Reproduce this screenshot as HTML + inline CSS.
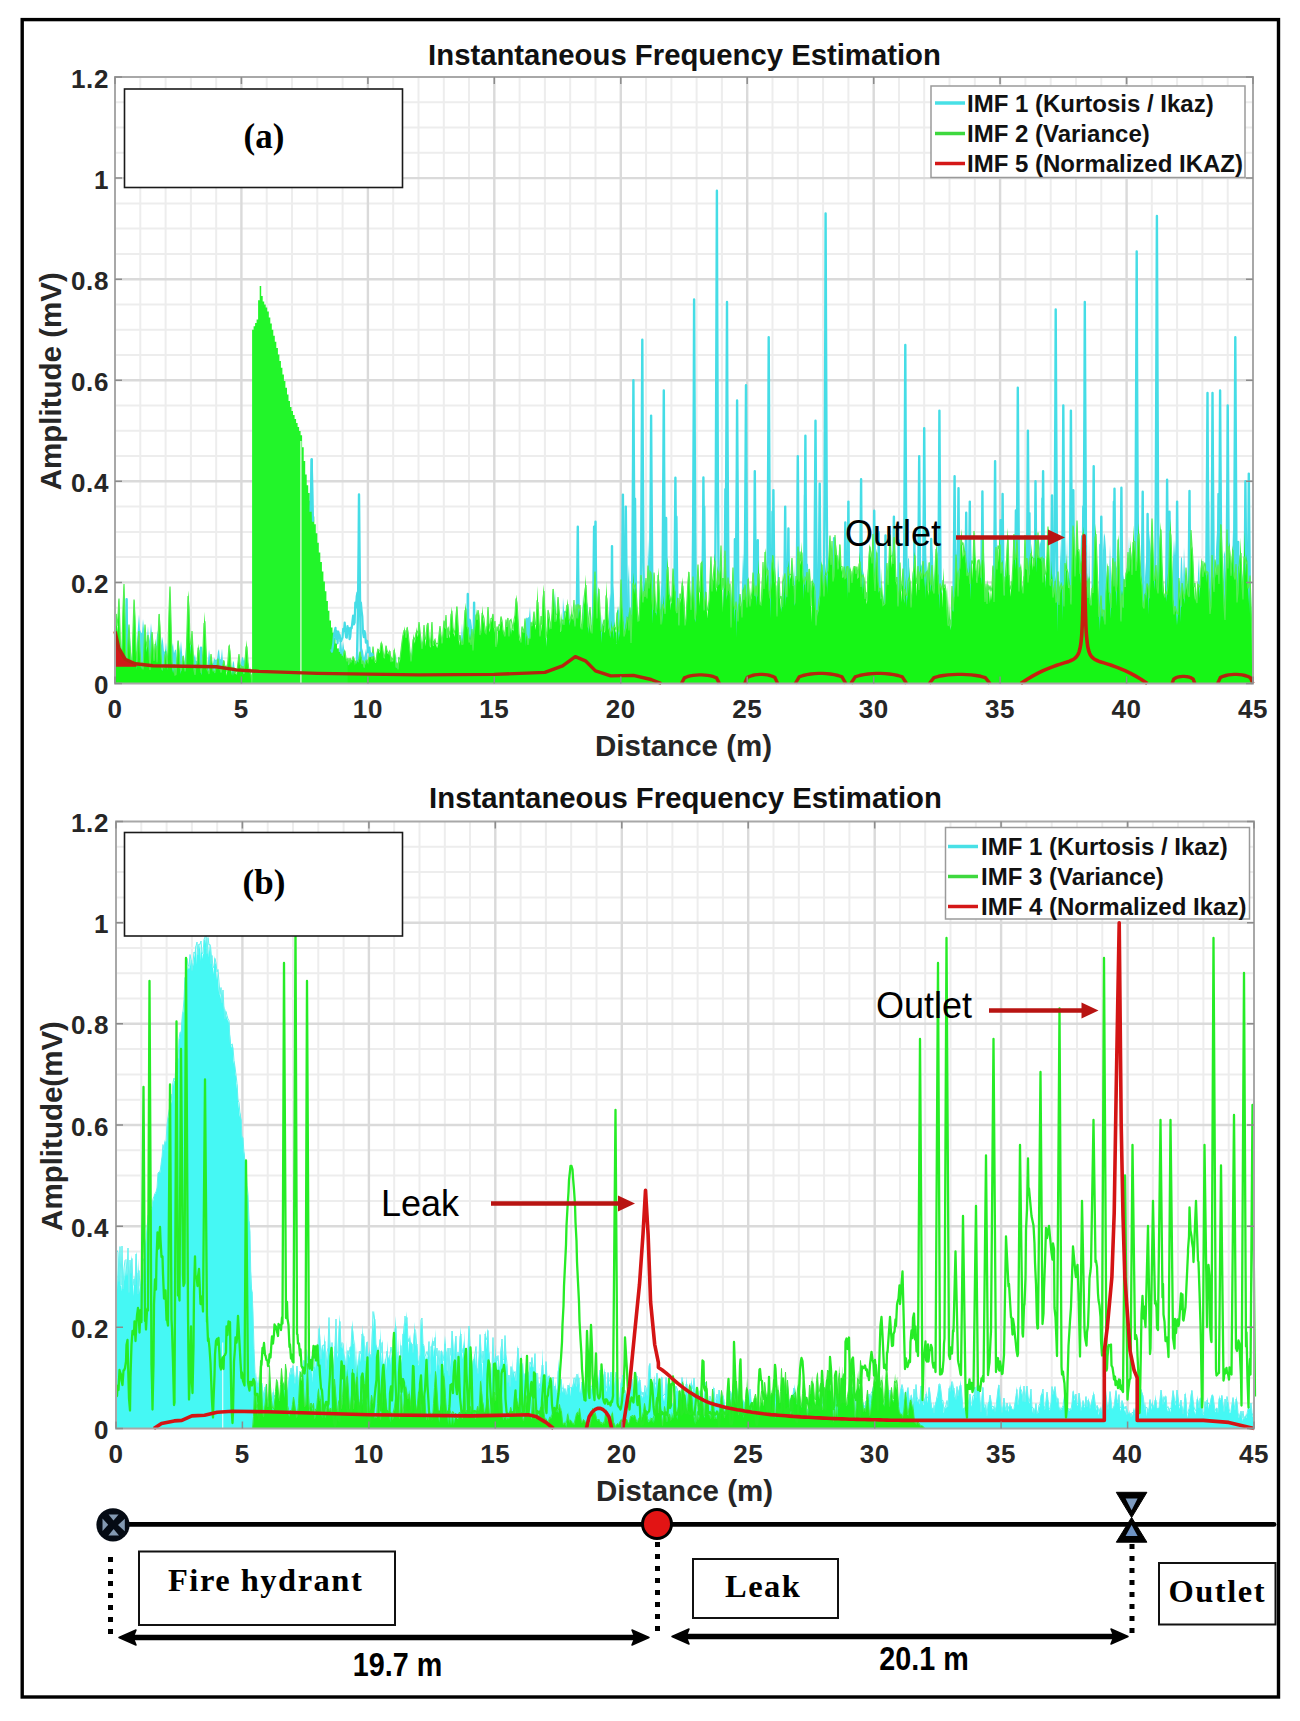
<!DOCTYPE html>
<html><head><meta charset="utf-8"><style>
html,body{margin:0;padding:0;background:#fff;}
svg{display:block}
text{font-family:"Liberation Sans", sans-serif;}
.tk{font-weight:bold;font-size:26px;letter-spacing:0.6px;fill:#262626}
.ttl{font-weight:bold;font-size:29.3px;fill:#111}
.xl{font-weight:bold;font-size:29.5px;fill:#262626}
.lg{font-weight:bold;font-size:24px;fill:#111}
.ann{font-size:36px;fill:#000}
.pl{font-family:"Liberation Serif", serif;font-weight:bold;font-size:35px;fill:#000}
.sr{font-family:"Liberation Serif", serif;font-weight:bold;font-size:32.5px;letter-spacing:1.5px;fill:#000}
.dm{font-weight:bold;font-size:33px;fill:#000}
</style></head>
<body><svg width="1300" height="1721" viewBox="0 0 1300 1721">
<rect width="1300" height="1721" fill="#fff"/>
<path d="M140.3 77.0V683.5M165.6 77.0V683.5M190.9 77.0V683.5M216.2 77.0V683.5M266.7 77.0V683.5M292.0 77.0V683.5M317.3 77.0V683.5M342.6 77.0V683.5M393.2 77.0V683.5M418.5 77.0V683.5M443.8 77.0V683.5M469.0 77.0V683.5M519.6 77.0V683.5M544.9 77.0V683.5M570.2 77.0V683.5M595.5 77.0V683.5M646.1 77.0V683.5M671.4 77.0V683.5M696.6 77.0V683.5M721.9 77.0V683.5M772.5 77.0V683.5M797.8 77.0V683.5M823.1 77.0V683.5M848.4 77.0V683.5M899.0 77.0V683.5M924.2 77.0V683.5M949.5 77.0V683.5M974.8 77.0V683.5M1025.4 77.0V683.5M1050.7 77.0V683.5M1076.0 77.0V683.5M1101.3 77.0V683.5M1151.8 77.0V683.5M1177.1 77.0V683.5M1202.4 77.0V683.5M1227.7 77.0V683.5M115.0 658.2H1253.0M115.0 633.0H1253.0M115.0 607.7H1253.0M115.0 557.1H1253.0M115.0 531.9H1253.0M115.0 506.6H1253.0M115.0 456.1H1253.0M115.0 430.8H1253.0M115.0 405.5H1253.0M115.0 355.0H1253.0M115.0 329.7H1253.0M115.0 304.4H1253.0M115.0 253.9H1253.0M115.0 228.6H1253.0M115.0 203.4H1253.0M115.0 152.8H1253.0M115.0 127.5H1253.0M115.0 102.3H1253.0" stroke="#ededed" stroke-width="2" fill="none"/>
<path d="M241.4 77.0V683.5M367.9 77.0V683.5M494.3 77.0V683.5M620.8 77.0V683.5M747.2 77.0V683.5M873.7 77.0V683.5M1000.1 77.0V683.5M1126.6 77.0V683.5M115.0 582.4H1253.0M115.0 481.3H1253.0M115.0 380.2H1253.0M115.0 279.2H1253.0M115.0 178.1H1253.0" stroke="#dadada" stroke-width="2.4" fill="none"/>
<polygon points="115.0,683.5 115.0,647.3 116.0,638.2 117.0,648.1 118.0,653.3 119.0,666.7 120.0,667.7 121.0,654.3 122.0,637.9 123.0,621.7 124.0,631.4 125.0,651.3 126.0,665.2 127.0,658.0 128.0,646.1 129.0,632.2 130.0,637.5 131.0,651.7 132.0,663.7 133.0,645.3 134.0,619.4 135.0,631.4 136.0,655.9 137.0,641.0 138.0,626.2 139.0,614.2 140.0,629.4 141.0,632.4 142.0,633.1 143.0,618.9 144.0,628.9 145.0,643.3 146.0,653.2 147.0,638.2 148.0,625.9 149.0,641.3 150.0,636.2 151.0,623.0 152.0,634.7 153.0,648.4 154.0,661.8 155.0,660.1 156.0,647.3 157.0,634.6 158.0,630.3 159.0,643.4 160.0,655.4 161.0,645.5 162.0,636.5 163.0,641.2 164.0,651.6 165.0,651.6 166.0,642.5 167.0,654.6 168.0,666.2 169.0,669.3 170.0,666.7 171.0,656.7 172.0,646.9 173.0,643.1 174.0,653.2 175.0,650.0 176.0,649.6 177.0,666.8 178.0,672.4 179.0,663.9 180.0,652.3 181.0,640.9 182.0,652.4 183.0,664.1 184.0,669.4 185.0,658.2 186.0,647.2 187.0,636.4 188.0,644.0 189.0,655.2 190.0,647.4 191.0,637.6 192.0,655.1 193.0,664.6 194.0,657.6 195.0,653.9 196.0,661.3 197.0,660.8 198.0,664.9 199.0,659.2 200.0,647.0 201.0,652.4 202.0,655.5 203.0,654.0 204.0,655.5 205.0,659.8 206.0,662.6 207.0,672.0 208.0,660.5 209.0,649.3 210.0,657.2 211.0,668.7 212.0,664.2 213.0,663.6 214.0,658.0 215.0,659.6 216.0,660.0 217.0,659.0 218.0,651.6 219.0,649.0 220.0,659.5 221.0,658.7 222.0,648.3 223.0,662.5 224.0,675.9 225.0,675.9 226.0,676.0 227.0,676.0 228.0,676.1 229.0,672.9 230.0,672.3 231.0,676.1 232.0,669.5 233.0,660.7 234.0,662.8 235.0,672.4 236.0,676.5 237.0,676.6 238.0,676.7 239.0,674.3 240.0,668.4 241.0,662.5 242.0,656.7 243.0,657.7 244.0,661.1 245.0,657.4 246.0,666.7 247.0,666.4 248.0,662.6 249.0,668.0 250.0,669.2 251.0,671.2 252.0,683.5 253.0,683.5 254.0,683.5 255.0,683.5 256.0,683.5 257.0,683.5 258.0,683.5 259.0,683.5 260.0,683.5 261.0,683.5 262.0,683.5 263.0,683.5 264.0,683.5 265.0,683.5 266.0,683.5 267.0,683.5 268.0,683.5 269.0,683.5 270.0,683.5 271.0,683.5 272.0,683.5 273.0,683.5 274.0,683.5 275.0,683.5 276.0,683.5 277.0,683.5 278.0,683.5 279.0,683.5 280.0,683.5 281.0,683.5 282.0,683.5 283.0,683.5 284.0,683.5 285.0,683.5 286.0,683.5 287.0,683.5 288.0,683.5 289.0,683.5 290.0,683.5 291.0,683.5 292.0,683.5 293.0,683.5 294.0,683.5 295.0,683.5 296.0,683.5 297.0,683.5 298.0,683.5 299.0,683.5 300.0,683.5 301.0,683.5 302.0,683.5 303.0,683.5 304.0,683.5 305.0,683.5 306.0,683.5 307.0,683.5 308.0,683.5 309.0,683.5 310.0,683.5 311.0,683.5 312.0,683.5 313.0,683.5 314.0,683.5 315.0,683.5 316.0,683.5 317.0,683.5 318.0,663.3 319.0,669.8 320.0,665.7 321.0,659.3 322.0,661.4 323.0,669.9 324.0,670.9 325.0,677.1 326.0,677.4 327.0,673.6 328.0,666.1 329.0,669.3 330.0,660.2 331.0,666.3 332.0,675.7 333.0,673.4 334.0,668.5 335.0,666.5 336.0,670.7 337.0,673.1 338.0,666.6 339.0,652.2 340.0,637.4 341.0,638.3 342.0,650.1 343.0,641.6 344.0,647.7 345.0,662.3 346.0,670.7 347.0,668.8 348.0,659.3 349.0,665.9 350.0,659.6 351.0,659.7 352.0,666.0 353.0,672.0 354.0,672.2 355.0,672.5 356.0,671.7 357.0,664.8 358.0,658.1 359.0,651.8 360.0,654.9 361.0,657.1 362.0,648.1 363.0,651.2 364.0,657.7 365.0,653.9 366.0,648.6 367.0,653.6 368.0,667.9 369.0,672.1 370.0,670.0 371.0,667.4 372.0,663.3 373.0,666.6 374.0,670.8 375.0,668.1 376.0,664.4 377.0,668.8 378.0,673.2 379.0,672.4 380.0,668.8 381.0,671.7 382.0,669.7 383.0,671.4 384.0,675.4 385.0,675.4 386.0,675.4 387.0,671.3 388.0,657.6 389.0,658.3 390.0,671.9 391.0,671.3 392.0,672.6 393.0,663.5 394.0,653.6 395.0,657.8 396.0,654.3 397.0,666.3 398.0,675.1 399.0,675.1 400.0,675.0 401.0,670.5 402.0,659.3 403.0,663.6 404.0,666.8 405.0,672.3 406.0,664.9 407.0,655.9 408.0,670.8 409.0,671.5 410.0,669.7 411.0,658.4 412.0,647.2 413.0,653.2 414.0,659.0 415.0,666.2 416.0,650.0 417.0,640.0 418.0,657.0 419.0,672.9 420.0,653.7 421.0,635.6 422.0,648.7 423.0,639.3 424.0,645.5 425.0,654.6 426.0,660.8 427.0,663.9 428.0,653.9 429.0,661.0 430.0,668.8 431.0,660.2 432.0,651.4 433.0,654.6 434.0,663.1 435.0,671.7 436.0,670.6 437.0,660.9 438.0,651.2 439.0,658.8 440.0,658.2 441.0,655.7 442.0,663.7 443.0,654.3 444.0,658.0 445.0,662.6 446.0,641.8 447.0,648.6 448.0,638.7 449.0,645.2 450.0,654.3 451.0,663.3 452.0,656.0 453.0,648.8 454.0,655.5 455.0,662.5 456.0,669.6 457.0,670.3 458.0,670.1 459.0,669.9 460.0,656.6 461.0,640.1 462.0,623.3 463.0,639.0 464.0,643.1 465.0,655.9 466.0,667.5 467.0,651.8 468.0,633.8 469.0,618.8 470.0,618.5 471.0,620.1 472.0,627.3 473.0,640.3 474.0,641.1 475.0,652.6 476.0,648.4 477.0,632.2 478.0,616.2 479.0,623.4 480.0,639.8 481.0,628.8 482.0,639.4 483.0,627.7 484.0,644.2 485.0,646.2 486.0,654.9 487.0,669.8 488.0,669.9 489.0,669.9 490.0,652.4 491.0,630.4 492.0,655.2 493.0,665.2 494.0,670.3 495.0,661.1 496.0,651.7 497.0,642.1 498.0,650.9 499.0,651.5 500.0,641.7 501.0,627.0 502.0,638.4 503.0,652.6 504.0,652.5 505.0,659.0 506.0,655.7 507.0,649.9 508.0,656.7 509.0,642.8 510.0,632.3 511.0,627.5 512.0,652.4 513.0,644.3 514.0,624.6 515.0,627.0 516.0,625.5 517.0,638.1 518.0,648.8 519.0,650.6 520.0,641.1 521.0,648.1 522.0,652.7 523.0,639.5 524.0,624.4 525.0,623.8 526.0,617.3 527.0,618.6 528.0,617.5 529.0,616.9 530.0,606.8 531.0,623.4 532.0,640.2 533.0,657.3 534.0,658.2 535.0,648.3 536.0,638.3 537.0,642.3 538.0,641.2 539.0,653.2 540.0,644.5 541.0,654.4 542.0,637.5 543.0,659.2 544.0,653.4 545.0,616.8 546.0,622.6 547.0,659.0 548.0,653.5 549.0,634.6 550.0,628.3 551.0,637.4 552.0,618.7 553.0,616.0 554.0,604.5 555.0,590.3 556.0,612.6 557.0,633.1 558.0,625.9 559.0,640.2 560.0,661.3 561.0,659.3 562.0,637.4 563.0,597.4 564.0,610.4 565.0,611.2 566.0,627.2 567.0,626.0 568.0,606.4 569.0,606.9 570.0,623.2 571.0,639.8 572.0,652.9 573.0,632.3 574.0,618.8 575.0,628.2 576.0,618.7 577.0,606.6 578.0,627.6 579.0,648.8 580.0,660.7 581.0,651.8 582.0,623.1 583.0,594.2 584.0,616.5 585.0,629.8 586.0,628.2 587.0,602.0 588.0,606.6 589.0,632.6 590.0,634.0 591.0,635.2 592.0,612.4 593.0,584.5 594.0,581.6 595.0,609.2 596.0,636.9 597.0,659.7 598.0,659.6 599.0,659.5 600.0,654.6 601.0,628.0 602.0,613.9 603.0,638.8 604.0,636.3 605.0,652.6 606.0,659.1 607.0,654.1 608.0,633.9 609.0,613.5 610.0,593.1 611.0,600.2 612.0,619.6 613.0,584.8 614.0,595.2 615.0,629.8 616.0,657.6 617.0,609.8 618.0,611.1 619.0,605.7 620.0,631.4 621.0,657.3 622.0,658.2 623.0,652.5 624.0,635.5 625.0,615.8 626.0,619.5 627.0,610.6 628.0,580.7 629.0,564.1 630.0,611.1 631.0,609.0 632.0,594.2 633.0,618.4 634.0,642.7 635.0,657.4 636.0,643.8 637.0,629.0 638.0,618.8 639.0,633.4 640.0,647.7 641.0,622.0 642.0,596.3 643.0,582.1 644.0,569.8 645.0,588.4 646.0,606.6 647.0,608.8 648.0,539.0 649.0,562.4 650.0,631.2 651.0,651.7 652.0,641.8 653.0,625.2 654.0,606.0 655.0,599.2 656.0,609.8 657.0,601.1 658.0,593.8 659.0,623.2 660.0,617.3 661.0,581.8 662.0,590.7 663.0,591.2 664.0,566.5 665.0,572.8 666.0,602.4 667.0,630.2 668.0,611.3 669.0,581.4 670.0,595.6 671.0,622.2 672.0,638.3 673.0,654.6 674.0,643.9 675.0,610.9 676.0,577.9 677.0,599.7 678.0,632.6 679.0,626.4 680.0,625.8 681.0,605.2 682.0,591.1 683.0,604.7 684.0,611.7 685.0,631.5 686.0,636.5 687.0,624.4 688.0,583.9 689.0,581.7 690.0,622.1 691.0,621.8 692.0,599.0 693.0,582.7 694.0,605.4 695.0,628.2 696.0,622.5 697.0,591.1 698.0,583.2 699.0,605.6 700.0,641.9 701.0,620.4 702.0,586.9 703.0,553.4 704.0,575.4 705.0,590.9 706.0,580.5 707.0,614.3 708.0,644.6 709.0,654.7 710.0,638.2 711.0,611.1 712.0,589.6 713.0,581.3 714.0,605.6 715.0,628.7 716.0,605.9 717.0,608.4 718.0,616.6 719.0,602.8 720.0,624.0 721.0,645.3 722.0,654.5 723.0,645.6 724.0,608.8 725.0,604.5 726.0,641.3 727.0,654.5 728.0,654.4 729.0,651.4 730.0,630.9 731.0,601.5 732.0,584.7 733.0,616.3 734.0,632.2 735.0,611.7 736.0,590.4 737.0,587.1 738.0,608.3 739.0,629.5 740.0,631.2 741.0,614.9 742.0,584.2 743.0,553.5 744.0,570.6 745.0,577.0 746.0,585.7 747.0,602.9 748.0,616.8 749.0,642.2 750.0,654.1 751.0,640.6 752.0,618.7 753.0,621.9 754.0,597.2 755.0,587.0 756.0,617.3 757.0,558.2 758.0,588.6 759.0,606.5 760.0,603.4 761.0,642.2 762.0,653.5 763.0,653.6 764.0,653.5 765.0,653.5 766.0,653.4 767.0,648.8 768.0,616.1 769.0,583.3 770.0,547.5 771.0,561.1 772.0,593.7 773.0,582.4 774.0,577.7 775.0,603.8 776.0,629.9 777.0,594.2 778.0,555.9 779.0,574.9 780.0,613.1 781.0,610.5 782.0,590.6 783.0,622.3 784.0,645.5 785.0,620.6 786.0,652.6 787.0,652.6 788.0,605.2 789.0,546.8 790.0,586.1 791.0,622.9 792.0,607.2 793.0,589.6 794.0,563.1 795.0,585.3 796.0,611.6 797.0,601.3 798.0,625.6 799.0,649.9 800.0,629.6 801.0,597.1 802.0,585.0 803.0,615.1 804.0,639.5 805.0,601.4 806.0,563.9 807.0,563.2 808.0,564.4 809.0,590.2 810.0,619.0 811.0,629.3 812.0,640.6 813.0,619.3 814.0,598.0 815.0,591.7 816.0,613.0 817.0,629.3 818.0,569.9 819.0,599.1 820.0,593.9 821.0,562.5 822.0,574.0 823.0,605.5 824.0,570.9 825.0,603.7 826.0,584.7 827.0,573.4 828.0,568.6 829.0,557.1 830.0,586.3 831.0,615.4 832.0,641.7 833.0,652.1 834.0,652.6 835.0,634.6 836.0,596.4 837.0,558.1 838.0,554.4 839.0,592.7 840.0,595.5 841.0,591.8 842.0,618.7 843.0,590.5 844.0,582.3 845.0,611.8 846.0,640.5 847.0,606.9 848.0,601.7 849.0,614.5 850.0,591.6 851.0,599.7 852.0,622.7 853.0,619.8 854.0,614.6 855.0,636.8 856.0,652.9 857.0,653.0 858.0,653.0 859.0,653.0 860.0,653.0 861.0,636.2 862.0,603.6 863.0,571.0 864.0,575.0 865.0,607.6 866.0,606.9 867.0,625.9 868.0,618.2 869.0,581.3 870.0,589.3 871.0,618.8 872.0,616.5 873.0,640.9 874.0,653.2 875.0,653.2 876.0,653.1 877.0,645.7 878.0,609.0 879.0,572.2 880.0,565.3 881.0,589.5 882.0,616.2 883.0,591.5 884.0,611.8 885.0,636.4 886.0,631.7 887.0,602.3 888.0,571.9 889.0,559.2 890.0,589.5 891.0,619.9 892.0,626.9 893.0,597.6 894.0,568.2 895.0,586.7 896.0,616.0 897.0,636.2 898.0,622.6 899.0,621.6 900.0,624.4 901.0,644.5 902.0,627.9 903.0,581.9 904.0,598.2 905.0,618.8 906.0,623.9 907.0,592.3 908.0,558.6 909.0,558.2 910.0,591.8 911.0,625.5 912.0,652.7 913.0,652.7 914.0,652.6 915.0,652.6 916.0,652.6 917.0,652.6 918.0,649.2 919.0,613.6 920.0,578.7 921.0,564.0 922.0,566.4 923.0,600.3 924.0,623.1 925.0,637.1 926.0,574.6 927.0,553.7 928.0,618.1 929.0,637.9 930.0,626.6 931.0,605.0 932.0,544.7 933.0,557.1 934.0,589.3 935.0,589.6 936.0,602.2 937.0,571.4 938.0,581.2 939.0,548.8 940.0,556.7 941.0,590.8 942.0,624.8 943.0,633.7 944.0,610.7 945.0,599.1 946.0,622.1 947.0,645.1 948.0,652.2 949.0,652.2 950.0,638.0 951.0,615.0 952.0,592.0 953.0,589.8 954.0,612.7 955.0,594.2 956.0,559.2 957.0,548.8 958.0,561.9 959.0,541.7 960.0,586.5 961.0,631.4 962.0,628.6 963.0,605.1 964.0,611.3 965.0,580.0 966.0,583.7 967.0,540.1 968.0,581.6 969.0,575.4 970.0,538.9 971.0,549.1 972.0,585.5 973.0,621.9 974.0,621.9 975.0,650.9 976.0,651.1 977.0,625.4 978.0,620.8 979.0,597.8 980.0,574.8 981.0,581.0 982.0,570.8 983.0,576.1 984.0,574.8 985.0,608.1 986.0,641.5 987.0,650.7 988.0,650.6 989.0,617.3 990.0,604.0 991.0,641.4 992.0,650.5 993.0,649.5 994.0,619.9 995.0,590.2 996.0,560.4 997.0,540.8 998.0,570.4 999.0,600.0 1000.0,629.8 1001.0,650.1 1002.0,650.1 1003.0,643.6 1004.0,626.0 1005.0,608.4 1006.0,617.4 1007.0,625.1 1008.0,627.3 1009.0,616.4 1010.0,630.8 1011.0,647.5 1012.0,643.4 1013.0,642.4 1014.0,650.0 1015.0,648.3 1016.0,634.4 1017.0,630.0 1018.0,643.9 1019.0,608.7 1020.0,615.3 1021.0,649.9 1022.0,648.2 1023.0,645.5 1024.0,649.2 1025.0,621.1 1026.0,583.0 1027.0,544.9 1028.0,564.2 1029.0,540.5 1030.0,592.8 1031.0,558.8 1032.0,595.4 1033.0,572.1 1034.0,542.4 1035.0,572.7 1036.0,585.1 1037.0,620.8 1038.0,607.3 1039.0,548.7 1040.0,540.8 1041.0,544.1 1042.0,596.8 1043.0,630.0 1044.0,618.2 1045.0,568.7 1046.0,598.2 1047.0,574.4 1048.0,562.8 1049.0,566.3 1050.0,600.0 1051.0,627.8 1052.0,649.5 1053.0,643.4 1054.0,649.4 1055.0,649.4 1056.0,649.4 1057.0,649.4 1058.0,642.7 1059.0,603.0 1060.0,563.2 1061.0,539.9 1062.0,570.9 1063.0,559.1 1064.0,507.4 1065.0,537.6 1066.0,583.5 1067.0,536.7 1068.0,586.6 1069.0,636.5 1070.0,649.2 1071.0,649.2 1072.0,601.3 1073.0,552.3 1074.0,566.5 1075.0,615.5 1076.0,649.1 1077.0,649.2 1078.0,628.3 1079.0,597.3 1080.0,566.4 1081.0,535.5 1082.0,535.3 1083.0,576.2 1084.0,617.1 1085.0,644.2 1086.0,649.3 1087.0,649.4 1088.0,615.7 1089.0,540.0 1090.0,586.6 1091.0,649.4 1092.0,649.5 1093.0,649.5 1094.0,649.5 1095.0,649.5 1096.0,649.5 1097.0,649.6 1098.0,641.0 1099.0,626.2 1100.0,619.1 1101.0,634.0 1102.0,599.8 1103.0,551.1 1104.0,532.8 1105.0,536.3 1106.0,550.0 1107.0,590.6 1108.0,610.2 1109.0,577.1 1110.0,544.2 1111.0,573.7 1112.0,606.7 1113.0,572.2 1114.0,531.3 1115.0,541.9 1116.0,565.3 1117.0,568.6 1118.0,596.9 1119.0,606.9 1120.0,580.0 1121.0,562.5 1122.0,533.2 1123.0,579.7 1124.0,574.4 1125.0,611.3 1126.0,648.1 1127.0,645.4 1128.0,571.9 1129.0,535.2 1130.0,575.7 1131.0,550.4 1132.0,580.4 1133.0,610.5 1134.0,640.6 1135.0,630.5 1136.0,583.3 1137.0,536.1 1138.0,549.9 1139.0,576.5 1140.0,611.8 1141.0,644.5 1142.0,649.8 1143.0,619.0 1144.0,604.8 1145.0,577.4 1146.0,561.8 1147.0,589.1 1148.0,578.9 1149.0,531.3 1150.0,541.9 1151.0,555.5 1152.0,557.7 1153.0,600.9 1154.0,602.2 1155.0,601.0 1156.0,574.9 1157.0,570.4 1158.0,596.4 1159.0,575.0 1160.0,554.9 1161.0,529.8 1162.0,565.2 1163.0,600.7 1164.0,633.7 1165.0,645.5 1166.0,618.7 1167.0,591.9 1168.0,565.0 1169.0,587.8 1170.0,614.6 1171.0,637.5 1172.0,598.4 1173.0,559.2 1174.0,539.0 1175.0,556.1 1176.0,540.7 1177.0,529.2 1178.0,570.1 1179.0,611.0 1180.0,588.8 1181.0,556.4 1182.0,558.6 1183.0,585.8 1184.0,547.0 1185.0,574.4 1186.0,575.9 1187.0,603.0 1188.0,636.0 1189.0,600.2 1190.0,559.3 1191.0,573.5 1192.0,614.4 1193.0,641.1 1194.0,649.1 1195.0,649.1 1196.0,624.4 1197.0,610.1 1198.0,573.6 1199.0,556.6 1200.0,593.1 1201.0,629.6 1202.0,649.1 1203.0,630.1 1204.0,607.2 1205.0,584.4 1206.0,602.0 1207.0,614.7 1208.0,589.3 1209.0,563.8 1210.0,578.6 1211.0,604.0 1212.0,629.5 1213.0,649.1 1214.0,641.0 1215.0,605.0 1216.0,549.8 1217.0,531.8 1218.0,551.1 1219.0,587.4 1220.0,554.3 1221.0,535.7 1222.0,578.3 1223.0,593.7 1224.0,550.8 1225.0,554.4 1226.0,597.3 1227.0,570.8 1228.0,541.1 1229.0,560.6 1230.0,590.3 1231.0,600.3 1232.0,565.0 1233.0,529.6 1234.0,554.7 1235.0,548.4 1236.0,536.6 1237.0,571.3 1238.0,606.0 1239.0,640.7 1240.0,649.1 1241.0,623.8 1242.0,582.8 1243.0,570.0 1244.0,594.1 1245.0,634.6 1246.0,629.5 1247.0,610.5 1248.0,605.1 1249.0,624.1 1250.0,643.0 1251.0,651.6 1252.0,624.3 1253.0,611.2 1253.0,683.5" fill="#4ee0e8"/>
<path d="M574.2 683.5 L575.7 669.0 L576.7 621.5 L577.4 564.4 L577.8 526.8 L578.1 564.4 L578.8 621.5 L579.9 669.0 L581.3 683.5M591.9 683.5 L593.4 668.6 L594.4 619.5 L595.1 560.5 L595.5 521.8 L595.8 560.5 L596.6 619.5 L597.6 668.6 L599.0 683.5M629.9 683.5 L631.3 655.5 L632.4 563.5 L633.1 452.9 L633.4 380.2 L633.8 452.9 L634.5 563.5 L635.5 655.5 L637.0 683.5M638.7 683.5 L640.1 651.8 L641.2 547.5 L641.9 422.2 L642.3 339.8 L642.6 422.2 L643.3 547.5 L644.4 651.8 L645.8 683.5M647.6 683.5 L649.0 658.8 L650.1 577.5 L650.8 479.8 L651.1 415.6 L651.5 479.8 L652.2 577.5 L653.2 658.8 L654.7 683.5M660.2 683.5 L661.6 656.4 L662.7 567.5 L663.4 460.6 L663.8 390.4 L664.1 460.6 L664.8 567.5 L665.9 656.4 L667.3 683.5M690.6 683.5 L692.0 648.0 L693.1 531.5 L693.8 391.4 L694.1 299.4 L694.5 391.4 L695.2 531.5 L696.2 648.0 L697.7 683.5M700.7 683.5 L702.1 667.2 L703.2 613.5 L703.9 549.0 L704.2 506.6 L704.6 549.0 L705.3 613.5 L706.4 667.2 L707.8 683.5M713.3 683.5 L714.8 638.0 L715.8 488.6 L716.5 308.8 L716.9 190.7 L717.2 308.8 L717.9 488.6 L719.0 638.0 L720.4 683.5M723.5 683.5 L724.9 648.3 L725.9 532.5 L726.6 393.3 L727.0 301.9 L727.3 393.3 L728.1 532.5 L729.1 648.3 L730.5 683.5M733.6 683.5 L735.0 657.4 L736.0 571.5 L736.8 468.3 L737.1 400.5 L737.5 468.3 L738.2 571.5 L739.2 657.4 L740.6 683.5M742.4 683.5 L743.8 656.0 L744.9 565.5 L745.6 456.8 L746.0 385.3 L746.3 456.8 L747.0 565.5 L748.1 656.0 L749.5 683.5M751.3 683.5 L752.7 663.9 L753.7 599.5 L754.5 522.1 L754.8 471.2 L755.2 522.1 L755.9 599.5 L756.9 663.9 L758.3 683.5M765.2 683.5 L766.6 651.5 L767.7 546.5 L768.4 420.2 L768.7 337.3 L769.1 420.2 L769.8 546.5 L770.8 651.5 L772.3 683.5M794.3 683.5 L795.7 662.5 L796.7 593.5 L797.4 510.6 L797.8 456.1 L798.2 510.6 L798.9 593.5 L799.9 662.5 L801.3 683.5M801.8 683.5 L803.3 660.6 L804.3 585.5 L805.0 495.2 L805.4 435.8 L805.7 495.2 L806.4 585.5 L807.5 660.6 L808.9 683.5M812.0 683.5 L813.4 659.2 L814.4 579.5 L815.1 483.7 L815.5 420.7 L815.9 483.7 L816.6 579.5 L817.6 659.2 L819.0 683.5M822.1 683.5 L823.5 640.1 L824.6 497.6 L825.3 326.1 L825.6 213.5 L826.0 326.1 L826.7 497.6 L827.7 640.1 L829.2 683.5M901.7 683.5 L903.2 652.2 L904.2 549.5 L904.9 426.0 L905.3 344.9 L905.6 426.0 L906.3 549.5 L907.4 652.2 L908.8 683.5M915.6 683.5 L917.1 662.5 L918.1 593.5 L918.8 510.6 L919.2 456.1 L919.5 510.6 L920.2 593.5 L921.3 662.5 L922.7 683.5M920.7 683.5 L922.1 659.9 L923.2 582.5 L923.9 489.4 L924.2 428.3 L924.6 489.4 L925.3 582.5 L926.4 659.9 L927.8 683.5M935.9 683.5 L937.3 658.3 L938.4 575.5 L939.1 476.0 L939.4 410.6 L939.8 476.0 L940.5 575.5 L941.5 658.3 L943.0 683.5M951.1 683.5 L952.5 664.4 L953.5 601.5 L954.2 525.9 L954.6 476.3 L954.9 525.9 L955.7 601.5 L956.7 664.4 L958.1 683.5M991.5 683.5 L992.9 663.0 L994.0 595.5 L994.7 514.4 L995.1 461.1 L995.4 514.4 L996.1 595.5 L997.2 663.0 L998.6 683.5M999.1 683.5 L1000.5 666.0 L1001.6 608.5 L1002.3 539.4 L1002.6 494.0 L1003.0 539.4 L1003.7 608.5 L1004.8 666.0 L1006.2 683.5M1014.3 683.5 L1015.7 656.2 L1016.8 566.5 L1017.5 458.7 L1017.8 387.8 L1018.2 458.7 L1018.9 566.5 L1019.9 656.2 L1021.4 683.5M1024.4 683.5 L1025.8 660.2 L1026.9 583.5 L1027.6 491.3 L1027.9 430.8 L1028.3 491.3 L1029.0 583.5 L1030.1 660.2 L1031.5 683.5M1039.6 683.5 L1041.0 663.9 L1042.0 599.5 L1042.7 522.1 L1043.1 471.2 L1043.5 522.1 L1044.2 599.5 L1045.2 663.9 L1046.6 683.5M1052.2 683.5 L1053.6 649.0 L1054.7 535.5 L1055.4 399.1 L1055.7 309.5 L1056.1 399.1 L1056.8 535.5 L1057.9 649.0 L1059.3 683.5M1059.8 683.5 L1061.2 657.8 L1062.3 573.5 L1063.0 472.1 L1063.3 405.5 L1063.7 472.1 L1064.4 573.5 L1065.5 657.8 L1066.9 683.5M1067.4 683.5 L1068.8 658.3 L1069.9 575.5 L1070.6 476.0 L1070.9 410.6 L1071.3 476.0 L1072.0 575.5 L1073.0 658.3 L1074.5 683.5M1081.3 683.5 L1082.7 648.3 L1083.8 532.5 L1084.5 393.3 L1084.8 301.9 L1085.2 393.3 L1085.9 532.5 L1087.0 648.3 L1088.4 683.5M1090.1 683.5 L1091.6 663.4 L1092.6 597.5 L1093.3 518.2 L1093.7 466.2 L1094.0 518.2 L1094.7 597.5 L1095.8 663.4 L1097.2 683.5M1133.1 683.5 L1134.5 643.6 L1135.6 512.5 L1136.3 354.9 L1136.7 251.4 L1137.0 354.9 L1137.7 512.5 L1138.8 643.6 L1140.2 683.5M1153.4 683.5 L1154.8 640.3 L1155.8 498.6 L1156.5 328.0 L1156.9 216.0 L1157.3 328.0 L1158.0 498.6 L1159.0 640.3 L1160.4 683.5M1203.9 683.5 L1205.4 656.7 L1206.4 568.5 L1207.1 462.5 L1207.5 392.9 L1207.8 462.5 L1208.5 568.5 L1209.6 656.7 L1211.0 683.5M1209.0 683.5 L1210.4 656.7 L1211.5 568.5 L1212.2 462.5 L1212.5 392.9 L1212.9 462.5 L1213.6 568.5 L1214.7 656.7 L1216.1 683.5M1216.6 683.5 L1218.0 656.4 L1219.1 567.5 L1219.8 460.6 L1220.1 390.4 L1220.5 460.6 L1221.2 567.5 L1222.2 656.4 L1223.7 683.5M1224.2 683.5 L1225.6 657.8 L1226.6 573.5 L1227.4 472.1 L1227.7 405.5 L1228.1 472.1 L1228.8 573.5 L1229.8 657.8 L1231.3 683.5M1231.8 683.5 L1233.2 651.5 L1234.2 546.5 L1234.9 420.2 L1235.3 337.3 L1235.7 420.2 L1236.4 546.5 L1237.4 651.5 L1238.8 683.5M1241.9 683.5 L1243.3 664.8 L1244.4 603.5 L1245.1 529.8 L1245.4 481.3 L1245.8 529.8 L1246.5 603.5 L1247.5 664.8 L1249.0 683.5M355.5 683.5 L356.9 666.0 L358.0 608.7 L358.7 539.8 L359.0 494.5 L359.4 539.8 L360.1 608.7 L361.2 666.0 L362.6 683.5M465.8 683.5 L466.6 675.2 L467.2 648.1 L467.6 615.5 L467.8 594.0 L468.0 615.5 L468.4 648.1 L469.0 675.2 L469.8 683.5M472.1 683.5 L472.9 676.0 L473.5 651.5 L473.9 622.0 L474.1 602.6 L474.3 622.0 L474.7 651.5 L475.3 676.0 L476.1 683.5M124.6 683.5 L125.4 675.7 L126.0 650.1 L126.4 619.3 L126.6 599.1 L126.8 619.3 L127.2 650.1 L127.8 675.7 L128.7 683.5M199.0 683.5 L199.8 680.2 L200.4 669.3 L200.8 656.2 L201.0 647.6 L201.2 656.2 L201.6 669.3 L202.2 680.2 L203.0 683.5M308.2 683.5 L309.6 662.8 L310.7 594.7 L311.4 512.9 L311.7 459.1 L312.1 512.9 L312.8 594.7 L313.9 662.8 L315.3 683.5M857.5 683.5 L858.9 668.1 L860.0 617.5 L860.7 556.7 L861.0 516.7 L861.4 556.7 L862.1 617.5 L863.1 668.1 L864.6 683.5M876.7 683.5 L877.5 669.5 L878.1 623.5 L878.5 568.2 L878.7 531.9 L878.9 568.2 L879.3 623.5 L879.9 669.5 L880.7 683.5M966.2 683.5 L967.6 666.7 L968.7 611.5 L969.4 545.1 L969.8 501.6 L970.1 545.1 L970.8 611.5 L971.9 666.7 L973.3 683.5M1110.4 683.5 L1111.8 666.7 L1112.8 611.5 L1113.6 545.1 L1113.9 501.6 L1114.3 545.1 L1115.0 611.5 L1116.0 666.7 L1117.5 683.5M1173.6 683.5 L1175.0 666.7 L1176.1 611.5 L1176.8 545.1 L1177.1 501.6 L1177.5 545.1 L1178.2 611.5 L1179.3 666.7 L1180.7 683.5M781.6 683.5 L783.0 667.2 L784.1 613.5 L784.8 549.0 L785.2 506.6 L785.5 549.0 L786.2 613.5 L787.3 667.2 L788.7 683.5M844.8 683.5 L846.3 666.7 L847.3 611.5 L848.0 545.1 L848.4 501.6 L848.7 545.1 L849.4 611.5 L850.5 666.7 L851.9 683.5M978.9 683.5 L980.3 665.8 L981.3 607.5 L982.1 537.5 L982.4 491.4 L982.8 537.5 L983.5 607.5 L984.5 665.8 L985.9 683.5M1032.0 683.5 L1033.4 664.8 L1034.5 603.5 L1035.2 529.8 L1035.5 481.3 L1035.9 529.8 L1036.6 603.5 L1037.6 664.8 L1039.1 683.5M622.3 683.5 L623.7 667.2 L624.8 613.5 L625.5 549.0 L625.8 506.6 L626.2 549.0 L626.9 613.5 L628.0 667.2 L629.4 683.5M672.9 683.5 L674.3 668.1 L675.4 617.5 L676.1 556.7 L676.4 516.7 L676.8 556.7 L677.5 617.5 L678.5 668.1 L680.0 683.5M769.0 683.5 L770.4 667.6 L771.4 615.5 L772.2 552.8 L772.5 511.7 L772.9 552.8 L773.6 615.5 L774.6 667.6 L776.1 683.5M890.4 683.5 L891.8 668.1 L892.8 617.5 L893.5 556.7 L893.9 516.7 L894.3 556.7 L895.0 617.5 L896.0 668.1 L897.4 683.5M1097.7 683.5 L1099.1 668.1 L1100.2 617.5 L1100.9 556.7 L1101.3 516.7 L1101.6 556.7 L1102.3 617.5 L1103.4 668.1 L1104.8 683.5M1166.0 683.5 L1167.4 667.6 L1168.5 615.5 L1169.2 552.8 L1169.5 511.7 L1169.9 552.8 L1170.6 615.5 L1171.7 667.6 L1173.1 683.5M590.5 683.5 L592.0 669.0 L593.0 621.4 L593.7 564.2 L594.1 526.6 L594.4 564.2 L595.1 621.4 L596.2 669.0 L597.6 683.5M609.9 683.5 L610.7 670.8 L611.4 629.2 L611.8 579.1 L612.0 546.1 L612.2 579.1 L612.6 629.2 L613.2 670.8 L614.0 683.5M619.3 683.5 L620.7 666.1 L621.8 608.8 L622.5 539.8 L622.9 494.6 L623.2 539.8 L623.9 608.8 L625.0 666.1 L626.4 683.5M631.5 683.5 L632.9 666.4 L634.0 610.4 L634.7 543.0 L635.0 498.8 L635.4 543.0 L636.1 610.4 L637.2 666.4 L638.6 683.5M647.9 683.5 L649.3 665.3 L650.4 605.4 L651.1 533.3 L651.5 486.0 L651.8 533.3 L652.5 605.4 L653.6 665.3 L655.0 683.5M662.6 683.5 L664.0 668.2 L665.0 618.0 L665.7 557.6 L666.1 518.0 L666.4 557.6 L667.2 618.0 L668.2 668.2 L669.6 683.5M671.9 683.5 L673.3 664.5 L674.3 602.1 L675.0 527.0 L675.4 477.7 L675.8 527.0 L676.5 602.1 L677.5 664.5 L678.9 683.5M691.8 683.5 L692.6 670.7 L693.2 628.8 L693.6 578.4 L693.8 545.2 L694.0 578.4 L694.4 628.8 L695.0 670.7 L695.8 683.5M699.9 683.5 L701.3 664.5 L702.3 602.0 L703.1 526.8 L703.4 477.4 L703.8 526.8 L704.5 602.0 L705.5 664.5 L706.9 683.5M721.9 683.5 L723.3 665.5 L724.3 606.6 L725.1 535.7 L725.4 489.1 L725.8 535.7 L726.5 606.6 L727.5 665.5 L728.9 683.5M732.9 683.5 L733.7 670.2 L734.3 626.4 L734.7 573.8 L734.9 539.3 L735.1 573.8 L735.5 626.4 L736.1 670.2 L736.9 683.5M742.0 683.5 L743.4 664.0 L744.4 599.9 L745.2 522.8 L745.5 472.2 L745.9 522.8 L746.6 599.9 L747.6 664.0 L749.0 683.5M755.7 683.5 L756.6 670.3 L757.2 626.8 L757.6 574.6 L757.8 540.2 L758.0 574.6 L758.4 626.8 L759.0 670.3 L759.8 683.5M769.9 683.5 L771.3 665.6 L772.4 607.0 L773.1 536.4 L773.4 490.1 L773.8 536.4 L774.5 607.0 L775.5 665.6 L777.0 683.5M784.8 683.5 L786.3 669.2 L787.3 622.2 L788.0 565.6 L788.4 528.5 L788.7 565.6 L789.4 622.2 L790.5 669.2 L791.9 683.5M801.3 683.5 L802.7 666.1 L803.8 608.8 L804.5 539.9 L804.9 494.7 L805.2 539.9 L805.9 608.8 L807.0 666.1 L808.4 683.5M816.1 683.5 L817.6 665.0 L818.6 604.4 L819.3 531.5 L819.7 483.6 L820.0 531.5 L820.7 604.4 L821.8 665.0 L823.2 683.5M832.1 683.5 L832.9 670.1 L833.5 626.0 L833.9 572.9 L834.1 538.1 L834.3 572.9 L834.7 626.0 L835.3 670.1 L836.1 683.5M841.7 683.5 L843.1 668.6 L844.2 619.8 L844.9 561.0 L845.3 522.4 L845.6 561.0 L846.3 619.8 L847.4 668.6 L848.8 683.5M857.5 683.5 L859.0 664.6 L860.0 602.7 L860.7 528.1 L861.1 479.2 L861.4 528.1 L862.1 602.7 L863.2 664.6 L864.6 683.5M870.7 683.5 L872.1 667.6 L873.1 615.2 L873.9 552.2 L874.2 510.8 L874.6 552.2 L875.3 615.2 L876.3 667.6 L877.7 683.5M883.5 683.5 L884.3 669.8 L884.9 624.9 L885.3 570.9 L885.5 535.4 L885.7 570.9 L886.1 624.9 L886.7 669.8 L887.5 683.5M896.6 683.5 L897.4 670.3 L898.0 626.9 L898.4 574.7 L898.6 540.5 L898.8 574.7 L899.2 626.9 L899.9 670.3 L900.7 683.5M912.4 683.5 L913.2 670.0 L913.8 625.8 L914.2 572.6 L914.4 537.7 L914.6 572.6 L915.0 625.8 L915.6 670.0 L916.4 683.5M929.2 683.5 L930.0 670.2 L930.6 626.3 L931.0 573.6 L931.2 539.0 L931.4 573.6 L931.8 626.3 L932.4 670.2 L933.2 683.5M936.0 683.5 L937.4 668.4 L938.5 618.8 L939.2 559.2 L939.5 520.0 L939.9 559.2 L940.6 618.8 L941.6 668.4 L943.1 683.5M955.0 683.5 L956.4 665.5 L957.4 606.2 L958.1 535.0 L958.5 488.2 L958.8 535.0 L959.6 606.2 L960.6 665.5 L962.0 683.5M962.6 683.5 L964.1 667.7 L965.1 615.9 L965.8 553.6 L966.2 512.7 L966.5 553.6 L967.2 615.9 L968.3 667.7 L969.7 683.5M979.7 683.5 L980.5 670.2 L981.1 626.6 L981.5 574.1 L981.7 539.6 L981.9 574.1 L982.3 626.6 L983.0 670.2 L983.8 683.5M997.0 683.5 L998.4 668.4 L999.5 618.9 L1000.2 559.4 L1000.6 520.3 L1000.9 559.4 L1001.6 618.9 L1002.7 668.4 L1004.1 683.5M1012.3 683.5 L1013.7 667.5 L1014.8 615.0 L1015.5 551.9 L1015.9 510.4 L1016.2 551.9 L1016.9 615.0 L1018.0 667.5 L1019.4 683.5M1025.8 683.5 L1027.2 667.8 L1028.3 616.1 L1029.0 553.9 L1029.4 513.1 L1029.7 553.9 L1030.4 616.1 L1031.5 667.8 L1032.9 683.5M1038.9 683.5 L1040.3 666.4 L1041.4 610.3 L1042.1 542.8 L1042.4 498.4 L1042.8 542.8 L1043.5 610.3 L1044.6 666.4 L1046.0 683.5M1048.5 683.5 L1049.9 666.1 L1050.9 609.1 L1051.6 540.5 L1052.0 495.4 L1052.3 540.5 L1053.1 609.1 L1054.1 666.1 L1055.5 683.5M1069.8 683.5 L1071.2 665.7 L1072.3 607.1 L1073.0 536.6 L1073.3 490.3 L1073.7 536.6 L1074.4 607.1 L1075.5 665.7 L1076.9 683.5M1079.8 683.5 L1081.2 667.1 L1082.3 613.4 L1083.0 548.8 L1083.3 506.4 L1083.7 548.8 L1084.4 613.4 L1085.4 667.1 L1086.9 683.5M1098.3 683.5 L1099.1 670.7 L1099.8 628.6 L1100.2 578.0 L1100.4 544.8 L1100.6 578.0 L1101.0 628.6 L1101.6 670.7 L1102.4 683.5M1111.0 683.5 L1112.4 665.5 L1113.5 606.4 L1114.2 535.4 L1114.5 488.7 L1114.9 535.4 L1115.6 606.4 L1116.7 665.5 L1118.1 683.5M1117.8 683.5 L1119.3 665.4 L1120.3 606.0 L1121.0 534.6 L1121.4 487.7 L1121.7 534.6 L1122.4 606.0 L1123.5 665.4 L1124.9 683.5M1139.1 683.5 L1140.6 665.8 L1141.6 607.6 L1142.3 537.7 L1142.7 491.7 L1143.0 537.7 L1143.8 607.6 L1144.8 665.8 L1146.2 683.5M1144.1 683.5 L1145.5 667.8 L1146.5 616.4 L1147.3 554.5 L1147.6 513.9 L1148.0 554.5 L1148.7 616.4 L1149.7 667.8 L1151.1 683.5M1163.6 683.5 L1165.0 664.7 L1166.1 602.9 L1166.8 528.6 L1167.1 479.8 L1167.5 528.6 L1168.2 602.9 L1169.3 664.7 L1170.7 683.5M1175.2 683.5 L1176.0 670.2 L1176.6 626.6 L1177.0 574.2 L1177.2 539.7 L1177.4 574.2 L1177.8 626.6 L1178.4 670.2 L1179.2 683.5M1185.9 683.5 L1187.3 665.7 L1188.4 607.3 L1189.1 537.1 L1189.5 490.9 L1189.8 537.1 L1190.5 607.3 L1191.6 665.7 L1193.0 683.5M1204.6 683.5 L1206.1 666.7 L1207.1 611.6 L1207.8 545.4 L1208.2 501.8 L1208.5 545.4 L1209.2 611.6 L1210.3 666.7 L1211.7 683.5M1214.9 683.5 L1216.4 666.0 L1217.4 608.5 L1218.1 539.4 L1218.5 494.0 L1218.8 539.4 L1219.5 608.5 L1220.6 666.0 L1222.0 683.5M1236.2 683.5 L1237.0 670.4 L1237.6 627.5 L1238.0 575.9 L1238.2 541.9 L1238.4 575.9 L1238.8 627.5 L1239.4 670.4 L1240.2 683.5M1245.3 683.5 L1246.7 664.1 L1247.8 600.5 L1248.5 523.9 L1248.8 473.6 L1249.2 523.9 L1249.9 600.5 L1250.9 664.1 L1252.4 683.5" fill="none" stroke="#45dde6" stroke-width="2.4" stroke-linejoin="round"/>
<polygon points="115.0,683.5 115.0,640.4 115.5,626.9 116.0,614.2 116.5,613.5 117.0,626.1 117.5,632.7 118.0,616.5 118.5,601.2 119.0,598.6 119.5,613.8 120.0,629.8 120.5,647.2 121.0,664.4 121.5,660.6 122.0,647.9 122.5,627.3 123.0,608.5 123.5,590.8 124.0,583.9 124.5,601.2 125.0,619.6 125.5,639.3 126.0,661.7 126.5,662.1 127.0,662.8 127.5,652.3 128.0,641.2 128.5,630.9 129.0,624.6 129.5,634.6 130.0,645.2 130.5,656.5 131.0,662.1 131.5,661.8 132.0,664.0 132.5,647.9 133.0,630.5 133.5,614.5 134.0,599.4 134.5,601.2 135.0,616.4 135.5,632.6 136.0,650.1 136.5,669.8 137.0,662.4 137.5,651.4 138.0,641.4 138.5,631.9 139.0,631.1 139.5,640.5 140.0,650.5 140.5,661.4 141.0,665.7 141.5,669.3 142.0,663.7 142.5,663.5 143.0,669.3 143.5,656.6 144.0,645.2 144.5,634.7 145.0,624.7 145.5,630.9 146.0,641.2 146.5,652.2 147.0,647.7 147.5,639.1 148.0,635.0 148.5,643.3 149.0,652.2 149.5,661.7 150.0,670.1 150.5,661.0 151.0,650.6 151.5,641.1 152.0,632.0 152.5,634.7 153.0,643.9 153.5,653.7 154.0,661.0 154.5,652.7 155.0,644.9 155.5,638.6 156.0,646.0 156.5,653.9 157.0,662.3 157.5,654.7 158.0,640.1 158.5,626.7 159.0,614.0 159.5,613.7 160.0,626.4 160.5,639.8 161.0,654.4 161.5,667.0 162.0,670.1 162.5,671.0 163.0,666.3 163.5,667.0 164.0,667.6 164.5,661.0 165.0,654.8 165.5,649.0 166.0,653.0 166.5,659.0 167.0,665.5 167.5,670.5 168.0,650.2 168.5,630.2 169.0,612.0 169.5,594.8 170.0,586.4 170.5,603.1 171.0,620.8 171.5,639.8 172.0,661.3 172.5,672.4 173.0,668.9 173.5,673.7 174.0,663.9 174.5,665.3 175.0,675.0 175.5,664.3 176.0,674.7 176.5,665.2 177.0,656.3 177.5,648.1 178.0,640.3 178.5,641.2 179.0,649.0 179.5,657.3 180.0,666.3 180.5,674.0 181.0,670.9 181.5,670.2 182.0,666.4 182.5,661.0 183.0,655.9 183.5,655.3 184.0,660.4 184.5,664.0 185.0,671.6 185.5,670.2 186.0,664.4 186.5,649.6 187.0,630.4 187.5,612.8 188.0,596.2 188.5,590.6 189.0,606.8 189.5,624.0 190.0,642.6 190.5,654.7 191.0,644.9 191.5,635.6 192.0,631.1 192.5,640.1 193.0,649.6 193.5,659.9 194.0,670.2 194.5,668.1 195.0,675.2 195.5,669.0 196.0,665.0 196.5,668.2 197.0,663.4 197.5,656.0 198.0,649.0 198.5,643.7 199.0,650.3 199.5,657.3 200.0,664.8 200.5,665.2 201.0,673.0 201.5,675.3 202.0,668.0 202.5,664.3 203.0,649.4 203.5,636.1 204.0,623.6 204.5,611.8 205.0,622.5 205.5,634.9 206.0,648.1 206.5,662.8 207.0,669.3 207.5,666.3 208.0,670.9 208.5,671.4 209.0,674.0 209.5,670.1 210.0,664.4 210.5,659.1 211.0,654.1 211.5,657.1 212.0,662.3 212.5,667.8 213.0,670.9 213.5,670.8 214.0,671.2 214.5,673.6 215.0,672.1 215.5,667.3 216.0,667.5 216.5,665.8 217.0,665.7 217.5,661.3 218.0,658.3 218.5,662.6 219.0,667.1 219.5,666.8 220.0,668.7 220.5,671.4 221.0,672.5 221.5,671.0 222.0,668.5 222.5,667.5 223.0,664.4 223.5,660.2 224.0,660.3 224.5,664.6 225.0,669.1 225.5,666.4 226.0,666.5 226.5,675.7 227.0,672.2 227.5,668.3 228.0,660.0 228.5,652.4 229.0,645.3 229.5,643.7 230.0,650.8 230.5,658.2 231.0,666.3 231.5,675.3 232.0,669.0 232.5,675.9 233.0,667.5 233.5,675.7 234.0,668.1 234.5,667.9 235.0,673.7 235.5,673.9 236.0,670.7 236.5,675.6 237.0,671.6 237.5,668.0 238.0,662.4 238.5,657.3 239.0,654.0 239.5,659.0 240.0,664.3 240.5,669.9 241.0,665.8 241.5,665.7 242.0,671.0 242.5,666.7 243.0,666.2 243.5,674.2 244.0,674.0 244.5,667.6 245.0,662.7 245.5,654.6 246.0,647.2 246.5,640.1 247.0,647.1 247.5,654.6 248.0,662.6 248.5,669.7 249.0,671.7 249.5,671.4 250.0,672.6 250.5,666.8 251.0,674.6 251.5,675.0 252.0,683.5 252.5,683.5 253.0,683.5 253.5,683.5 254.0,683.5 254.5,683.5 255.0,683.5 255.5,683.5 256.0,683.5 256.5,683.5 257.0,683.5 257.5,683.5 258.0,683.5 258.5,683.5 259.0,683.5 259.5,683.5 260.0,683.5 260.5,683.5 261.0,683.5 261.5,683.5 262.0,683.5 262.5,683.5 263.0,683.5 263.5,683.5 264.0,683.5 264.5,683.5 265.0,683.5 265.5,683.5 266.0,683.5 266.5,683.5 267.0,683.5 267.5,683.5 268.0,683.5 268.5,683.5 269.0,683.5 269.5,683.5 270.0,683.5 270.5,683.5 271.0,683.5 271.5,683.5 272.0,683.5 272.5,683.5 273.0,683.5 273.5,683.5 274.0,683.5 274.5,683.5 275.0,683.5 275.5,683.5 276.0,683.5 276.5,683.5 277.0,683.5 277.5,683.5 278.0,683.5 278.5,683.5 279.0,683.5 279.5,683.5 280.0,683.5 280.5,683.5 281.0,683.5 281.5,683.5 282.0,683.5 282.5,683.5 283.0,683.5 283.5,683.5 284.0,683.5 284.5,683.5 285.0,683.5 285.5,683.5 286.0,683.5 286.5,683.5 287.0,683.5 287.5,683.5 288.0,683.5 288.5,683.5 289.0,683.5 289.5,683.5 290.0,683.5 290.5,683.5 291.0,683.5 291.5,683.5 292.0,683.5 292.5,683.5 293.0,683.5 293.5,683.5 294.0,683.5 294.5,683.5 295.0,683.5 295.5,683.5 296.0,683.5 296.5,683.5 297.0,683.5 297.5,683.5 298.0,683.5 298.5,683.5 299.0,683.5 299.5,683.5 300.0,683.5 300.5,683.5 301.0,683.5 301.5,683.5 302.0,683.5 302.5,683.5 303.0,683.5 303.5,683.5 304.0,683.5 304.5,683.5 305.0,683.5 305.5,683.5 306.0,683.5 306.5,683.5 307.0,683.5 307.5,683.5 308.0,683.5 308.5,683.5 309.0,683.5 309.5,683.5 310.0,683.5 310.5,683.5 311.0,683.5 311.5,683.5 312.0,683.5 312.5,683.5 313.0,683.5 313.5,683.5 314.0,683.5 314.5,683.5 315.0,683.5 315.5,683.5 316.0,683.5 316.5,683.5 317.0,683.5 317.5,683.5 318.0,683.5 318.5,683.5 319.0,683.5 319.5,683.5 320.0,683.5 320.5,683.5 321.0,683.5 321.5,683.5 322.0,683.5 322.5,683.5 323.0,683.5 323.5,683.5 324.0,683.5 324.5,683.5 325.0,683.5 325.5,683.5 326.0,683.5 326.5,683.5 327.0,683.5 327.5,683.5 328.0,683.5 328.5,683.5 329.0,683.5 329.5,683.5 330.0,683.5 330.5,683.5 331.0,683.5 331.5,683.5 332.0,683.5 332.5,683.3 333.0,678.5 333.5,673.6 334.0,666.9 334.5,659.1 335.0,650.1 335.5,648.5 336.0,651.6 336.5,654.6 337.0,657.2 337.5,653.1 338.0,647.9 338.5,655.0 339.0,662.0 339.5,661.3 340.0,663.2 340.5,658.0 341.0,663.1 341.5,666.4 342.0,664.9 342.5,661.4 343.0,658.4 343.5,655.1 344.0,652.0 344.5,648.8 345.0,651.6 345.5,655.1 346.0,658.6 346.5,661.3 347.0,661.5 347.5,661.1 348.0,658.0 348.5,665.5 349.0,664.4 349.5,660.0 350.0,658.1 350.5,661.8 351.0,661.8 351.5,659.6 352.0,660.2 352.5,660.1 353.0,657.1 353.5,656.0 354.0,658.6 354.5,661.0 355.0,663.5 355.5,661.8 356.0,660.9 356.5,664.3 357.0,661.1 357.5,661.8 358.0,660.8 358.5,662.9 359.0,659.1 359.5,655.3 360.0,651.4 360.5,653.6 361.0,657.3 361.5,656.6 362.0,663.9 362.5,664.2 363.0,660.3 363.5,664.2 364.0,667.4 364.5,667.8 365.0,662.9 365.5,664.8 366.0,660.3 366.5,661.6 367.0,660.1 367.5,662.6 368.0,662.7 368.5,659.9 369.0,657.2 369.5,654.4 370.0,651.5 370.5,652.2 371.0,654.6 371.5,657.0 372.0,659.4 372.5,653.8 373.0,646.7 373.5,650.4 374.0,657.1 374.5,659.9 375.0,661.6 375.5,663.3 376.0,661.4 376.5,657.2 377.0,653.0 377.5,648.8 378.0,649.3 378.5,648.7 379.0,650.9 379.5,653.6 380.0,651.1 380.5,647.2 381.0,643.3 381.5,640.6 382.0,644.0 382.5,647.4 383.0,650.9 383.5,654.4 384.0,658.0 384.5,658.4 385.0,654.2 385.5,650.0 386.0,645.7 386.5,646.5 387.0,650.3 387.5,654.2 388.0,652.2 388.5,653.1 389.0,654.2 389.5,649.2 390.0,651.2 390.5,657.8 391.0,662.1 391.5,655.4 392.0,658.3 392.5,661.9 393.0,659.8 393.5,654.5 394.0,650.1 394.5,647.3 395.0,653.9 395.5,660.5 396.0,667.3 396.5,668.5 397.0,662.3 397.5,664.6 398.0,669.5 398.5,656.6 399.0,657.8 399.5,662.9 400.0,659.0 400.5,654.1 401.0,650.5 401.5,646.2 402.0,641.9 402.5,637.5 403.0,635.0 403.5,635.2 404.0,630.5 404.5,626.2 405.0,630.5 405.5,634.9 406.0,638.1 406.5,632.8 407.0,627.5 407.5,626.6 408.0,631.5 408.5,636.5 409.0,641.5 409.5,646.6 410.0,651.7 410.5,653.6 411.0,661.5 411.5,658.5 412.0,652.4 412.5,646.1 413.0,639.9 413.5,633.5 414.0,637.9 414.5,643.8 415.0,639.8 415.5,639.3 416.0,633.2 416.5,627.0 417.0,631.6 417.5,637.5 418.0,633.5 418.5,627.6 419.0,621.8 419.5,625.4 420.0,631.0 420.5,636.6 421.0,641.1 421.5,645.5 422.0,648.9 422.5,641.2 423.0,641.8 423.5,633.5 424.0,625.2 424.5,630.5 425.0,638.6 425.5,646.3 426.0,639.6 426.5,632.6 427.0,625.7 427.5,624.6 428.0,622.8 428.5,627.9 429.0,636.7 429.5,641.3 430.0,646.4 430.5,647.7 431.0,636.9 431.5,624.4 432.0,622.1 432.5,634.8 433.0,645.5 433.5,646.2 434.0,641.6 434.5,640.1 435.0,639.4 435.5,644.2 436.0,644.2 436.5,647.8 437.0,643.6 437.5,648.6 438.0,644.0 438.5,638.6 439.0,634.7 439.5,629.9 440.0,626.0 440.5,630.4 441.0,634.8 441.5,639.2 442.0,643.7 442.5,639.4 443.0,633.3 443.5,627.0 444.0,620.7 444.5,622.1 445.0,627.9 445.5,628.9 446.0,614.9 446.5,625.8 447.0,638.2 447.5,637.7 448.0,627.4 448.5,625.8 449.0,635.7 449.5,638.6 450.0,630.6 450.5,622.6 451.0,614.5 451.5,606.4 452.0,612.3 452.5,620.0 453.0,627.6 453.5,634.2 454.0,633.3 454.5,637.1 455.0,630.2 455.5,624.7 456.0,615.6 456.5,606.4 457.0,606.7 457.5,615.4 458.0,624.1 458.5,633.0 459.0,641.1 459.5,645.8 460.0,634.9 460.5,637.6 461.0,640.8 461.5,644.3 462.0,644.4 462.5,638.0 463.0,643.8 463.5,635.9 464.0,627.5 464.5,619.1 465.0,610.7 465.5,602.4 466.0,609.6 466.5,618.1 467.0,626.5 467.5,629.4 468.0,628.0 468.5,626.9 469.0,642.3 469.5,633.3 470.0,639.7 470.5,633.1 471.0,644.9 471.5,634.8 472.0,629.2 472.5,635.2 473.0,650.6 473.5,627.1 474.0,634.4 474.5,632.6 475.0,626.6 475.5,620.5 476.0,614.5 476.5,608.5 477.0,620.2 477.5,618.2 478.0,610.1 478.5,611.7 479.0,615.5 479.5,627.3 480.0,634.9 480.5,631.4 481.0,632.1 481.5,623.1 482.0,614.1 482.5,605.8 483.0,614.8 483.5,623.8 484.0,618.4 484.5,628.9 485.0,631.8 485.5,625.0 486.0,633.7 486.5,626.2 487.0,626.2 487.5,614.3 488.0,606.8 488.5,613.8 489.0,623.2 489.5,632.6 490.0,629.5 490.5,624.1 491.0,618.7 491.5,622.5 492.0,618.6 492.5,615.2 493.0,614.0 493.5,617.5 494.0,628.2 494.5,632.8 495.0,621.0 495.5,642.9 496.0,646.9 496.5,630.1 497.0,626.6 497.5,645.5 498.0,631.0 498.5,627.4 499.0,625.2 499.5,631.6 500.0,625.4 500.5,619.2 501.0,616.3 501.5,622.3 502.0,620.6 502.5,629.1 503.0,630.3 503.5,631.4 504.0,634.1 504.5,629.3 505.0,636.4 505.5,631.1 506.0,619.6 506.5,627.0 507.0,627.0 507.5,617.5 508.0,618.2 508.5,627.1 509.0,636.7 509.5,620.6 510.0,620.5 510.5,634.6 511.0,619.5 511.5,634.7 512.0,623.4 512.5,630.2 513.0,629.7 513.5,631.6 514.0,619.9 514.5,623.2 515.0,615.0 515.5,606.9 516.0,598.7 516.5,594.5 517.0,602.4 517.5,610.3 518.0,618.3 518.5,626.3 519.0,634.3 519.5,641.2 520.0,639.0 520.5,639.1 521.0,642.3 521.5,629.6 522.0,626.6 522.5,633.0 523.0,629.7 523.5,628.7 524.0,633.1 524.5,627.6 525.0,618.6 525.5,646.6 526.0,634.0 526.5,635.6 527.0,636.7 527.5,640.5 528.0,645.2 528.5,639.1 529.0,638.3 529.5,637.8 530.0,638.6 530.5,636.7 531.0,622.2 531.5,624.9 532.0,625.8 532.5,624.1 533.0,621.6 533.5,615.1 534.0,611.6 534.5,617.8 535.0,624.0 535.5,630.1 536.0,624.7 536.5,616.2 537.0,601.3 537.5,585.7 538.0,602.4 538.5,612.5 539.0,620.8 539.5,629.1 540.0,636.6 540.5,632.4 541.0,616.1 541.5,631.8 542.0,625.0 542.5,611.6 543.0,598.0 543.5,584.4 544.0,591.0 544.5,604.2 545.0,617.4 545.5,605.3 546.0,637.8 546.5,647.0 547.0,631.8 547.5,625.5 548.0,609.8 548.5,619.6 549.0,613.9 549.5,630.5 550.0,623.0 550.5,620.2 551.0,629.1 551.5,619.4 552.0,613.5 552.5,601.3 553.0,589.0 553.5,588.8 554.0,600.7 554.5,612.6 555.0,622.0 555.5,599.5 556.0,614.3 556.5,622.3 557.0,613.9 557.5,605.5 558.0,597.2 558.5,600.6 559.0,608.8 559.5,617.0 560.0,619.7 560.5,632.0 561.0,631.2 561.5,611.7 562.0,620.2 562.5,625.3 563.0,620.1 563.5,620.5 564.0,625.2 564.5,620.0 565.0,612.3 565.5,618.7 566.0,611.7 566.5,605.1 567.0,605.4 567.5,598.4 568.0,605.0 568.5,611.9 569.0,618.8 569.5,625.7 570.0,621.2 570.5,617.2 571.0,616.0 571.5,604.3 572.0,618.3 572.5,619.4 573.0,613.6 573.5,621.5 574.0,599.8 574.5,622.2 575.0,626.7 575.5,620.9 576.0,604.6 576.5,615.4 577.0,618.5 577.5,610.4 578.0,604.2 578.5,620.0 579.0,608.3 579.5,613.0 580.0,605.0 580.5,629.6 581.0,624.0 581.5,625.0 582.0,629.3 582.5,618.2 583.0,611.0 583.5,624.9 584.0,600.1 584.5,604.3 585.0,589.5 585.5,574.6 586.0,585.0 586.5,595.6 587.0,606.1 587.5,616.7 588.0,627.3 588.5,633.7 589.0,615.5 589.5,628.9 590.0,606.9 590.5,633.6 591.0,625.6 591.5,625.3 592.0,633.3 592.5,627.8 593.0,616.2 593.5,604.6 594.0,593.0 594.5,581.4 595.0,571.6 595.5,583.3 596.0,595.0 596.5,606.7 597.0,618.3 597.5,608.2 598.0,597.6 598.5,586.9 599.0,588.8 599.5,600.0 600.0,610.8 600.5,621.5 601.0,630.3 601.5,642.9 602.0,631.7 602.5,624.1 603.0,624.5 603.5,626.3 604.0,619.5 604.5,633.2 605.0,630.9 605.5,613.1 606.0,595.3 606.5,581.2 607.0,599.2 607.5,607.6 608.0,617.3 608.5,629.7 609.0,628.2 609.5,627.3 610.0,634.2 610.5,638.5 611.0,631.4 611.5,620.3 612.0,627.3 612.5,630.3 613.0,630.7 613.5,639.6 614.0,626.7 614.5,621.2 615.0,627.3 615.5,633.2 616.0,629.9 616.5,644.0 617.0,612.5 617.5,606.1 618.0,626.0 618.5,641.3 619.0,632.4 619.5,637.5 620.0,619.1 620.5,599.3 621.0,579.3 621.5,590.8 622.0,607.5 622.5,612.9 623.0,620.7 623.5,622.2 624.0,636.5 624.5,628.2 625.0,632.8 625.5,622.7 626.0,627.3 626.5,629.2 627.0,617.5 627.5,616.8 628.0,619.1 628.5,611.3 629.0,630.4 629.5,618.8 630.0,607.4 630.5,626.2 631.0,642.8 631.5,615.3 632.0,614.3 632.5,598.7 633.0,582.9 633.5,572.2 634.0,587.6 634.5,594.2 635.0,585.0 635.5,581.3 636.0,590.1 636.5,598.9 637.0,605.4 637.5,616.7 638.0,621.1 638.5,614.3 639.0,620.3 639.5,609.5 640.0,598.1 640.5,586.7 641.0,575.2 641.5,579.2 642.0,590.3 642.5,601.5 643.0,602.5 643.5,594.1 644.0,591.1 644.5,581.3 645.0,597.2 645.5,583.5 646.0,578.1 646.5,591.5 647.0,598.5 647.5,578.6 648.0,565.6 648.5,577.2 649.0,588.5 649.5,577.5 650.0,571.7 650.5,585.1 651.0,572.9 651.5,575.8 652.0,599.8 652.5,623.8 653.0,610.0 653.5,591.4 654.0,572.6 654.5,576.1 655.0,594.7 655.5,613.3 656.0,612.4 656.5,616.0 657.0,607.7 657.5,591.3 658.0,574.9 658.5,567.3 659.0,583.5 659.5,599.8 660.0,609.5 660.5,608.3 661.0,624.4 661.5,598.6 662.0,612.9 662.5,624.0 663.0,603.9 663.5,595.0 664.0,608.9 664.5,610.3 665.0,614.2 665.5,611.6 666.0,598.0 666.5,584.3 667.0,570.6 667.5,556.9 668.0,566.8 668.5,580.4 669.0,594.0 669.5,601.1 670.0,596.8 670.5,610.5 671.0,602.3 671.5,603.8 672.0,595.9 672.5,582.2 673.0,568.5 673.5,571.0 674.0,584.5 674.5,587.2 675.0,591.8 675.5,591.0 676.0,610.6 676.5,613.3 677.0,613.1 677.5,597.4 678.0,598.0 678.5,624.2 679.0,625.5 679.5,608.6 680.0,593.6 680.5,602.9 681.0,599.0 681.5,594.0 682.0,584.3 682.5,577.1 683.0,586.7 683.5,596.3 684.0,606.0 684.5,596.1 685.0,625.3 685.5,620.0 686.0,619.4 686.5,608.3 687.0,600.3 687.5,590.7 688.0,581.1 688.5,571.5 689.0,571.8 689.5,581.3 690.0,590.8 690.5,600.3 691.0,609.9 691.5,605.3 692.0,594.5 692.5,583.7 693.0,576.7 693.5,587.4 694.0,598.2 694.5,608.9 695.0,619.7 695.5,622.5 696.0,613.1 696.5,599.2 697.0,585.3 697.5,571.4 698.0,564.4 698.5,578.3 699.0,592.1 699.5,605.9 700.0,591.7 700.5,572.9 701.0,563.4 701.5,562.7 702.0,561.9 702.5,569.9 703.0,587.0 703.5,604.1 704.0,610.4 704.5,609.4 705.0,600.2 705.5,590.9 706.0,592.2 706.5,601.3 707.0,610.5 707.5,618.5 708.0,609.2 708.5,604.9 709.0,601.0 709.5,596.9 710.0,579.4 710.5,561.9 711.0,556.7 711.5,574.1 712.0,591.6 712.5,579.5 713.0,579.4 713.5,581.3 714.0,567.4 714.5,553.4 715.0,560.6 715.5,574.4 716.0,588.2 716.5,591.9 717.0,586.2 717.5,565.8 718.0,570.5 718.5,585.8 719.0,584.4 719.5,574.7 720.0,571.9 720.5,568.0 721.0,545.7 721.5,567.9 722.0,590.1 722.5,612.4 723.0,578.0 723.5,607.5 724.0,588.6 724.5,569.6 725.0,550.6 725.5,562.2 726.0,581.1 726.5,600.1 727.0,595.6 727.5,586.4 728.0,577.3 728.5,581.7 729.0,590.8 729.5,595.0 730.0,583.4 730.5,605.9 731.0,627.3 731.5,617.6 732.0,598.6 732.5,579.5 733.0,567.4 733.5,586.4 734.0,605.5 734.5,622.1 735.0,609.5 735.5,610.1 736.0,601.7 736.5,637.8 737.0,610.9 737.5,616.2 738.0,621.4 738.5,604.5 739.0,604.2 739.5,601.3 740.0,593.8 740.5,606.6 741.0,605.6 741.5,601.2 742.0,617.3 742.5,598.8 743.0,589.5 743.5,586.3 744.0,600.1 744.5,594.4 745.0,584.6 745.5,587.6 746.0,597.4 746.5,597.9 747.0,607.7 747.5,590.5 748.0,578.8 748.5,577.1 749.0,597.3 749.5,581.8 750.0,606.5 750.5,587.0 751.0,599.2 751.5,598.2 752.0,591.4 752.5,582.9 753.0,572.7 753.5,576.1 754.0,586.2 754.5,596.3 755.0,595.3 755.5,597.6 756.0,585.7 756.5,606.3 757.0,596.5 757.5,588.7 758.0,573.8 758.5,559.3 759.0,574.1 759.5,589.0 760.0,603.8 760.5,601.7 761.0,605.0 761.5,575.7 762.0,597.0 762.5,579.5 763.0,562.0 763.5,572.4 764.0,588.9 764.5,570.4 765.0,551.9 765.5,547.9 766.0,566.4 766.5,584.9 767.0,575.5 767.5,566.7 768.0,569.9 768.5,581.7 769.0,591.7 769.5,590.3 770.0,598.4 770.5,618.5 771.0,582.2 771.5,589.2 772.0,563.4 772.5,554.7 773.0,555.4 773.5,572.1 774.0,568.0 774.5,582.4 775.0,581.6 775.5,566.7 776.0,586.6 776.5,606.6 777.0,616.3 777.5,605.0 778.0,583.2 778.5,582.5 779.0,576.8 779.5,590.0 780.0,598.3 780.5,609.5 781.0,595.8 781.5,612.5 782.0,606.8 782.5,573.6 783.0,582.1 783.5,608.7 784.0,577.9 784.5,593.3 785.0,573.5 785.5,606.3 786.0,593.8 786.5,597.9 787.0,595.6 787.5,581.2 788.0,566.8 788.5,560.5 789.0,574.8 789.5,589.1 790.0,574.5 790.5,579.3 791.0,575.1 791.5,561.3 792.0,558.0 792.5,571.7 793.0,585.4 793.5,571.7 794.0,585.3 794.5,606.1 795.0,603.7 795.5,583.2 796.0,576.0 796.5,581.0 797.0,579.6 797.5,572.3 798.0,546.7 798.5,556.0 799.0,581.5 799.5,572.5 800.0,551.6 800.5,565.1 801.0,561.4 801.5,541.8 802.0,552.4 802.5,571.9 803.0,578.2 803.5,599.5 804.0,584.3 804.5,584.7 805.0,577.5 805.5,592.6 806.0,579.5 806.5,578.1 807.0,572.1 807.5,589.1 808.0,592.3 808.5,578.9 809.0,569.1 809.5,568.6 810.0,585.4 810.5,568.9 811.0,605.9 811.5,622.3 812.0,582.0 812.5,578.5 813.0,583.1 813.5,586.7 814.0,584.4 814.5,608.8 815.0,591.5 815.5,618.7 816.0,625.5 816.5,609.4 817.0,611.1 817.5,616.1 818.0,611.5 818.5,610.9 819.0,599.9 819.5,607.2 820.0,595.7 820.5,584.2 821.0,572.7 821.5,561.1 822.0,564.3 822.5,575.7 823.0,582.3 823.5,590.8 824.0,596.6 824.5,587.9 825.0,575.7 825.5,563.6 826.0,575.7 826.5,587.8 827.0,572.9 827.5,594.2 828.0,571.0 828.5,566.7 829.0,556.3 829.5,541.4 830.0,535.3 830.5,550.2 831.0,565.0 831.5,558.1 832.0,540.8 832.5,564.2 833.0,581.5 833.5,566.7 834.0,575.9 834.5,560.0 835.0,535.2 835.5,552.1 836.0,554.7 836.5,544.2 837.0,555.3 837.5,566.4 838.0,569.4 838.5,566.7 839.0,557.8 839.5,544.8 840.0,544.3 840.5,556.0 841.0,566.7 841.5,571.7 842.0,566.7 842.5,577.3 843.0,577.7 843.5,576.3 844.0,566.7 844.5,566.7 845.0,578.4 845.5,566.7 846.0,577.7 846.5,566.7 847.0,566.7 847.5,598.8 848.0,566.7 848.5,575.1 849.0,592.6 849.5,566.7 850.0,570.2 850.5,566.7 851.0,571.5 851.5,575.5 852.0,582.9 852.5,566.7 853.0,573.4 853.5,568.1 854.0,566.7 854.5,566.7 855.0,566.7 855.5,566.7 856.0,574.2 856.5,566.7 857.0,566.7 857.5,578.9 858.0,577.8 858.5,577.2 859.0,564.4 859.5,551.7 860.0,561.5 860.5,566.7 861.0,587.0 861.5,566.7 862.0,577.1 862.5,594.7 863.0,575.2 863.5,589.7 864.0,578.1 864.5,581.9 865.0,598.8 865.5,573.3 866.0,592.2 866.5,604.2 867.0,601.6 867.5,568.1 868.0,578.6 868.5,567.1 869.0,555.6 869.5,544.1 870.0,546.3 870.5,557.8 871.0,554.9 871.5,550.3 872.0,563.6 872.5,545.3 873.0,534.1 873.5,554.9 874.0,575.6 874.5,566.7 875.0,591.2 875.5,576.9 876.0,562.7 876.5,548.4 877.0,552.3 877.5,566.5 878.0,580.7 878.5,593.0 879.0,591.0 879.5,588.0 880.0,588.1 880.5,599.8 881.0,597.8 881.5,567.8 882.0,597.6 882.5,583.5 883.0,605.6 883.5,593.8 884.0,604.4 884.5,604.9 885.0,603.3 885.5,586.8 886.0,580.5 886.5,569.0 887.0,563.2 887.5,574.6 888.0,584.9 888.5,572.4 889.0,559.8 889.5,547.3 890.0,534.7 890.5,543.2 891.0,555.6 891.5,568.1 892.0,556.3 892.5,550.4 893.0,564.1 893.5,554.8 894.0,537.2 894.5,539.6 895.0,557.1 895.5,574.6 896.0,581.8 896.5,585.1 897.0,577.1 897.5,602.0 898.0,606.6 898.5,598.3 899.0,590.0 899.5,578.9 900.0,562.4 900.5,575.1 901.0,591.6 901.5,602.3 902.0,583.9 902.5,586.4 903.0,568.3 903.5,586.7 904.0,599.7 904.5,603.8 905.0,589.2 905.5,574.0 906.0,595.2 906.5,607.6 907.0,595.4 907.5,600.6 908.0,581.2 908.5,594.0 909.0,577.8 909.5,566.4 910.0,582.5 910.5,577.6 911.0,607.3 911.5,598.7 912.0,590.1 912.5,581.5 913.0,573.5 913.5,582.0 914.0,568.7 914.5,551.2 915.0,555.7 915.5,573.1 916.0,577.6 916.5,596.6 917.0,583.9 917.5,576.3 918.0,566.1 918.5,578.8 919.0,589.9 919.5,574.0 920.0,571.4 920.5,562.8 921.0,574.5 921.5,572.9 922.0,579.0 922.5,571.0 923.0,561.0 923.5,569.4 924.0,573.8 924.5,587.2 925.0,576.9 925.5,599.4 926.0,572.3 926.5,586.6 927.0,571.7 927.5,565.0 928.0,590.8 928.5,595.7 929.0,562.3 929.5,562.3 930.0,580.4 930.5,592.3 931.0,585.6 931.5,570.0 932.0,565.2 932.5,589.6 933.0,590.7 933.5,573.5 934.0,593.6 934.5,582.4 935.0,571.2 935.5,560.0 936.0,548.8 936.5,542.2 937.0,553.4 937.5,564.6 938.0,575.8 938.5,573.5 939.0,594.3 939.5,609.3 940.0,583.6 940.5,585.3 941.0,586.7 941.5,594.1 942.0,590.6 942.5,608.0 943.0,579.8 943.5,567.5 944.0,586.4 944.5,588.4 945.0,585.0 945.5,590.0 946.0,591.1 946.5,601.9 947.0,610.8 947.5,584.4 948.0,625.0 948.5,596.2 949.0,625.7 949.5,602.8 950.0,619.5 950.5,630.3 951.0,626.5 951.5,621.0 952.0,586.0 952.5,611.4 953.0,610.0 953.5,612.5 954.0,597.6 954.5,595.7 955.0,586.5 955.5,573.2 956.0,554.7 956.5,560.1 957.0,573.9 957.5,570.7 958.0,596.6 958.5,587.0 959.0,571.2 959.5,581.1 960.0,568.0 960.5,551.7 961.0,535.3 961.5,528.8 962.0,545.1 962.5,559.4 963.0,542.3 963.5,557.0 964.0,554.3 964.5,543.0 965.0,552.4 965.5,563.7 966.0,560.8 966.5,571.2 967.0,576.0 967.5,567.3 968.0,572.8 968.5,575.9 969.0,573.7 969.5,560.6 970.0,584.2 970.5,599.8 971.0,569.6 971.5,560.5 972.0,560.5 972.5,579.9 973.0,563.6 973.5,547.3 974.0,531.0 974.5,538.7 975.0,555.0 975.5,571.3 976.0,566.5 976.5,580.8 977.0,583.2 977.5,561.2 978.0,560.6 978.5,578.1 979.0,560.2 979.5,560.2 980.0,568.5 980.5,561.0 981.0,577.8 981.5,584.7 982.0,560.1 982.5,560.1 983.0,535.6 983.5,550.5 984.0,574.9 984.5,560.7 985.0,601.8 985.5,589.2 986.0,583.7 986.5,587.4 987.0,604.2 987.5,579.5 988.0,584.6 988.5,593.1 989.0,590.3 989.5,603.4 990.0,585.7 990.5,601.1 991.0,591.6 991.5,600.2 992.0,586.5 992.5,568.3 993.0,565.7 993.5,570.5 994.0,602.0 994.5,592.7 995.0,573.7 995.5,554.7 996.0,546.8 996.5,565.8 997.0,569.7 997.5,552.2 998.0,545.6 998.5,562.5 999.0,548.1 999.5,533.7 1000.0,544.6 1000.5,559.0 1001.0,573.4 1001.5,562.4 1002.0,562.5 1002.5,559.6 1003.0,571.5 1003.5,583.4 1004.0,595.4 1004.5,595.2 1005.0,577.1 1005.5,558.9 1006.0,575.5 1006.5,570.2 1007.0,549.0 1007.5,527.7 1008.0,535.5 1008.5,556.8 1009.0,575.0 1009.5,575.0 1010.0,585.9 1010.5,596.8 1011.0,589.7 1011.5,581.1 1012.0,581.6 1012.5,574.0 1013.0,562.8 1013.5,538.1 1014.0,533.9 1014.5,544.9 1015.0,560.1 1015.5,569.8 1016.0,557.0 1016.5,544.1 1017.0,540.2 1017.5,553.0 1018.0,565.8 1018.5,577.5 1019.0,591.4 1019.5,568.5 1020.0,567.0 1020.5,563.1 1021.0,572.6 1021.5,563.6 1022.0,588.0 1022.5,585.4 1023.0,593.5 1023.5,575.6 1024.0,577.0 1024.5,555.6 1025.0,534.9 1025.5,556.3 1026.0,569.1 1026.5,570.2 1027.0,558.2 1027.5,562.7 1028.0,582.5 1028.5,558.1 1029.0,573.7 1029.5,575.5 1030.0,558.1 1030.5,566.6 1031.0,553.0 1031.5,543.5 1032.0,557.0 1032.5,570.6 1033.0,557.9 1033.5,557.9 1034.0,566.3 1034.5,557.9 1035.0,557.9 1035.5,527.2 1036.0,540.5 1036.5,572.7 1037.0,557.8 1037.5,546.3 1038.0,532.7 1038.5,554.8 1039.0,557.7 1039.5,557.7 1040.0,557.9 1040.5,557.6 1041.0,558.7 1041.5,561.9 1042.0,557.6 1042.5,575.9 1043.0,582.6 1043.5,557.5 1044.0,558.5 1044.5,571.4 1045.0,574.5 1045.5,588.2 1046.0,572.5 1046.5,570.4 1047.0,555.6 1047.5,540.8 1048.0,526.6 1048.5,541.4 1049.0,556.2 1049.5,570.9 1050.0,585.7 1050.5,586.6 1051.0,579.5 1051.5,560.6 1052.0,579.5 1052.5,573.7 1053.0,597.7 1053.5,584.2 1054.0,593.0 1054.5,589.9 1055.0,580.9 1055.5,575.0 1056.0,601.9 1056.5,583.4 1057.0,601.4 1057.5,632.3 1058.0,571.3 1058.5,600.9 1059.0,605.1 1059.5,581.1 1060.0,588.0 1060.5,593.3 1061.0,584.6 1061.5,581.6 1062.0,588.5 1062.5,620.3 1063.0,586.4 1063.5,600.6 1064.0,606.7 1064.5,589.1 1065.0,563.1 1065.5,587.1 1066.0,570.2 1066.5,553.3 1067.0,569.5 1067.5,586.4 1068.0,573.1 1068.5,587.8 1069.0,588.2 1069.5,577.2 1070.0,585.2 1070.5,601.6 1071.0,604.5 1071.5,585.6 1072.0,565.7 1072.5,545.7 1073.0,525.7 1073.5,528.5 1074.0,537.5 1074.5,557.1 1075.0,576.7 1075.5,557.1 1076.0,555.2 1076.5,537.8 1077.0,520.4 1077.5,532.3 1078.0,549.7 1078.5,552.1 1079.0,550.2 1079.5,562.1 1080.0,573.9 1080.5,583.5 1081.0,561.5 1081.5,560.6 1082.0,549.2 1082.5,551.9 1083.0,532.4 1083.5,526.6 1084.0,546.1 1084.5,555.8 1085.0,583.5 1085.5,564.8 1086.0,587.0 1086.5,580.0 1087.0,581.3 1087.5,572.8 1088.0,598.0 1088.5,575.9 1089.0,579.1 1089.5,575.8 1090.0,603.1 1090.5,594.5 1091.0,605.6 1091.5,604.2 1092.0,588.2 1092.5,583.6 1093.0,593.0 1093.5,579.1 1094.0,565.2 1094.5,551.3 1095.0,537.4 1095.5,523.4 1096.0,533.9 1096.5,547.8 1097.0,561.7 1097.5,575.5 1098.0,589.4 1098.5,603.3 1099.0,617.2 1099.5,631.1 1100.0,606.0 1100.5,624.2 1101.0,595.7 1101.5,612.7 1102.0,616.7 1102.5,615.8 1103.0,610.0 1103.5,622.0 1104.0,611.1 1104.5,609.2 1105.0,624.5 1105.5,601.6 1106.0,591.0 1106.5,588.9 1107.0,575.8 1107.5,562.8 1108.0,565.8 1108.5,578.9 1109.0,591.9 1109.5,604.9 1110.0,593.8 1110.5,618.8 1111.0,608.1 1111.5,592.1 1112.0,576.1 1112.5,560.1 1113.0,557.8 1113.5,573.8 1114.0,586.4 1114.5,571.4 1115.0,561.4 1115.5,576.4 1116.0,591.5 1116.5,606.5 1117.0,584.5 1117.5,562.0 1118.0,539.4 1118.5,534.4 1119.0,556.9 1119.5,579.5 1120.0,592.0 1120.5,617.9 1121.0,621.5 1121.5,589.8 1122.0,594.6 1122.5,590.4 1123.0,607.3 1123.5,608.0 1124.0,579.1 1124.5,580.2 1125.0,587.0 1125.5,586.9 1126.0,573.2 1126.5,567.4 1127.0,572.8 1127.5,562.4 1128.0,551.9 1128.5,560.9 1129.0,571.4 1129.5,562.8 1130.0,548.2 1130.5,540.1 1131.0,554.8 1131.5,565.4 1132.0,575.2 1132.5,560.3 1133.0,542.7 1133.5,525.0 1134.0,541.3 1134.5,552.3 1135.0,542.2 1135.5,556.5 1136.0,570.9 1136.5,565.2 1137.0,561.5 1137.5,548.7 1138.0,535.9 1138.5,523.1 1139.0,533.4 1139.5,546.3 1140.0,559.2 1140.5,572.0 1141.0,579.6 1141.5,575.5 1142.0,585.6 1142.5,595.8 1143.0,606.0 1143.5,599.7 1144.0,608.6 1144.5,593.2 1145.0,594.8 1145.5,595.0 1146.0,592.9 1146.5,599.9 1147.0,583.4 1147.5,586.8 1148.0,585.9 1148.5,614.8 1149.0,598.0 1149.5,598.7 1150.0,582.6 1150.5,566.5 1151.0,550.5 1151.5,534.4 1152.0,518.4 1152.5,532.9 1153.0,549.0 1153.5,565.1 1154.0,581.1 1154.5,590.0 1155.0,578.3 1155.5,566.7 1156.0,564.9 1156.5,576.0 1157.0,587.9 1157.5,555.3 1158.0,593.7 1158.5,587.7 1159.0,571.3 1159.5,554.9 1160.0,538.4 1160.5,522.0 1161.0,529.7 1161.5,546.2 1162.0,562.6 1162.5,578.3 1163.0,590.8 1163.5,580.0 1164.0,594.5 1164.5,593.2 1165.0,597.4 1165.5,577.8 1166.0,591.9 1166.5,602.0 1167.0,593.7 1167.5,573.8 1168.0,585.9 1168.5,579.9 1169.0,563.4 1169.5,547.0 1170.0,530.5 1170.5,519.0 1171.0,535.5 1171.5,552.0 1172.0,568.5 1172.5,583.6 1173.0,601.5 1173.5,599.4 1174.0,614.5 1174.5,608.0 1175.0,605.9 1175.5,612.4 1176.0,609.3 1176.5,625.5 1177.0,613.3 1177.5,625.0 1178.0,613.9 1178.5,602.9 1179.0,578.0 1179.5,600.8 1180.0,594.3 1180.5,622.4 1181.0,606.2 1181.5,607.3 1182.0,583.0 1182.5,584.2 1183.0,590.1 1183.5,592.9 1184.0,599.0 1184.5,604.0 1185.0,592.8 1185.5,589.0 1186.0,567.7 1186.5,590.0 1187.0,583.9 1187.5,583.3 1188.0,594.4 1188.5,568.4 1189.0,596.9 1189.5,596.2 1190.0,574.1 1190.5,552.0 1191.0,529.9 1191.5,549.5 1192.0,546.3 1192.5,548.6 1193.0,561.5 1193.5,574.3 1194.0,587.2 1194.5,600.0 1195.0,583.0 1195.5,598.3 1196.0,600.0 1196.5,586.6 1197.0,603.1 1197.5,580.4 1198.0,584.0 1198.5,587.5 1199.0,586.7 1199.5,598.4 1200.0,586.8 1200.5,580.3 1201.0,569.0 1201.5,557.8 1202.0,561.0 1202.5,572.3 1203.0,577.0 1203.5,566.9 1204.0,563.2 1204.5,573.3 1205.0,565.2 1205.5,561.5 1206.0,573.3 1206.5,582.7 1207.0,571.3 1207.5,575.5 1208.0,572.3 1208.5,579.6 1209.0,592.9 1209.5,587.2 1210.0,613.9 1210.5,592.9 1211.0,606.2 1211.5,580.5 1212.0,554.8 1212.5,557.4 1213.0,583.1 1213.5,576.3 1214.0,591.8 1214.5,585.2 1215.0,559.6 1215.5,578.1 1216.0,566.6 1216.5,572.8 1217.0,575.0 1217.5,570.3 1218.0,564.7 1218.5,573.2 1219.0,583.8 1219.5,563.9 1220.0,544.1 1220.5,524.3 1221.0,524.5 1221.5,536.5 1222.0,551.5 1222.5,566.5 1223.0,578.6 1223.5,591.7 1224.0,605.5 1224.5,593.6 1225.0,619.9 1225.5,570.6 1226.0,583.4 1226.5,556.5 1227.0,529.6 1227.5,556.3 1228.0,568.5 1228.5,557.2 1229.0,546.0 1229.5,542.0 1230.0,553.2 1230.5,564.5 1231.0,575.8 1231.5,571.2 1232.0,558.2 1232.5,545.2 1233.0,549.8 1233.5,562.9 1234.0,575.9 1234.5,571.6 1235.0,579.6 1235.5,571.4 1236.0,564.1 1236.5,577.4 1237.0,602.7 1237.5,572.4 1238.0,592.4 1238.5,565.5 1239.0,567.3 1239.5,574.7 1240.0,556.1 1240.5,537.6 1241.0,553.0 1241.5,571.6 1242.0,584.4 1242.5,573.2 1243.0,599.5 1243.5,583.8 1244.0,557.1 1244.5,530.5 1245.0,556.9 1245.5,576.2 1246.0,563.7 1246.5,553.9 1247.0,562.1 1247.5,572.6 1248.0,588.5 1248.5,603.9 1249.0,586.0 1249.5,613.7 1250.0,575.6 1250.5,597.2 1251.0,604.8 1251.5,620.7 1252.0,640.2 1252.5,661.1 1253.0,683.5 1253.0,683.5" fill="#16f616"/>
<path d="M115 640.5l1 -26.5 1 12 1 -9.5 1 -18 1 31.5 1 34.5 1 -16.5 1 -39.5 1 -24.5 1 35.5 1 42 1 1.5 1 -22 1 -16.5 1 20.5 1 17 1 2 1 -33.5 1 -31 1 17 1 33.5 1 12.5 1 -21 1 -10.5 1 19.5 1 15 1 -2 1 6 1 -24.5 1 -20.5 1 16.5 1 6.5 1 -12.5 1 17 1 18 1 -19.5 1 -18.5 1 12 1 17 1 -16 1 1 1 16.5 1 -22.5 1 -26 1 12.5 1 28 1 15.5 1 -3.5 1 1 1 -12.5 1 -2 1 12.5 1 -15.5 1 -38 1 -25.5 1 34.5 1 40.5 1 7.5 1 -5 1 11 1 -0.5 1 -18 1 -16 1 8.5 1 17.5 1 4.5 1 -4.5 1 -10.5 1 4.5 1 11 1 -7 1 -34 1 -34.5 1 11 1 35.5 1 2.5 1 -14 1 18.5 1 20.5 1 5 1 -10 1 -1.5 1 -14.5 1 1.5 1 14.5 1 8 1 -5 1 -18.5 1 -26 1 -1 1 25.5 1 21.5 1 1.5 1 3 1 -9.5 1 -10.5 1 8.5 1 8.5 1 0 1 1 1 -4.5 1 -2 1 -7 1 8.5 1 1.5 1 4 1 -4 1 -4 1 -4 1 8.5 1 -2.5 1 5.5 1 -12 1 -14.5 1 5.5 1 15.5 1 2.5 1 -1.5 1 0.5 1 5.5 1 -3 1 1 1 -9 1 -8.5 1 10.5 1 1.5 1 5 1 -5 1 8 1 -11.5 1 -15.5 1 0 1 15.5 1 9 1 1 1 2 1 9 1 0 1 0 1 0 1 0 1 0 1 0 1 0 1 0 1 0 1 0 1 0 1 0 1 0 1 0 1 0 1 0 1 0 1 0 1 0 1 0 1 0 1 0 1 0 1 0 1 0 1 0 1 0 1 0 1 0 1 0 1 0 1 0 1 0 1 0 1 0 1 0 1 0 1 0 1 0 1 0 1 0 1 0 1 0 1 0 1 0 1 0 1 0 1 0 1 0 1 0 1 0 1 0 1 0 1 0 1 0 1 0 1 0 1 0 1 0 1 0 1 0 1 0 1 0 1 0 1 0 1 0 1 0 1 0 1 0 1 0 1 0 1 0 1 0 1 0 1 0 1 0 1 0 1 0 1 0 1 0 1 -5 1 -11.5 1 -17 1 1.5 1 5.5 1 -9 1 14 1 1 1 0 1 2 1 -6.5 1 -6.5 1 -0.5 1 7 1 3 1 -3.5 1 6.5 1 -6.5 1 4 1 -2 1 -3 1 1.5 1 5 1 -2.5 1 0 1 0 1 -2 1 -7.5 1 6 1 6.5 1 -3.5 1 7 1 -4.5 1 -2.5 1 -0.5 1 2.5 1 -5.5 1 -5.5 1 3 1 5 1 -13 1 10.5 1 4.5 1 0 1 -8.5 1 -3.5 1 1.5 1 0 1 -7.5 1 0.5 1 7 1 7 1 -4 1 -8.5 1 5 1 1.5 1 2 1 -3 1 11 1 -3.5 1 1.5 1 -10 1 4 1 13.5 1 -5 1 7 1 -11.5 1 1 1 -8.5 1 -8.5 1 -7 1 -4.5 1 0 1 7.5 1 -10.5 1 4 1 10 1 10 1 10 1 -9 1 -12.5 1 -2 1 2 1 -7 1 -1.5 1 2 1 -11.5 1 9 1 10 1 8 1 -7 1 -17 1 13.5 1 1 1 -14 1 -2.5 1 13.5 1 10 1 -9.5 1 -15 1 23.5 1 -4 1 -2 1 4.5 1 -0.5 1 0.5 1 -9.5 1 -8.5 1 9 1 8.5 1 -10 1 -13 1 7.5 1 -13 1 23 1 -10.5 1 8 1 -5 1 -16 1 -2 1 15 1 6 1 -3.5 1 -14.5 1 -9 1 17.5 1 17 1 -6 1 6 1 3.5 1 -0.5 1 -16.5 1 -17 1 -1 1 17 1 1.5 1 14.5 1 -3 1 5.5 1 -16 1 21.5 1 -16 1 -8 1 -12 1 5.5 1 -10 1 5.5 1 19.5 1 -3 1 -18 1 1 1 3.5 1 13.5 1 1.5 1 -7.5 1 -19 1 16 1 6.5 1 -11 1 0 1 -4.5 1 14 1 -7 1 26 1 -20.5 1 4.5 1 -6 1 0.5 1 -9 1 4 1 10 1 3.5 1 2.5 1 -17 1 7.5 1 -9 1 18.5 1 -16 1 -1 1 4 1 6 1 -9.5 1 -5 1 -16.5 1 4 1 16 1 16 1 4.5 1 3.5 1 -16 1 3 1 3.5 1 -14.5 1 15.5 1 2.5 1 8.5 1 -6.5 1 0 1 -16.5 1 4 1 -4.5 1 -10 1 12.5 1 0.5 1 -23 1 1 1 18.5 1 15.5 1 -20.5 1 9 1 -27 1 -7 1 26.5 1 20.5 1 -6 1 -22 1 4 1 9 1 6 1 -15.5 1 -24.5 1 11.5 1 21.5 1 -7.5 1 -0.5 1 -17 1 12 1 10.5 1 11.5 1 -11 1 0 1 5 1 -12.5 1 -1 1 -6 1 -0.5 1 14 1 2 1 -5 1 2.5 1 -5 1 -13.5 1 26.5 1 -22 1 14 1 -14.5 1 4.5 1 -3.5 1 19 1 5.5 1 -18.5 1 -11 1 -10.5 1 -4.5 1 21 1 21.5 1 -12 1 -8.5 1 18.5 1 8 1 -17.5 1 -23 1 -21.5 1 23.5 1 23.5 1 -21 1 -8.5 1 22 1 19.5 1 1 1 -7 1 -5 1 11.5 1 -35.5 1 3.5 1 18.5 1 10.5 1 6 1 -2.5 1 -4 1 3 1 -4 1 1 1 2.5 1 -17.5 1 13.5 1 6.5 1 -13.5 1 -39.5 1 28 1 13 1 16 1 -3.5 1 -5.5 1 -10 1 1.5 1 11.5 1 -23 1 35.5 1 -28.5 1 -31.5 1 4.5 1 -2.5 1 5 1 15.5 1 15.5 1 -0.5 1 -22.5 1 -23 1 15.5 1 12 1 -11.5 1 6 1 -19 1 20.5 1 -33 1 23 1 -17 1 1.5 1 27 1 10 1 -37.5 1 22 1 18 1 -5 1 -32.5 1 8.5 1 26 1 15 1 -11.5 1 -9 1 5 1 5 1 -16 1 -27.5 1 -3.5 1 27 1 3 1 5.5 1 -6.5 1 -27.5 1 16 1 7.5 1 18.5 1 2.5 1 -15 1 27.5 1 -32 1 5.5 1 -14.5 1 2 1 19.5 1 19.5 1 -6 1 -19 1 -19.5 1 -9 1 19 1 19 1 -15.5 1 -18 1 21.5 1 21.5 1 -6.5 1 -27.5 1 -21 1 27.5 1 -0.5 1 -28 1 -1.5 1 25 1 23.5 1 -10.5 1 -8 1 18.5 1 -1.5 1 -8 1 -21.5 1 -23 1 35 1 -12 1 -12 1 -7 1 27.5 1 -2 1 -15.5 1 14 1 -12.5 1 -26.5 1 44.5 1 -12 1 10.5 1 -38 1 30.5 1 14.5 1 -18 1 13.5 1 -7.5 1 44 1 -29 1 -31 1 38 1 4 1 -8 1 9.5 1 10.5 1 -17.5 1 -10 1 11.5 1 12 1 -28 1 10.5 1 -15.5 1 13 1 10 1 -28.5 1 18.5 1 9 1 -7.5 1 -7.5 1 -19 1 13.5 1 9.5 1 -10 1 11 1 -22.5 1 0 1 30 1 1 1 -8 1 -35 1 27 1 -37 1 14.5 1 9 1 -5.5 1 21.5 1 7 1 -16.5 1 -18.5 1 -8 1 12.5 1 13.5 1 5 1 30 1 -33.5 1 -6 1 21.5 1 -2.5 1 11 1 -25 1 -4 1 -4.5 1 20.5 1 1.5 1 -28.5 1 8 1 -0.5 1 0.5 1 -17 1 27.5 1 0 1 18 1 -27.5 1 3.5 1 -33 1 35 1 -30 1 10 1 -9 1 25.5 1 6.5 1 -7 1 2 1 -7.5 1 20.5 1 -23.5 1 16.5 1 20.5 1 -24 1 1 1 1.5 1 7 1 34 1 -14.5 1 0.5 1 -11.5 1 -4.5 1 -23 1 -8 1 18 1 14 1 -21 1 0 1 -2.5 1 -2 1 -14.5 1 -21 1 29.5 1 -24 1 40.5 1 -5.5 1 -41 1 19.5 1 1 1 14 1 -11.5 1 -13.5 1 22 1 0 1 11 1 -11 1 12 1 -1 1 -11 1 0 1 26 1 -22.5 1 1.5 1 11.5 1 -9.5 1 -7 1 0 1 7.5 1 -7.5 1 11.5 1 -13.5 1 -3 1 25.5 1 -10 1 -2 1 3 1 21 1 -7 1 9.5 1 -23 1 -23 1 -9 1 8.5 1 8.5 1 -29.5 1 41.5 1 15.5 1 -28.5 1 -10 1 28 1 10.5 1 -3 1 10 1 -0.5 1 8 1 -1 1 -1 1 -23 1 -17.5 1 22 1 -25 1 -25.5 1 21 1 1 1 7.5 1 -27 1 20 1 25 1 -5 1 29.5 1 -16.5 1 -27.5 1 29 1 -7.5 1 -15.5 1 31 1 -10.5 1 6 1 0.5 1 -14.5 1 -3 1 4.5 1 25 1 -17.5 1 -16.5 1 -5 1 -13 1 22 1 6.5 1 -18 1 24 1 -18.5 1 3 1 4.5 1 -18 1 13 1 3 1 -4.5 1 -1 1 19.5 1 -28.5 1 18 1 5 1 -20.5 1 25.5 1 3 1 -22.5 1 -22 1 4.5 1 22.5 1 18.5 1 -11 1 3 1 4 1 -10.5 1 6.5 1 -1.5 1 6 1 20 1 14 1 0.5 1 -6 1 7 1 -40.5 1 24 1 -12.5 1 -11 1 -32 1 19.5 1 22.5 1 -25.5 1 -3 1 -32.5 1 9.5 1 -2.5 1 12 1 -2 1 8.5 1 15 1 -3 1 0.5 1 10.5 1 -14.5 1 -9 1 3 1 -32.5 1 24 1 11.5 1 16.5 1 -22.5 1 -0.5 1 8.5 1 9.5 1 -18 1 -24.5 1 39.5 1 27 1 -18.5 1 20.5 1 -19.5 1 6 1 -5 1 6 1 -5 1 -21 1 36.5 1 -28.5 1 -26.5 1 22.5 1 -24 1 2.5 1 -3.5 1 29 1 -11 1 9 1 24 1 -18.5 1 -1.5 1 -26.5 1 -13.5 1 39.5 1 11 1 3.5 1 -8 1 -18.5 1 -29 1 26 1 -3 1 -17 1 26 1 25.5 1 -24.5 1 5.5 1 15.5 1 5.5 1 -16.5 1 -42 1 34 1 -11 1 24.5 1 -9 1 -15.5 1 -5 1 4 1 1 1 8.5 1 -8.5 1 -17.5 1 17.5 1 -25.5 1 25 1 0.5 1 0.5 1 -1 1 25 1 -24 1 16 1 -2 1 -17 1 -29 1 29.5 1 29.5 1 -6 1 0 1 18 1 -4.5 1 -12 1 21 1 -0.5 1 -30 1 33.5 1 -17 1 -3.5 1 4 1 -2 1 20 1 -43.5 1 7 1 -0.5 1 3.5 1 15 1 -3 1 19.5 1 -39 1 -40 1 12 1 39 1 -21.5 1 -34.5 1 29 1 0.5 1 24 1 -12.5 1 -12.5 1 -16.5 1 13.5 1 37.5 1 3.5 1 -5.5 1 16.5 1 -19 1 24 1 2.5 1 -17.5 1 5 1 -28 1 -27.5 1 -3.5 1 27.5 1 28 1 27.5 1 -11 1 -10.5 1 21 1 -6.5 1 1 1 13.5 1 -33.5 1 -15 1 -10 1 26 1 2 1 14 1 -32 1 -18 1 28.5 1 -25 1 30 1 -7 1 -45 1 17.5 1 35 1 29.5 1 -27 1 13 1 -28.5 1 8 1 -14 1 0 1 -21 1 19.5 1 -23.5 1 7 1 20 1 -32.5 1 -1 1 0.5 1 29 1 -9.5 1 -25.5 1 -2.5 1 25.5 1 20.5 1 6 1 20.5 1 2.5 1 -13.5 1 -2 1 -9.5 1 2.5 1 12 1 -15.5 1 -32 1 -32 1 30.5 1 32 1 -2.5 1 -13.5 1 23 1 5.5 1 -22 1 -33 1 -9 1 33 1 28.5 1 3.5 1 3 1 -5.5 1 1.5 1 -7.5 1 -22.5 1 -33 1 5 1 33 1 33 1 13 1 -8.5 1 3.5 1 4 1 0.5 1 -36 1 16.5 1 11.5 1 -23 1 7 1 9 1 -6 1 -25.5 1 16.5 1 10.5 1 2.5 1 -23 1 -44 1 16.5 1 15 1 25.5 1 -4 1 17 1 3 1 -19 1 2.5 1 0.5 1 -18 1 -8 1 16 1 -14 1 2 1 8.5 1 -2 1 1 1 20.5 1 21 1 -8 1 -51 1 28 1 9 1 -32.5 1 7 1 8.5 1 -10.5 1 19.5 1 -40 1 -19.5 1 27 1 27 1 27 1 14.5 1 -36.5 1 -54 1 39 1 -22.5 1 7 1 23 1 -18 1 -8 1 26 1 3.5 1 -15.5 1 38.5 1 -10 1 -25 1 -11.5 1 -3 1 31.5 1 15 1 -42.5 1 0 1 6.5 1 -1.5 1 26.5 1 -2.5 1 -10.5 1 29.5 1 35 1 43.5" fill="none" stroke="#50f050" stroke-width="1.2"/>
<polygon points="252.1,683.5 252.1,329.7 253.6,329.7 253.6,326.3 255.1,326.3 255.1,323.0 256.6,323.0 256.6,319.6 258.1,319.6 258.1,300.3 259.7,300.3 259.7,285.9 261.2,285.9 261.2,296.0 262.7,296.0 262.7,301.4 264.2,301.4 264.2,304.4 265.7,304.4 265.7,307.5 267.2,307.5 267.2,311.5 268.8,311.5 268.8,317.6 270.3,317.6 270.3,323.6 271.8,323.6 271.8,329.7 273.3,329.7 273.3,335.8 274.8,335.8 274.8,341.8 276.3,341.8 276.3,347.9 277.9,347.9 277.9,354.4 279.4,354.4 279.4,361.0 280.9,361.0 280.9,367.7 282.4,367.7 282.4,374.4 283.9,374.4 283.9,381.1 285.4,381.1 285.4,387.7 287.0,387.7 287.0,394.4 288.5,394.4 288.5,401.1 290.0,401.1 290.0,406.9 291.5,406.9 291.5,410.9 293.0,410.9 293.0,415.0 294.6,415.0 294.6,419.0 296.1,419.0 296.1,423.0 297.6,423.0 297.6,427.1 299.1,427.1 299.1,431.1 300.6,431.1 300.6,435.2 302.1,435.2 302.1,447.2 303.7,447.2 303.7,460.9 305.2,460.9 305.2,474.5 306.7,474.5 306.7,485.2 308.2,485.2 308.2,493.0 309.7,493.0 309.7,500.8 311.2,500.8 311.2,508.6 312.8,508.6 312.8,516.4 314.3,516.4 314.3,524.2 315.8,524.2 315.8,533.2 317.3,533.2 317.3,542.8 318.8,542.8 318.8,552.4 320.3,552.4 320.3,562.0 321.9,562.0 321.9,571.6 323.4,571.6 323.4,581.4 324.9,581.4 324.9,591.2 326.4,591.2 326.4,601.0 327.9,601.0 327.9,610.8 329.4,610.8 329.4,620.6 331.0,620.6 331.0,627.4 332.5,627.4 332.5,632.8 334.0,632.8 334.0,638.1 335.5,638.1 335.5,643.5 337.0,643.5 337.0,648.9 338.6,648.9 338.6,651.9 340.1,651.9 340.1,653.8 341.6,653.8 341.6,655.7 343.1,655.7 343.1,657.6 344.6,657.6 344.6,659.5 346.1,659.5 346.1,661.4 347.7,661.4 347.7,683.5" fill="#22f52a"/>
<line x1="300.9" y1="440.9" x2="300.9" y2="683.5" stroke="#dff9df" stroke-width="1.3"/>
<path d="M310.5 511.7L311.7 459.1L313.0 521.8" fill="none" stroke="#45dde6" stroke-width="2.2"/>
<polyline points="331.2,649.1 331.9,651.7 332.6,647.7 333.3,643.3 334.0,634.9 334.8,630.8 335.5,627.8 336.2,639.0 336.9,631.3 337.6,643.3 338.3,631.7 339.0,634.8 339.7,635.0 340.4,641.3 341.1,641.2 341.8,639.2 342.5,637.5 343.2,628.8 344.0,631.2 344.7,622.7 345.4,631.3 346.1,637.3 346.8,637.7 347.5,626.2 348.2,631.3 348.9,628.0 349.6,639.1 350.3,636.9 351.0,627.7 351.7,628.1 352.4,621.7 353.1,615.5 353.9,624.3 354.6,622.6 355.3,602.5 356.0,607.4 356.7,596.5 357.4,592.7 358.1,614.7 358.8,612.5 359.5,597.6 360.2,613.2 360.9,602.7 361.6,610.8 362.3,616.5 363.0,632.4 363.8,637.1 364.5,631.1 365.2,633.9 365.9,642.7 366.6,640.5 367.3,641.3 368.0,652.4 368.7,650.2 369.4,647.5 370.1,656.2 370.8,655.6 371.5,653.5 372.2,653.7 372.9,656.1" fill="none" stroke="#45dde6" stroke-width="2.2" stroke-linejoin="round"/>
<polygon points="115.0,631.4 117.0,640.5 120.1,650.6 125.1,658.2 130.2,661.8 136.5,664.3 136.5,666.8 115.0,666.8" fill="#d01818"/>
<path d="M115.0 631.4 L118.8 648.1 L125.1 659.2 L135.2 663.8 L152.9 665.8 L216.2 666.8 L236.4 669.9 L259.1 671.4 L317.3 673.4 L418.5 674.9 L494.3 674.4 L544.9 672.4 L562.6 665.8 L575.3 656.7 L585.4 660.8 L595.5 670.9 L610.7 675.9 L633.4 675.4 L651.1 679.5 L661.2 683.5M681.5 683.5 L684.4 677.9 L687.3 676.7 L690.2 675.9 L693.1 675.4 L696.1 675.1 L699.0 674.9 L701.9 674.9 L704.8 675.1 L707.7 675.4 L710.7 675.9 L713.6 676.7 L716.5 677.9 L719.4 683.5M744.7 683.5 L747.2 677.6 L749.8 676.3 L752.3 675.5 L754.8 674.9 L757.3 674.6 L759.9 674.4 L762.4 674.4 L764.9 674.6 L767.5 674.9 L770.0 675.5 L772.5 676.3 L775.0 677.6 L777.6 683.5M795.3 683.5 L799.2 676.9 L803.1 675.5 L806.9 674.6 L810.8 674.0 L814.7 673.6 L818.6 673.4 L822.5 673.4 L826.4 673.6 L830.3 674.0 L834.2 674.6 L838.1 675.5 L842.0 676.9 L845.8 683.5M850.9 683.5 L855.2 676.9 L859.5 675.5 L863.7 674.6 L868.0 674.0 L872.3 673.6 L876.6 673.4 L880.9 673.4 L885.1 673.6 L889.4 674.0 L893.7 674.6 L898.0 675.5 L902.3 676.9 L906.5 683.5M929.3 683.5 L934.0 677.6 L938.6 676.3 L943.3 675.5 L948.0 674.9 L952.6 674.6 L957.3 674.4 L962.0 674.4 L966.7 674.6 L971.3 674.9 L976.0 675.5 L980.7 676.3 L985.3 677.6 L990.0 683.5M1172.1 683.5 L1173.8 678.9 L1175.6 677.9 L1177.3 677.2 L1179.1 676.8 L1180.8 676.6 L1182.6 676.4 L1184.3 676.4 L1186.1 676.6 L1187.8 676.8 L1189.6 677.2 L1191.3 677.9 L1193.1 678.9 L1194.8 683.5M1217.6 683.5 L1220.3 677.6 L1223.0 676.3 L1225.8 675.5 L1228.5 674.9 L1231.2 674.6 L1233.9 674.4 L1236.7 674.4 L1239.4 674.6 L1242.1 674.9 L1244.8 675.5 L1247.6 676.3 L1250.3 677.6 L1253.0 683.5" fill="none" stroke="#b4260f" stroke-width="3.4" stroke-linejoin="round"/>
<path d="M1020.8 683.5 L1027.2 679.2 L1032.9 675.9 L1038.0 673.1 L1042.6 670.9 L1046.7 669.1 L1050.5 667.6 L1053.8 666.4 L1056.8 665.3 L1059.6 664.4 L1062.0 663.6 L1064.2 662.9 L1066.2 662.3 L1068.0 661.7 L1069.6 661.1 L1071.0 660.5 L1072.3 659.9 L1073.5 659.2 L1074.6 658.5 L1075.5 657.7 L1076.4 656.8 L1077.1 655.8 L1077.8 654.7 L1078.5 653.4 L1079.0 652.0 L1079.5 650.4 L1080.0 648.5 L1080.4 646.4 L1080.8 644.1 L1081.1 641.5 L1081.4 638.6 L1081.7 635.3 L1081.9 631.8 L1082.1 628.0 L1082.3 623.9 L1082.5 619.6 L1082.6 615.0 L1082.8 610.3 L1082.9 605.4 L1083.0 600.4 L1083.1 595.4 L1083.2 590.5 L1083.3 585.6 L1083.4 580.9 L1083.5 576.5 L1083.5 572.3 L1083.6 568.3 L1083.6 564.6 L1083.7 561.3 L1083.7 558.2 L1083.7 555.5 L1083.8 553.0 L1083.8 550.8 L1083.8 548.9 L1083.9 547.1 L1083.9 545.6 L1083.9 544.3 L1083.9 543.1 L1083.9 542.1 L1083.9 541.3 L1084.1 535.9 L1084.2 541.3 L1084.2 542.1 L1084.2 543.1 L1084.2 544.3 L1084.3 545.6 L1084.3 547.1 L1084.3 548.9 L1084.3 550.8 L1084.4 553.0 L1084.4 555.5 L1084.4 558.2 L1084.5 561.3 L1084.5 564.6 L1084.6 568.3 L1084.6 572.3 L1084.7 576.5 L1084.8 580.9 L1084.8 585.6 L1084.9 590.5 L1085.0 595.4 L1085.1 600.4 L1085.2 605.4 L1085.4 610.3 L1085.5 615.0 L1085.7 619.6 L1085.8 623.9 L1086.0 628.0 L1086.2 631.8 L1086.5 635.3 L1086.8 638.6 L1087.1 641.5 L1087.4 644.1 L1087.7 646.4 L1088.2 648.5 L1088.6 650.4 L1089.1 652.0 L1089.7 653.4 L1090.3 654.7 L1091.0 655.8 L1091.8 656.8 L1092.6 657.7 L1093.6 658.5 L1094.6 659.2 L1095.8 659.9 L1097.1 660.5 L1098.5 661.1 L1100.1 661.7 L1101.9 662.3 L1103.9 662.9 L1106.1 663.6 L1108.6 664.4 L1111.3 665.3 L1114.3 666.4 L1117.7 667.6 L1121.4 669.1 L1125.6 670.9 L1130.2 673.1 L1135.3 675.9 L1141.0 679.2 L1147.3 683.5" fill="none" stroke="#c8200f" stroke-width="3.6" stroke-linejoin="round"/>
<rect x="115.0" y="77.0" width="1138.0" height="606.5" fill="none" stroke="#a8a8a8" stroke-width="2"/>
<path d="M115.0 683.5v-7M115.0 77.0v7M241.4 683.5v-7M241.4 77.0v7M367.9 683.5v-7M367.9 77.0v7M494.3 683.5v-7M494.3 77.0v7M620.8 683.5v-7M620.8 77.0v7M747.2 683.5v-7M747.2 77.0v7M873.7 683.5v-7M873.7 77.0v7M1000.1 683.5v-7M1000.1 77.0v7M1126.6 683.5v-7M1126.6 77.0v7M1253.0 683.5v-7M1253.0 77.0v7M115.0 683.5h7M1253.0 683.5h-7M115.0 582.4h7M1253.0 582.4h-7M115.0 481.3h7M1253.0 481.3h-7M115.0 380.2h7M1253.0 380.2h-7M115.0 279.2h7M1253.0 279.2h-7M115.0 178.1h7M1253.0 178.1h-7M115.0 77.0h7M1253.0 77.0h-7" stroke="#8c8c8c" stroke-width="1.5" fill="none"/>
<text x="115.0" y="718" text-anchor="middle" class="tk">0</text>
<text x="241.4" y="718" text-anchor="middle" class="tk">5</text>
<text x="367.9" y="718" text-anchor="middle" class="tk">10</text>
<text x="494.3" y="718" text-anchor="middle" class="tk">15</text>
<text x="620.8" y="718" text-anchor="middle" class="tk">20</text>
<text x="747.2" y="718" text-anchor="middle" class="tk">25</text>
<text x="873.7" y="718" text-anchor="middle" class="tk">30</text>
<text x="1000.1" y="718" text-anchor="middle" class="tk">35</text>
<text x="1126.6" y="718" text-anchor="middle" class="tk">40</text>
<text x="1253.0" y="718" text-anchor="middle" class="tk">45</text>
<text x="109" y="694.1" text-anchor="end" class="tk">0</text>
<text x="109" y="593.0" text-anchor="end" class="tk">0.2</text>
<text x="109" y="491.9" text-anchor="end" class="tk">0.4</text>
<text x="109" y="390.8" text-anchor="end" class="tk">0.6</text>
<text x="109" y="289.8" text-anchor="end" class="tk">0.8</text>
<text x="109" y="188.7" text-anchor="end" class="tk">1</text>
<text x="109" y="87.6" text-anchor="end" class="tk">1.2</text>
<text x="684.5" y="64.7" text-anchor="middle" class="ttl">Instantaneous Frequency Estimation</text>
<text x="683.5" y="755.5" text-anchor="middle" class="xl">Distance (m)</text>
<text transform="translate(61,381.25) rotate(-90)" text-anchor="middle" class="xl">Amplitude (mV)</text>
<rect x="931" y="86" width="314" height="91.5" fill="#fff" stroke="#9a9a9a" stroke-width="1.5"/>
<line x1="935" y1="103" x2="965" y2="103" stroke="#48e0e6" stroke-width="3.5"/>
<text x="967" y="111.5" class="lg">IMF 1 (Kurtosis / Ikaz)</text>
<line x1="935" y1="133.5" x2="965" y2="133.5" stroke="#3ed83e" stroke-width="3.5"/>
<text x="967" y="142.0" class="lg">IMF 2 (Variance)</text>
<line x1="935" y1="163.5" x2="965" y2="163.5" stroke="#d41818" stroke-width="3.5"/>
<text x="967" y="172.0" class="lg">IMF 5 (Normalized IKAZ)</text>
<rect x="124.5" y="89" width="278" height="98.5" fill="#fff" stroke="#1a1a1a" stroke-width="1.6"/>
<text x="264" y="148.25" text-anchor="middle" class="pl">(a)</text>
<text x="845" y="545.5" class="ann">Outlet</text>
<line x1="956" y1="537.5" x2="1051" y2="537.5" stroke="#b81412" stroke-width="4.5"/><polygon points="1048,529.5 1065,537.5 1048,545.5" fill="#b81412"/>
<path d="M141.3 821.5V1428.5M166.6 821.5V1428.5M191.9 821.5V1428.5M217.2 821.5V1428.5M267.7 821.5V1428.5M293.0 821.5V1428.5M318.3 821.5V1428.5M343.6 821.5V1428.5M394.2 821.5V1428.5M419.5 821.5V1428.5M444.8 821.5V1428.5M470.0 821.5V1428.5M520.6 821.5V1428.5M545.9 821.5V1428.5M571.2 821.5V1428.5M596.5 821.5V1428.5M647.1 821.5V1428.5M672.4 821.5V1428.5M697.6 821.5V1428.5M722.9 821.5V1428.5M773.5 821.5V1428.5M798.8 821.5V1428.5M824.1 821.5V1428.5M849.4 821.5V1428.5M900.0 821.5V1428.5M925.2 821.5V1428.5M950.5 821.5V1428.5M975.8 821.5V1428.5M1026.4 821.5V1428.5M1051.7 821.5V1428.5M1077.0 821.5V1428.5M1102.3 821.5V1428.5M1152.8 821.5V1428.5M1178.1 821.5V1428.5M1203.4 821.5V1428.5M1228.7 821.5V1428.5M116.0 1403.2H1254.0M116.0 1377.9H1254.0M116.0 1352.6H1254.0M116.0 1302.0H1254.0M116.0 1276.8H1254.0M116.0 1251.5H1254.0M116.0 1200.9H1254.0M116.0 1175.6H1254.0M116.0 1150.3H1254.0M116.0 1099.7H1254.0M116.0 1074.4H1254.0M116.0 1049.1H1254.0M116.0 998.5H1254.0M116.0 973.2H1254.0M116.0 948.0H1254.0M116.0 897.4H1254.0M116.0 872.1H1254.0M116.0 846.8H1254.0" stroke="#ededed" stroke-width="2" fill="none"/>
<path d="M242.4 821.5V1428.5M368.9 821.5V1428.5M495.3 821.5V1428.5M621.8 821.5V1428.5M748.2 821.5V1428.5M874.7 821.5V1428.5M1001.1 821.5V1428.5M1127.6 821.5V1428.5M116.0 1327.3H1254.0M116.0 1226.2H1254.0M116.0 1125.0H1254.0M116.0 1023.8H1254.0M116.0 922.7H1254.0" stroke="#dadada" stroke-width="2.4" fill="none"/>
<polygon points="116.0,1428.5 116.0,1248.5 116.5,1259.1 117.0,1250.3 117.5,1289.7 118.0,1252.3 118.5,1259.6 119.0,1281.4 119.5,1266.6 120.0,1246.6 120.5,1286.0 121.0,1285.1 121.5,1291.7 122.0,1246.1 122.5,1262.1 123.0,1289.2 123.5,1279.7 124.0,1267.8 124.5,1281.7 125.0,1260.7 125.5,1277.2 126.0,1259.6 126.5,1273.3 127.0,1275.3 127.5,1271.9 128.0,1248.1 128.5,1266.8 129.0,1292.7 129.5,1270.8 130.0,1260.2 130.5,1265.7 131.0,1273.5 131.5,1255.1 132.0,1258.7 132.5,1277.6 133.0,1285.5 133.5,1296.0 134.0,1278.9 134.5,1275.7 135.0,1285.2 135.5,1262.7 136.0,1253.8 136.5,1251.7 137.0,1272.6 137.5,1273.1 138.0,1293.8 138.5,1258.2 139.0,1270.7 139.5,1293.1 140.0,1286.7 140.5,1277.7 141.0,1286.6 141.5,1293.3 142.0,1312.4 142.5,1275.2 143.0,1261.4 143.5,1275.7 144.0,1258.6 144.5,1272.2 145.0,1271.6 145.5,1237.7 146.0,1243.9 146.5,1222.1 147.0,1233.2 147.5,1218.9 148.0,1215.3 148.5,1219.7 149.0,1213.3 149.5,1206.6 150.0,1210.3 150.5,1210.5 151.0,1206.9 151.5,1210.4 152.0,1207.7 152.5,1201.9 153.0,1199.2 153.5,1201.4 154.0,1196.3 154.5,1194.2 155.0,1193.7 155.5,1193.9 156.0,1192.0 156.5,1190.3 157.0,1187.8 157.5,1183.6 158.0,1172.9 158.5,1173.6 159.0,1171.9 159.5,1170.0 160.0,1173.1 160.5,1171.3 161.0,1164.4 161.5,1159.6 162.0,1157.1 162.5,1149.8 163.0,1144.5 163.5,1149.7 164.0,1149.4 164.5,1139.4 165.0,1142.0 165.5,1142.4 166.0,1141.8 166.5,1139.4 167.0,1125.2 167.5,1121.5 168.0,1117.1 168.5,1118.5 169.0,1110.9 169.5,1113.9 170.0,1105.8 170.5,1107.0 171.0,1094.1 171.5,1104.0 172.0,1100.7 172.5,1084.8 173.0,1082.5 173.5,1086.0 174.0,1078.2 174.5,1081.6 175.0,1080.2 175.5,1071.6 176.0,1062.5 176.5,1057.0 177.0,1065.8 177.5,1046.7 178.0,1059.0 178.5,1057.8 179.0,1038.8 179.5,1039.3 180.0,1032.6 180.5,1031.0 181.0,1033.5 181.5,1013.0 182.0,1025.2 182.5,1012.1 183.0,1011.3 183.5,1012.9 184.0,999.6 184.5,984.2 185.0,977.4 185.5,972.9 186.0,982.8 186.5,968.0 187.0,958.6 187.5,970.4 188.0,964.9 188.5,969.4 189.0,966.4 189.5,969.3 190.0,954.4 190.5,966.4 191.0,959.4 191.5,960.3 192.0,970.5 192.5,966.0 193.0,962.6 193.5,966.2 194.0,952.2 194.5,958.2 195.0,953.3 195.5,946.2 196.0,946.2 196.5,964.7 197.0,941.9 197.5,954.2 198.0,954.9 198.5,944.3 199.0,943.9 199.5,949.1 200.0,944.6 200.5,960.9 201.0,941.0 201.5,951.8 202.0,953.0 202.5,959.0 203.0,953.4 203.5,954.5 204.0,939.3 204.5,940.6 205.0,936.8 205.5,943.9 206.0,934.3 206.5,938.9 207.0,954.0 207.5,952.3 208.0,937.5 208.5,957.8 209.0,945.0 209.5,952.1 210.0,944.5 210.5,945.2 211.0,964.0 211.5,945.8 212.0,955.7 212.5,967.6 213.0,968.1 213.5,974.2 214.0,965.8 214.5,955.9 215.0,958.4 215.5,964.3 216.0,963.0 216.5,979.9 217.0,972.2 217.5,979.8 218.0,969.7 218.5,992.6 219.0,982.1 219.5,994.4 220.0,994.4 220.5,999.2 221.0,987.6 221.5,999.0 222.0,1002.8 222.5,996.3 223.0,990.2 223.5,1003.4 224.0,1009.6 224.5,1006.0 225.0,1019.2 225.5,1008.6 226.0,1011.3 226.5,1017.9 227.0,1015.6 227.5,1020.7 228.0,1018.8 228.5,1023.2 229.0,1020.5 229.5,1024.9 230.0,1041.3 230.5,1034.3 231.0,1045.2 231.5,1048.0 232.0,1044.3 232.5,1043.1 233.0,1047.9 233.5,1064.0 234.0,1060.5 234.5,1063.6 235.0,1067.1 235.5,1075.9 236.0,1074.8 236.5,1089.0 237.0,1083.5 237.5,1085.9 238.0,1100.2 238.5,1109.1 239.0,1102.5 239.5,1116.9 240.0,1114.2 240.5,1112.2 241.0,1119.0 241.5,1119.8 242.0,1137.9 242.5,1135.7 243.0,1137.5 243.5,1150.8 244.0,1154.2 244.5,1150.9 245.0,1161.2 245.5,1167.9 246.0,1164.5 246.5,1178.1 247.0,1185.6 247.5,1195.9 248.0,1193.8 248.5,1210.1 249.0,1220.6 249.5,1222.5 250.0,1232.0 250.5,1258.7 251.0,1285.8 251.5,1271.1 252.0,1291.4 252.5,1292.0 253.0,1313.0 253.5,1337.3 254.0,1348.5 254.5,1361.5 255.0,1372.4 255.5,1392.3 256.0,1385.2 256.5,1371.4 257.0,1383.2 257.5,1378.1 258.0,1386.9 258.5,1373.9 259.0,1383.5 259.5,1390.4 260.0,1393.1 260.5,1384.2 261.0,1383.9 261.5,1394.5 262.0,1383.1 262.5,1388.5 263.0,1398.4 263.5,1389.5 264.0,1393.0 264.5,1392.0 265.0,1387.2 265.5,1383.3 266.0,1389.5 266.5,1391.1 267.0,1401.2 267.5,1404.8 268.0,1398.0 268.5,1404.1 269.0,1394.7 269.5,1403.4 270.0,1397.7 270.5,1404.0 271.0,1402.4 271.5,1400.3 272.0,1403.4 272.5,1398.7 273.0,1392.4 273.5,1387.5 274.0,1396.9 274.5,1402.8 275.0,1395.0 275.5,1390.5 276.0,1397.5 276.5,1401.3 277.0,1402.0 277.5,1399.9 278.0,1399.9 278.5,1398.9 279.0,1407.1 279.5,1402.3 280.0,1405.3 280.5,1407.9 281.0,1402.2 281.5,1398.3 282.0,1396.2 282.5,1390.0 283.0,1383.4 283.5,1382.5 284.0,1384.4 284.5,1389.1 285.0,1394.0 285.5,1395.7 286.0,1394.9 286.5,1395.8 287.0,1397.2 287.5,1390.4 288.0,1388.0 288.5,1381.4 289.0,1378.7 289.5,1371.4 290.0,1373.8 290.5,1374.8 291.0,1367.8 291.5,1367.4 292.0,1374.6 292.5,1371.6 293.0,1365.5 293.5,1371.9 294.0,1374.4 294.5,1382.5 295.0,1383.6 295.5,1377.2 296.0,1376.1 296.5,1367.9 297.0,1366.1 297.5,1373.4 298.0,1380.8 298.5,1374.5 299.0,1385.3 299.5,1376.1 300.0,1371.2 300.5,1381.8 301.0,1386.4 301.5,1382.9 302.0,1385.5 302.5,1377.5 303.0,1367.0 303.5,1359.8 304.0,1360.5 304.5,1369.4 305.0,1369.1 305.5,1359.5 306.0,1349.6 306.5,1354.6 307.0,1363.2 307.5,1364.8 308.0,1354.8 308.5,1342.0 309.0,1343.0 309.5,1354.3 310.0,1365.9 310.5,1363.4 311.0,1361.9 311.5,1374.8 312.0,1356.4 312.5,1382.6 313.0,1369.5 313.5,1370.7 314.0,1366.0 314.5,1367.4 315.0,1355.1 315.5,1370.4 316.0,1357.1 316.5,1351.0 317.0,1359.1 317.5,1347.3 318.0,1345.7 318.5,1344.5 319.0,1328.6 319.5,1324.0 320.0,1338.6 320.5,1353.4 321.0,1359.1 321.5,1344.4 322.0,1350.6 322.5,1346.1 323.0,1344.8 323.5,1352.4 324.0,1345.7 324.5,1333.8 325.0,1341.4 325.5,1353.9 326.0,1369.5 326.5,1362.3 327.0,1352.5 327.5,1361.1 328.0,1347.6 328.5,1330.0 329.0,1317.5 329.5,1338.7 330.0,1348.0 330.5,1339.3 331.0,1376.2 331.5,1360.7 332.0,1342.5 332.5,1356.3 333.0,1372.2 333.5,1350.7 334.0,1368.3 334.5,1346.9 335.0,1345.5 335.5,1329.4 336.0,1319.0 336.5,1335.1 337.0,1351.1 337.5,1358.1 338.0,1353.4 338.5,1340.4 339.0,1327.4 339.5,1314.3 340.0,1321.3 340.5,1334.2 341.0,1347.1 341.5,1347.5 342.0,1342.3 342.5,1349.4 343.0,1343.5 343.5,1346.9 344.0,1353.8 344.5,1357.0 345.0,1361.8 345.5,1355.2 346.0,1371.5 346.5,1339.9 347.0,1365.2 347.5,1351.5 348.0,1350.5 348.5,1354.9 349.0,1354.4 349.5,1358.3 350.0,1347.2 350.5,1346.5 351.0,1347.0 351.5,1338.6 352.0,1326.6 352.5,1320.0 353.0,1331.8 353.5,1343.7 354.0,1344.3 354.5,1339.3 355.0,1367.0 355.5,1341.4 356.0,1369.8 356.5,1346.2 357.0,1372.3 357.5,1358.3 358.0,1366.3 358.5,1350.2 359.0,1361.4 359.5,1355.3 360.0,1350.9 360.5,1362.3 361.0,1353.9 361.5,1348.9 362.0,1334.2 362.5,1324.8 363.0,1339.3 363.5,1332.5 364.0,1336.4 364.5,1350.8 365.0,1360.9 365.5,1356.4 366.0,1347.1 366.5,1345.2 367.0,1341.9 367.5,1340.8 368.0,1363.8 368.5,1350.8 369.0,1354.1 369.5,1346.4 370.0,1354.1 370.5,1355.2 371.0,1357.5 371.5,1327.5 372.0,1350.1 372.5,1329.1 373.0,1311.6 373.5,1331.5 374.0,1318.5 374.5,1310.5 375.0,1319.6 375.5,1332.5 376.0,1345.4 376.5,1344.2 377.0,1347.7 377.5,1357.2 378.0,1354.6 378.5,1345.5 379.0,1349.4 379.5,1363.1 380.0,1339.6 380.5,1327.7 381.0,1353.1 381.5,1363.3 382.0,1342.7 382.5,1339.4 383.0,1362.3 383.5,1368.6 384.0,1367.0 384.5,1358.6 385.0,1364.6 385.5,1358.4 386.0,1358.4 386.5,1370.4 387.0,1351.0 387.5,1340.5 388.0,1357.9 388.5,1357.0 389.0,1359.3 389.5,1356.6 390.0,1354.3 390.5,1365.5 391.0,1347.1 391.5,1358.6 392.0,1352.3 392.5,1350.6 393.0,1354.5 393.5,1341.4 394.0,1353.1 394.5,1340.6 395.0,1328.2 395.5,1315.7 396.0,1326.3 396.5,1338.8 397.0,1351.3 397.5,1356.9 398.0,1363.6 398.5,1336.8 399.0,1364.6 399.5,1364.7 400.0,1367.5 400.5,1338.4 401.0,1345.7 401.5,1363.2 402.0,1357.5 402.5,1333.5 403.0,1334.1 403.5,1322.4 404.0,1334.0 404.5,1328.2 405.0,1316.0 405.5,1320.8 406.0,1323.3 406.5,1311.2 407.0,1317.3 407.5,1329.8 408.0,1341.9 408.5,1353.2 409.0,1338.3 409.5,1334.8 410.0,1344.1 410.5,1334.1 411.0,1343.5 411.5,1341.8 412.0,1343.8 412.5,1344.1 413.0,1352.5 413.5,1347.2 414.0,1334.7 414.5,1322.1 415.0,1329.7 415.5,1342.3 416.0,1345.7 416.5,1329.5 417.0,1344.1 417.5,1350.7 418.0,1359.8 418.5,1365.7 419.0,1363.8 419.5,1355.3 420.0,1355.7 420.5,1337.4 421.0,1320.2 421.5,1326.6 422.0,1318.0 422.5,1330.8 423.0,1343.5 423.5,1346.0 424.0,1345.9 424.5,1355.4 425.0,1356.4 425.5,1360.4 426.0,1353.8 426.5,1362.0 427.0,1351.4 427.5,1359.6 428.0,1355.6 428.5,1348.0 429.0,1341.3 429.5,1361.7 430.0,1374.5 430.5,1371.6 431.0,1346.5 431.5,1341.5 432.0,1350.1 432.5,1335.9 433.0,1340.8 433.5,1357.6 434.0,1346.2 434.5,1351.1 435.0,1337.7 435.5,1328.9 436.0,1356.0 436.5,1374.3 437.0,1347.9 437.5,1356.2 438.0,1365.6 438.5,1363.4 439.0,1350.7 439.5,1365.1 440.0,1369.6 440.5,1355.4 441.0,1351.1 441.5,1350.4 442.0,1351.3 442.5,1356.4 443.0,1361.0 443.5,1371.8 444.0,1353.8 444.5,1334.9 445.0,1344.2 445.5,1335.5 446.0,1351.2 446.5,1352.3 447.0,1370.2 447.5,1370.6 448.0,1348.2 448.5,1348.8 449.0,1375.5 449.5,1359.4 450.0,1347.8 450.5,1367.6 451.0,1355.5 451.5,1343.3 452.0,1331.2 452.5,1331.5 453.0,1343.8 453.5,1353.1 454.0,1363.9 454.5,1359.3 455.0,1344.9 455.5,1338.8 456.0,1336.2 456.5,1348.6 457.0,1361.0 457.5,1363.2 458.0,1351.8 458.5,1362.9 459.0,1357.3 459.5,1347.0 460.0,1336.7 460.5,1326.4 461.0,1334.2 461.5,1344.6 462.0,1353.2 462.5,1359.4 463.0,1348.4 463.5,1339.9 464.0,1346.9 464.5,1329.9 465.0,1348.0 465.5,1358.0 466.0,1365.0 466.5,1357.8 467.0,1372.5 467.5,1359.5 468.0,1349.1 468.5,1337.4 469.0,1325.8 469.5,1333.8 470.0,1345.6 470.5,1357.4 471.0,1365.1 471.5,1363.5 472.0,1370.1 472.5,1364.7 473.0,1361.0 473.5,1360.1 474.0,1358.7 474.5,1354.3 475.0,1353.6 475.5,1366.3 476.0,1346.6 476.5,1358.1 477.0,1368.0 477.5,1368.4 478.0,1373.5 478.5,1362.5 479.0,1355.9 479.5,1348.2 480.0,1334.5 480.5,1335.8 481.0,1349.6 481.5,1363.5 482.0,1363.2 482.5,1379.2 483.0,1351.0 483.5,1358.0 484.0,1360.3 484.5,1347.2 485.0,1334.0 485.5,1330.4 486.0,1337.3 486.5,1349.6 487.0,1340.0 487.5,1328.3 488.0,1330.3 488.5,1342.2 489.0,1354.1 489.5,1351.4 490.0,1373.1 490.5,1381.4 491.0,1382.6 491.5,1371.8 492.0,1366.3 492.5,1349.9 493.0,1337.6 493.5,1354.1 494.0,1370.6 494.5,1355.9 495.0,1360.0 495.5,1343.9 496.0,1356.1 496.5,1359.5 497.0,1361.1 497.5,1373.5 498.0,1355.6 498.5,1363.9 499.0,1369.0 499.5,1367.2 500.0,1366.1 500.5,1345.6 501.0,1351.8 501.5,1349.3 502.0,1339.0 502.5,1349.1 503.0,1359.8 503.5,1366.6 504.0,1358.3 504.5,1346.8 505.0,1335.5 505.5,1342.9 506.0,1354.7 506.5,1366.4 507.0,1363.3 507.5,1370.7 508.0,1382.3 508.5,1374.9 509.0,1374.9 509.5,1376.0 510.0,1386.5 510.5,1372.7 511.0,1366.6 511.5,1368.3 512.0,1377.6 512.5,1358.7 513.0,1373.3 513.5,1369.0 514.0,1373.6 514.5,1378.3 515.0,1371.3 515.5,1379.6 516.0,1381.0 516.5,1377.0 517.0,1361.5 517.5,1345.2 518.0,1347.9 518.5,1353.1 519.0,1362.7 519.5,1367.6 520.0,1373.7 520.5,1364.9 521.0,1365.8 521.5,1352.6 522.0,1363.6 522.5,1366.3 523.0,1375.6 523.5,1361.1 524.0,1379.9 524.5,1375.2 525.0,1373.5 525.5,1375.8 526.0,1383.7 526.5,1375.6 527.0,1382.7 527.5,1377.3 528.0,1372.5 528.5,1371.1 529.0,1375.7 529.5,1370.3 530.0,1362.0 530.5,1368.0 531.0,1364.7 531.5,1357.9 532.0,1357.5 532.5,1366.8 533.0,1366.5 533.5,1367.5 534.0,1371.2 534.5,1356.8 535.0,1353.4 535.5,1368.0 536.0,1382.2 536.5,1376.4 537.0,1373.1 537.5,1381.6 538.0,1390.0 538.5,1372.0 539.0,1387.3 539.5,1388.5 540.0,1383.0 540.5,1372.9 541.0,1383.3 541.5,1374.2 542.0,1365.1 542.5,1348.3 543.0,1365.1 543.5,1383.4 544.0,1391.1 544.5,1372.5 545.0,1383.0 545.5,1372.2 546.0,1361.5 546.5,1366.3 547.0,1377.3 547.5,1376.0 548.0,1381.8 548.5,1375.3 549.0,1376.1 549.5,1374.1 550.0,1392.1 550.5,1381.8 551.0,1383.4 551.5,1385.2 552.0,1394.5 552.5,1385.4 553.0,1377.1 553.5,1379.2 554.0,1389.3 554.5,1386.0 555.0,1386.2 555.5,1381.0 556.0,1390.0 556.5,1389.9 557.0,1394.6 557.5,1382.1 558.0,1371.4 558.5,1359.1 559.0,1368.3 559.5,1381.0 560.0,1393.1 560.5,1384.4 561.0,1378.8 561.5,1381.6 562.0,1388.0 562.5,1392.8 563.0,1388.7 563.5,1382.6 564.0,1392.5 564.5,1388.8 565.0,1388.4 565.5,1391.4 566.0,1394.9 566.5,1387.9 567.0,1394.5 567.5,1392.9 568.0,1384.8 568.5,1387.3 569.0,1387.7 569.5,1381.9 570.0,1387.7 570.5,1396.6 571.0,1387.9 571.5,1386.8 572.0,1386.9 572.5,1383.3 573.0,1387.7 573.5,1381.5 574.0,1378.1 574.5,1384.4 575.0,1378.6 575.5,1375.5 576.0,1385.3 576.5,1387.0 577.0,1373.9 577.5,1377.2 578.0,1384.7 578.5,1372.1 579.0,1378.2 579.5,1390.9 580.0,1392.4 580.5,1389.1 581.0,1393.2 581.5,1386.8 582.0,1381.8 582.5,1378.2 583.0,1388.6 583.5,1398.9 584.0,1398.6 584.5,1396.2 585.0,1384.7 585.5,1387.0 586.0,1380.0 586.5,1373.0 587.0,1374.6 587.5,1385.6 588.0,1382.9 588.5,1391.0 589.0,1399.0 589.5,1382.5 590.0,1399.9 590.5,1394.2 591.0,1385.9 591.5,1389.7 592.0,1386.4 592.5,1386.1 593.0,1379.9 593.5,1373.7 594.0,1377.9 594.5,1384.2 595.0,1390.5 595.5,1386.3 596.0,1390.0 596.5,1399.0 597.0,1401.1 597.5,1391.3 598.0,1391.0 598.5,1382.4 599.0,1378.0 599.5,1374.8 600.0,1369.8 600.5,1376.7 601.0,1383.5 601.5,1390.3 602.0,1397.1 602.5,1395.3 603.0,1388.5 603.5,1381.6 604.0,1374.8 604.5,1368.0 605.0,1371.9 605.5,1378.5 606.0,1385.7 606.5,1392.6 607.0,1388.5 607.5,1380.4 608.0,1372.3 608.5,1375.1 609.0,1381.2 609.5,1387.6 610.0,1380.9 610.5,1374.3 611.0,1372.1 611.5,1378.9 612.0,1385.6 612.5,1392.3 613.0,1388.4 613.5,1395.1 614.0,1393.8 614.5,1387.6 615.0,1381.4 615.5,1375.2 616.0,1371.9 616.5,1378.1 617.0,1377.7 617.5,1368.6 618.0,1379.2 618.5,1389.9 619.0,1400.5 619.5,1398.1 620.0,1396.8 620.5,1389.7 621.0,1382.6 621.5,1377.0 622.0,1383.2 622.5,1374.8 623.0,1375.1 623.5,1383.2 624.0,1391.0 624.5,1394.3 625.0,1390.4 625.5,1389.8 626.0,1393.8 626.5,1394.3 627.0,1396.6 627.5,1400.7 628.0,1398.5 628.5,1397.7 629.0,1398.0 629.5,1394.6 630.0,1392.1 630.5,1391.8 631.0,1385.0 631.5,1380.3 632.0,1378.9 632.5,1384.4 633.0,1389.9 633.5,1395.5 634.0,1397.1 634.5,1386.9 635.0,1376.2 635.5,1380.5 636.0,1379.5 636.5,1370.7 637.0,1376.0 637.5,1380.7 638.0,1383.7 638.5,1379.6 639.0,1382.3 639.5,1376.7 640.0,1380.1 640.5,1383.6 641.0,1390.7 641.5,1396.2 642.0,1394.9 642.5,1398.4 643.0,1392.0 643.5,1393.6 644.0,1396.8 644.5,1390.5 645.0,1385.6 645.5,1393.0 646.0,1387.6 646.5,1390.1 647.0,1395.6 647.5,1394.1 648.0,1384.7 648.5,1375.4 649.0,1366.2 649.5,1363.4 650.0,1363.7 650.5,1373.2 651.0,1385.3 651.5,1392.3 652.0,1391.5 652.5,1400.0 653.0,1396.9 653.5,1387.9 654.0,1378.9 654.5,1375.0 655.0,1384.4 655.5,1388.9 656.0,1382.8 656.5,1376.8 657.0,1372.9 657.5,1379.3 658.0,1385.6 658.5,1391.9 659.0,1392.4 659.5,1392.8 660.0,1397.4 660.5,1389.3 661.0,1385.1 661.5,1376.1 662.0,1377.5 662.5,1386.8 663.0,1396.0 663.5,1401.4 664.0,1395.1 664.5,1402.0 665.0,1393.9 665.5,1385.6 666.0,1377.5 666.5,1378.7 667.0,1384.7 667.5,1383.0 668.0,1389.6 668.5,1395.3 669.0,1388.5 669.5,1387.8 670.0,1395.0 670.5,1401.3 671.0,1405.2 671.5,1406.9 672.0,1405.3 672.5,1402.5 673.0,1403.7 673.5,1397.6 674.0,1402.9 674.5,1397.4 675.0,1391.9 675.5,1386.4 676.0,1386.0 676.5,1391.6 677.0,1389.4 677.5,1387.0 678.0,1391.6 678.5,1396.1 679.0,1400.7 679.5,1405.2 680.0,1409.7 680.5,1402.7 681.0,1394.2 681.5,1385.8 682.0,1377.4 682.5,1381.5 683.0,1390.0 683.5,1398.5 684.0,1407.0 684.5,1406.5 685.0,1399.0 685.5,1391.5 686.0,1384.0 686.5,1376.6 687.0,1384.1 687.5,1391.6 688.0,1399.2 688.5,1394.6 689.0,1402.3 689.5,1401.3 690.0,1393.8 690.5,1386.3 691.0,1383.3 691.5,1378.1 692.0,1385.0 692.5,1392.0 693.0,1389.2 693.5,1383.3 694.0,1378.2 694.5,1384.2 695.0,1390.2 695.5,1396.1 696.0,1402.1 696.5,1406.7 697.0,1406.3 697.5,1414.0 698.0,1404.6 698.5,1410.0 699.0,1396.7 699.5,1396.9 700.0,1390.7 700.5,1397.3 701.0,1403.9 701.5,1400.0 702.0,1408.5 702.5,1401.8 703.0,1400.8 703.5,1402.2 704.0,1397.4 704.5,1389.4 705.0,1382.2 705.5,1383.1 706.0,1383.4 706.5,1388.3 707.0,1393.2 707.5,1398.1 708.0,1402.9 708.5,1403.6 709.0,1403.8 709.5,1401.4 710.0,1396.1 710.5,1400.8 711.0,1400.3 711.5,1402.0 712.0,1403.8 712.5,1398.1 713.0,1392.0 713.5,1386.0 714.0,1388.0 714.5,1394.2 715.0,1400.3 715.5,1402.8 716.0,1399.4 716.5,1399.6 717.0,1394.1 717.5,1398.2 718.0,1401.3 718.5,1395.5 719.0,1389.8 719.5,1390.4 720.0,1396.2 720.5,1402.1 721.0,1407.1 721.5,1404.5 722.0,1407.9 722.5,1399.9 723.0,1396.3 723.5,1394.3 724.0,1400.1 724.5,1405.9 725.0,1409.6 725.5,1407.8 726.0,1410.6 726.5,1410.5 727.0,1408.3 727.5,1410.6 728.0,1404.6 728.5,1405.8 729.0,1399.9 729.5,1390.5 730.0,1391.0 730.5,1400.4 731.0,1398.0 731.5,1394.6 732.0,1392.3 732.5,1387.5 733.0,1389.8 733.5,1394.6 734.0,1392.2 734.5,1398.0 735.0,1405.6 735.5,1406.5 736.0,1403.2 736.5,1397.8 737.0,1392.4 737.5,1387.0 738.0,1391.9 738.5,1395.1 739.0,1392.1 739.5,1386.2 740.0,1391.1 740.5,1397.3 741.0,1401.0 741.5,1398.4 742.0,1405.3 742.5,1404.9 743.0,1401.9 743.5,1398.9 744.0,1401.5 744.5,1404.5 745.0,1407.5 745.5,1410.5 746.0,1407.0 746.5,1410.0 747.0,1413.0 747.5,1410.6 748.0,1405.4 748.5,1402.9 749.0,1397.5 749.5,1392.0 750.0,1389.2 750.5,1394.6 751.0,1400.1 751.5,1404.4 752.0,1408.6 752.5,1407.7 753.0,1407.6 753.5,1405.5 754.0,1405.8 754.5,1409.9 755.0,1407.5 755.5,1405.7 756.0,1402.6 756.5,1405.1 757.0,1408.2 757.5,1403.8 758.0,1413.4 758.5,1411.2 759.0,1407.9 759.5,1413.2 760.0,1408.5 760.5,1407.6 761.0,1405.9 761.5,1408.1 762.0,1407.7 762.5,1410.4 763.0,1407.8 763.5,1407.8 764.0,1407.0 764.5,1405.8 765.0,1405.0 765.5,1400.9 766.0,1397.4 766.5,1393.6 767.0,1397.6 767.5,1401.5 768.0,1404.1 768.5,1409.4 769.0,1406.3 769.5,1404.7 770.0,1405.2 770.5,1407.9 771.0,1404.4 771.5,1400.5 772.0,1396.5 772.5,1395.4 773.0,1399.4 773.5,1402.3 774.0,1397.2 774.5,1392.0 775.0,1393.3 775.5,1393.7 776.0,1389.2 776.5,1385.4 777.0,1389.9 777.5,1394.4 778.0,1398.9 778.5,1403.4 779.0,1407.9 779.5,1404.7 780.0,1415.5 780.5,1410.9 781.0,1414.0 781.5,1412.9 782.0,1407.1 782.5,1408.7 783.0,1409.4 783.5,1409.1 784.0,1410.5 784.5,1409.1 785.0,1406.9 785.5,1411.8 786.0,1408.3 786.5,1410.5 787.0,1405.3 787.5,1404.2 788.0,1406.3 788.5,1404.9 789.0,1407.0 789.5,1399.5 790.0,1399.7 790.5,1397.9 791.0,1398.3 791.5,1403.1 792.0,1406.5 792.5,1400.4 793.0,1394.2 793.5,1388.1 794.0,1388.1 794.5,1384.1 795.0,1391.8 795.5,1399.5 796.0,1407.2 796.5,1398.8 797.0,1399.7 797.5,1405.1 798.0,1405.2 798.5,1405.8 799.0,1405.6 799.5,1405.5 800.0,1404.6 800.5,1412.7 801.0,1409.6 801.5,1405.6 802.0,1404.0 802.5,1401.2 803.0,1401.7 803.5,1404.9 804.0,1409.2 804.5,1402.8 805.0,1404.8 805.5,1400.2 806.0,1405.0 806.5,1407.2 807.0,1408.9 807.5,1409.2 808.0,1411.2 808.5,1408.0 809.0,1407.3 809.5,1414.3 810.0,1410.9 810.5,1417.5 811.0,1414.5 811.5,1411.7 812.0,1406.9 812.5,1408.7 813.0,1408.4 813.5,1410.5 814.0,1413.0 814.5,1405.7 815.0,1406.2 815.5,1413.1 816.0,1409.9 816.5,1406.0 817.0,1399.8 817.5,1393.5 818.0,1392.7 818.5,1398.9 819.0,1405.2 819.5,1409.9 820.0,1406.4 820.5,1406.8 821.0,1401.6 821.5,1408.2 822.0,1406.1 822.5,1399.3 823.0,1392.5 823.5,1397.2 824.0,1396.7 824.5,1397.3 825.0,1400.6 825.5,1404.0 826.0,1401.8 826.5,1398.2 827.0,1393.7 827.5,1389.1 828.0,1389.6 828.5,1394.1 829.0,1392.5 829.5,1398.8 830.0,1401.8 830.5,1397.8 831.0,1393.8 831.5,1392.5 832.0,1388.8 832.5,1395.6 833.0,1402.3 833.5,1404.7 834.0,1401.7 834.5,1396.5 835.0,1391.3 835.5,1386.1 836.0,1389.4 836.5,1394.6 837.0,1399.8 837.5,1403.2 838.0,1406.1 838.5,1403.7 839.0,1400.5 839.5,1397.2 840.0,1399.1 840.5,1402.3 841.0,1405.5 841.5,1406.7 842.0,1399.7 842.5,1392.7 843.0,1385.8 843.5,1391.0 844.0,1397.9 844.5,1404.9 845.0,1411.9 845.5,1412.4 846.0,1405.7 846.5,1406.9 847.0,1404.7 847.5,1411.5 848.0,1413.0 848.5,1400.8 849.0,1406.6 849.5,1412.0 850.0,1405.9 850.5,1399.8 851.0,1393.7 851.5,1387.6 852.0,1387.1 852.5,1393.2 853.0,1399.3 853.5,1405.3 854.0,1408.1 854.5,1400.9 855.0,1394.7 855.5,1402.0 856.0,1407.0 856.5,1413.8 857.0,1403.3 857.5,1410.1 858.0,1405.7 858.5,1412.3 859.0,1410.2 859.5,1404.5 860.0,1404.5 860.5,1401.6 861.0,1402.4 861.5,1405.2 862.0,1407.0 862.5,1405.8 863.0,1404.1 863.5,1401.5 864.0,1404.9 864.5,1408.3 865.0,1408.0 865.5,1404.5 866.0,1401.1 866.5,1402.8 867.0,1406.2 867.5,1402.1 868.0,1404.8 868.5,1400.4 869.0,1393.9 869.5,1393.8 870.0,1400.2 870.5,1399.9 871.0,1393.7 871.5,1396.5 872.0,1391.4 872.5,1386.2 873.0,1389.5 873.5,1390.5 874.0,1385.5 874.5,1392.0 875.0,1387.6 875.5,1386.2 876.0,1388.9 876.5,1389.3 877.0,1383.7 877.5,1391.0 878.0,1398.4 878.5,1405.7 879.0,1409.9 879.5,1411.0 880.0,1411.9 880.5,1408.2 881.0,1405.8 881.5,1406.8 882.0,1400.4 882.5,1401.8 883.0,1408.1 883.5,1409.3 884.0,1408.6 884.5,1406.6 885.0,1400.8 885.5,1396.7 886.0,1391.2 886.5,1385.6 887.0,1385.9 887.5,1387.3 888.0,1390.8 888.5,1395.6 889.0,1400.5 889.5,1395.4 890.0,1390.1 890.5,1395.2 891.0,1394.1 891.5,1400.1 892.0,1406.0 892.5,1410.6 893.0,1400.2 893.5,1411.4 894.0,1404.3 894.5,1409.5 895.0,1405.4 895.5,1397.6 896.0,1399.1 896.5,1399.0 897.0,1397.1 897.5,1400.8 898.0,1404.5 898.5,1406.9 899.0,1402.7 899.5,1398.3 900.0,1394.0 900.5,1389.6 901.0,1388.4 901.5,1386.9 902.0,1384.6 902.5,1389.3 903.0,1389.1 903.5,1394.4 904.0,1399.6 904.5,1395.3 905.0,1392.5 905.5,1390.0 906.0,1396.6 906.5,1397.0 907.0,1391.4 907.5,1389.8 908.0,1387.5 908.5,1392.6 909.0,1397.6 909.5,1402.6 910.0,1404.2 910.5,1399.9 911.0,1395.6 911.5,1393.9 912.0,1398.1 912.5,1402.3 913.0,1406.5 913.5,1399.1 914.0,1388.9 914.5,1391.3 915.0,1401.5 915.5,1392.9 916.0,1384.4 916.5,1388.6 917.0,1397.1 917.5,1402.1 918.0,1399.3 918.5,1399.4 919.0,1402.6 919.5,1404.5 920.0,1398.3 920.5,1392.1 921.0,1385.8 921.5,1385.1 922.0,1391.3 922.5,1397.5 923.0,1403.7 923.5,1405.4 924.0,1399.8 924.5,1396.7 925.0,1401.4 925.5,1401.0 926.0,1393.8 926.5,1390.3 927.0,1397.5 927.5,1403.2 928.0,1397.9 928.5,1392.6 929.0,1387.3 929.5,1387.5 930.0,1392.8 930.5,1398.0 931.0,1403.3 931.5,1402.3 932.0,1409.2 932.5,1407.5 933.0,1408.6 933.5,1401.3 934.0,1412.8 934.5,1404.6 935.0,1405.8 935.5,1402.8 936.0,1401.8 936.5,1395.9 937.0,1398.1 937.5,1398.2 938.0,1392.1 938.5,1386.0 939.0,1383.8 939.5,1385.9 940.0,1384.2 940.5,1388.8 941.0,1390.8 941.5,1395.7 942.0,1400.7 942.5,1404.5 943.0,1400.3 943.5,1413.2 944.0,1411.6 944.5,1407.3 945.0,1407.3 945.5,1408.7 946.0,1405.2 946.5,1408.6 947.0,1400.6 947.5,1407.0 948.0,1406.3 948.5,1397.3 949.0,1388.3 949.5,1384.8 950.0,1391.3 950.5,1388.8 951.0,1385.8 951.5,1382.4 952.0,1381.4 952.5,1388.3 953.0,1390.5 953.5,1382.1 954.0,1388.1 954.5,1396.5 955.0,1397.4 955.5,1392.3 956.0,1399.7 956.5,1393.0 957.0,1386.4 957.5,1391.4 958.0,1395.9 958.5,1389.3 959.0,1390.8 959.5,1385.8 960.0,1385.5 960.5,1379.5 961.0,1384.9 961.5,1391.0 962.0,1397.0 962.5,1403.1 963.0,1409.1 963.5,1408.5 964.0,1407.8 964.5,1406.0 965.0,1410.9 965.5,1412.8 966.0,1408.7 966.5,1411.5 967.0,1407.3 967.5,1411.8 968.0,1407.5 968.5,1403.2 969.0,1398.9 969.5,1394.7 970.0,1393.8 970.5,1398.1 971.0,1402.4 971.5,1406.7 972.0,1403.3 972.5,1397.8 973.0,1395.6 973.5,1401.1 974.0,1395.6 974.5,1389.0 975.0,1387.0 975.5,1393.7 976.0,1397.8 976.5,1391.5 977.0,1385.3 977.5,1382.2 978.0,1386.2 978.5,1382.9 979.0,1386.5 979.5,1392.9 980.0,1399.3 980.5,1405.7 981.0,1412.0 981.5,1404.2 982.0,1395.4 982.5,1386.5 983.0,1387.5 983.5,1396.4 984.0,1405.3 984.5,1408.2 985.0,1404.6 985.5,1404.9 986.0,1410.6 986.5,1400.7 987.0,1415.8 987.5,1412.4 988.0,1404.1 988.5,1403.2 989.0,1401.5 989.5,1398.6 990.0,1395.1 990.5,1396.8 991.0,1400.3 991.5,1403.8 992.0,1407.2 992.5,1410.0 993.0,1406.1 993.5,1409.4 994.0,1407.9 994.5,1402.8 995.0,1411.3 995.5,1408.2 996.0,1407.0 996.5,1402.5 997.0,1397.9 997.5,1393.4 998.0,1388.9 998.5,1384.4 999.0,1384.8 999.5,1392.3 1000.0,1396.9 1000.5,1401.4 1001.0,1406.0 1001.5,1407.2 1002.0,1412.6 1002.5,1408.3 1003.0,1406.1 1003.5,1398.7 1004.0,1397.8 1004.5,1400.2 1005.0,1406.1 1005.5,1409.2 1006.0,1410.5 1006.5,1410.1 1007.0,1402.9 1007.5,1403.4 1008.0,1409.6 1008.5,1412.0 1009.0,1405.8 1009.5,1401.8 1010.0,1407.0 1010.5,1402.3 1011.0,1405.9 1011.5,1407.6 1012.0,1409.1 1012.5,1409.0 1013.0,1409.9 1013.5,1410.1 1014.0,1408.4 1014.5,1406.3 1015.0,1402.7 1015.5,1399.0 1016.0,1395.4 1016.5,1386.3 1017.0,1389.7 1017.5,1401.1 1018.0,1404.8 1018.5,1403.2 1019.0,1398.0 1019.5,1392.7 1020.0,1387.5 1020.5,1384.0 1021.0,1389.3 1021.5,1394.5 1022.0,1392.1 1022.5,1396.8 1023.0,1401.4 1023.5,1394.7 1024.0,1386.2 1024.5,1394.3 1025.0,1402.1 1025.5,1397.1 1026.0,1392.1 1026.5,1387.2 1027.0,1385.9 1027.5,1390.9 1028.0,1395.9 1028.5,1400.0 1029.0,1401.9 1029.5,1403.7 1030.0,1398.1 1030.5,1393.2 1031.0,1389.1 1031.5,1399.0 1032.0,1407.2 1032.5,1413.0 1033.0,1408.0 1033.5,1407.6 1034.0,1413.5 1034.5,1407.8 1035.0,1409.9 1035.5,1404.5 1036.0,1403.6 1036.5,1408.6 1037.0,1413.9 1037.5,1409.9 1038.0,1413.1 1038.5,1412.8 1039.0,1405.2 1039.5,1407.8 1040.0,1403.9 1040.5,1399.7 1041.0,1395.5 1041.5,1393.2 1042.0,1393.5 1042.5,1394.2 1043.0,1389.1 1043.5,1397.3 1044.0,1405.5 1044.5,1409.2 1045.0,1409.2 1045.5,1404.9 1046.0,1400.7 1046.5,1396.4 1047.0,1392.2 1047.5,1395.1 1048.0,1399.3 1048.5,1403.6 1049.0,1407.8 1049.5,1410.6 1050.0,1409.4 1050.5,1405.9 1051.0,1402.7 1051.5,1391.9 1052.0,1386.3 1052.5,1393.5 1053.0,1394.4 1053.5,1388.5 1054.0,1391.4 1054.5,1390.6 1055.0,1386.4 1055.5,1391.3 1056.0,1395.5 1056.5,1401.0 1057.0,1402.4 1057.5,1396.5 1058.0,1398.4 1058.5,1404.3 1059.0,1407.4 1059.5,1406.9 1060.0,1410.3 1060.5,1406.0 1061.0,1410.0 1061.5,1410.0 1062.0,1407.3 1062.5,1408.2 1063.0,1405.8 1063.5,1406.1 1064.0,1398.7 1064.5,1391.0 1065.0,1392.8 1065.5,1392.8 1066.0,1394.7 1066.5,1404.3 1067.0,1412.8 1067.5,1409.0 1068.0,1408.1 1068.5,1410.3 1069.0,1409.9 1069.5,1411.2 1070.0,1408.3 1070.5,1408.4 1071.0,1410.2 1071.5,1408.2 1072.0,1402.8 1072.5,1397.3 1073.0,1391.7 1073.5,1389.7 1074.0,1395.2 1074.5,1400.7 1075.0,1399.1 1075.5,1394.2 1076.0,1393.9 1076.5,1398.8 1077.0,1403.7 1077.5,1406.2 1078.0,1403.5 1078.5,1398.2 1079.0,1393.0 1079.5,1394.8 1080.0,1400.1 1080.5,1405.3 1081.0,1410.5 1081.5,1409.6 1082.0,1406.6 1082.5,1403.6 1083.0,1400.7 1083.5,1402.0 1084.0,1405.0 1084.5,1407.9 1085.0,1405.4 1085.5,1398.1 1086.0,1396.6 1086.5,1404.0 1087.0,1406.8 1087.5,1403.4 1088.0,1399.9 1088.5,1397.8 1089.0,1401.4 1089.5,1404.9 1090.0,1408.4 1090.5,1406.5 1091.0,1404.2 1091.5,1398.1 1092.0,1402.2 1092.5,1398.9 1093.0,1394.8 1093.5,1390.7 1094.0,1393.8 1094.5,1397.9 1095.0,1402.0 1095.5,1406.1 1096.0,1408.3 1096.5,1410.6 1097.0,1405.5 1097.5,1405.0 1098.0,1407.6 1098.5,1415.3 1099.0,1412.7 1099.5,1411.2 1100.0,1408.6 1100.5,1405.8 1101.0,1411.7 1101.5,1406.1 1102.0,1411.1 1102.5,1406.8 1103.0,1402.4 1103.5,1398.1 1104.0,1393.8 1104.5,1389.4 1105.0,1385.8 1105.5,1390.2 1106.0,1394.6 1106.5,1398.9 1107.0,1403.3 1107.5,1407.6 1108.0,1409.7 1108.5,1407.4 1109.0,1402.1 1109.5,1396.7 1110.0,1391.4 1110.5,1394.1 1111.0,1399.5 1111.5,1404.9 1112.0,1408.9 1112.5,1408.3 1113.0,1408.8 1113.5,1405.6 1114.0,1406.7 1114.5,1402.5 1115.0,1398.4 1115.5,1394.3 1116.0,1390.6 1116.5,1394.7 1117.0,1398.9 1117.5,1403.0 1118.0,1403.0 1118.5,1396.6 1119.0,1394.4 1119.5,1400.8 1120.0,1407.3 1120.5,1411.3 1121.0,1407.7 1121.5,1404.2 1122.0,1400.6 1122.5,1401.2 1123.0,1404.8 1123.5,1402.3 1124.0,1406.6 1124.5,1411.4 1125.0,1409.2 1125.5,1413.3 1126.0,1406.2 1126.5,1413.9 1127.0,1414.7 1127.5,1407.1 1128.0,1412.3 1128.5,1413.4 1129.0,1414.1 1129.5,1409.4 1130.0,1413.2 1130.5,1412.6 1131.0,1417.2 1131.5,1415.7 1132.0,1412.4 1132.5,1415.9 1133.0,1412.7 1133.5,1407.3 1134.0,1410.6 1134.5,1407.3 1135.0,1414.2 1135.5,1409.0 1136.0,1408.8 1136.5,1406.2 1137.0,1403.5 1137.5,1401.4 1138.0,1400.2 1138.5,1398.2 1139.0,1393.6 1139.5,1393.4 1140.0,1398.2 1140.5,1393.8 1141.0,1389.4 1141.5,1389.4 1142.0,1393.8 1142.5,1391.6 1143.0,1395.3 1143.5,1399.0 1144.0,1402.8 1144.5,1406.5 1145.0,1409.8 1145.5,1401.6 1146.0,1407.6 1146.5,1416.6 1147.0,1407.3 1147.5,1410.5 1148.0,1412.6 1148.5,1410.2 1149.0,1408.0 1149.5,1402.1 1150.0,1399.3 1150.5,1402.6 1151.0,1406.6 1151.5,1409.9 1152.0,1403.3 1152.5,1399.1 1153.0,1404.9 1153.5,1406.3 1154.0,1407.3 1154.5,1403.6 1155.0,1399.9 1155.5,1394.2 1156.0,1400.0 1156.5,1404.6 1157.0,1408.3 1157.5,1409.3 1158.0,1408.5 1158.5,1407.5 1159.0,1407.7 1159.5,1403.3 1160.0,1398.8 1160.5,1394.3 1161.0,1389.9 1161.5,1392.1 1162.0,1396.6 1162.5,1401.0 1163.0,1404.3 1163.5,1398.0 1164.0,1396.5 1164.5,1402.8 1165.0,1400.6 1165.5,1394.8 1166.0,1396.5 1166.5,1402.3 1167.0,1408.1 1167.5,1411.5 1168.0,1406.6 1168.5,1411.6 1169.0,1410.5 1169.5,1407.3 1170.0,1408.8 1170.5,1412.6 1171.0,1408.2 1171.5,1403.8 1172.0,1399.3 1172.5,1394.9 1173.0,1390.5 1173.5,1391.8 1174.0,1396.2 1174.5,1400.6 1175.0,1403.4 1175.5,1405.7 1176.0,1400.4 1176.5,1395.1 1177.0,1389.8 1177.5,1391.8 1178.0,1397.1 1178.5,1400.6 1179.0,1405.2 1179.5,1408.9 1180.0,1405.4 1180.5,1401.8 1181.0,1399.9 1181.5,1403.5 1182.0,1407.0 1182.5,1405.8 1183.0,1414.0 1183.5,1410.5 1184.0,1406.9 1184.5,1401.1 1185.0,1394.0 1185.5,1392.1 1186.0,1399.2 1186.5,1406.4 1187.0,1413.5 1187.5,1417.7 1188.0,1412.5 1188.5,1412.8 1189.0,1408.4 1189.5,1408.5 1190.0,1403.9 1190.5,1399.4 1191.0,1394.8 1191.5,1390.3 1192.0,1390.3 1192.5,1394.8 1193.0,1399.4 1193.5,1403.9 1194.0,1407.2 1194.5,1413.1 1195.0,1410.1 1195.5,1414.7 1196.0,1410.5 1196.5,1405.0 1197.0,1399.6 1197.5,1394.9 1198.0,1400.4 1198.5,1405.8 1199.0,1408.0 1199.5,1404.2 1200.0,1398.7 1200.5,1396.7 1201.0,1402.3 1201.5,1407.9 1202.0,1408.7 1202.5,1409.5 1203.0,1414.2 1203.5,1415.1 1204.0,1411.8 1204.5,1406.7 1205.0,1401.7 1205.5,1401.8 1206.0,1407.0 1206.5,1405.8 1207.0,1399.9 1207.5,1397.1 1208.0,1403.1 1208.5,1409.1 1209.0,1403.8 1209.5,1402.9 1210.0,1405.2 1210.5,1401.7 1211.0,1398.3 1211.5,1394.6 1212.0,1395.5 1212.5,1393.8 1213.0,1395.5 1213.5,1399.3 1214.0,1403.2 1214.5,1407.0 1215.0,1410.8 1215.5,1412.4 1216.0,1408.3 1216.5,1408.6 1217.0,1407.8 1217.5,1410.7 1218.0,1412.3 1218.5,1405.3 1219.0,1398.3 1219.5,1394.8 1220.0,1399.1 1220.5,1400.3 1221.0,1398.8 1221.5,1394.9 1222.0,1395.6 1222.5,1399.6 1223.0,1403.7 1223.5,1407.7 1224.0,1411.7 1224.5,1406.4 1225.0,1399.1 1225.5,1399.1 1226.0,1406.5 1226.5,1401.6 1227.0,1396.7 1227.5,1402.3 1228.0,1401.5 1228.5,1404.9 1229.0,1409.2 1229.5,1413.4 1230.0,1411.4 1230.5,1413.3 1231.0,1410.4 1231.5,1407.1 1232.0,1403.9 1232.5,1400.7 1233.0,1397.5 1233.5,1400.4 1234.0,1403.7 1234.5,1407.0 1235.0,1410.1 1235.5,1404.6 1236.0,1399.1 1236.5,1395.8 1237.0,1401.4 1237.5,1407.0 1238.0,1412.5 1238.5,1417.4 1239.0,1417.4 1239.5,1412.1 1240.0,1415.8 1240.5,1412.9 1241.0,1410.8 1241.5,1412.5 1242.0,1418.1 1242.5,1421.3 1243.0,1411.2 1243.5,1419.0 1244.0,1419.2 1244.5,1416.9 1245.0,1416.5 1245.5,1414.1 1246.0,1417.4 1246.5,1418.0 1247.0,1413.6 1247.5,1413.0 1248.0,1408.9 1248.5,1407.8 1249.0,1406.6 1249.5,1409.3 1250.0,1408.7 1250.5,1404.1 1251.0,1402.9 1251.5,1407.6 1252.0,1412.3 1252.5,1417.0 1253.0,1416.3 1253.5,1421.5 1254.0,1415.1 1254.0,1428.5" fill="#45f8f4"/>
<path d="M116 1248.5l1 2 1 2 1 29 1 -35 1 38.5 1 -39 1 43 1 -21 1 -7.5 1 -1 1 16 1 -27.5 1 44.5 1 -32.5 1 13.5 1 -15 1 27 1 -6.5 1 6 1 -31 1 18.5 1 21.5 1 -23.5 1 16 1 0 1 26 1 -51 1 -3 1 13 1 -27.5 1 -11 1 -17.5 1 -2 1 -3 1 -3.5 1 0.5 1 -8.5 1 -2.5 1 -3 1 -1.5 1 -4 1 -15 1 -1 1 1 1 -8.5 1 -7.5 1 -12.5 1 5 1 -7.5 1 0 1 -17 1 -8 1 -6 1 -5 1 -12 1 6.5 1 -18 1 -4.5 1 2 1 -17.5 1 3.5 1 -7 1 -20 1 -6.5 1 1 1 -8.5 1 -13.5 1 -12 1 -22 1 5.5 1 -24.5 1 6.5 1 1.5 1 -12 1 5 1 11 1 -8 1 -10.5 1 1.5 1 -7.5 1 -4 1 13 1 -11 1 0.5 1 -3.5 1 12 1 0.5 1 -14 1 -2.5 1 -2.5 1 19.5 1 -16.5 1 7.5 1 -0.5 1 19.5 1 -8.5 1 12.5 1 -2 1 -7.5 1 4.5 1 9 1 -2.5 1 12.5 1 12.5 1 -7 1 15.5 1 -13 1 19.5 1 9.5 1 -7.5 1 4 1 3.5 1 1.5 1 21 1 3.5 1 -0.5 1 3.5 1 12.5 1 6.5 1 8 1 8.5 1 16.5 1 2.5 1 11.5 1 5 1 19 1 -0.5 1 16.5 1 7 1 3.5 1 21 1 8.5 1 26.5 1 11.5 1 54 1 5.5 1 21.5 1 35.5 1 24 1 12.5 1 -2 1 4 1 -3.5 1 9.5 1 -9 1 -1 1 15.5 1 -5.5 1 -6 1 2.5 1 11.5 1 -3 1 -3.5 1 3 1 5 1 1 1 -11 1 4.5 1 -2 1 2.5 1 4.5 1 -2 1 7 1 -1.5 1 -3.5 1 -6 1 -12.5 1 1 1 9.5 1 1 1 2 1 -9 1 -9.5 1 -4.5 1 -6 1 6.5 1 -9 1 9 1 9 1 -7.5 1 -10 1 15 1 4.5 1 -14.5 1 15.5 1 -1 1 -18.5 1 -6.5 1 8.5 1 -19.5 1 13.5 1 -8 1 -12 1 23 1 -4 1 -5.5 1 13 1 -3.5 1 -11 1 2 1 2 1 -13.5 1 -17 1 10 1 20.5 1 -8.5 1 -5.5 1 0.5 1 -4 1 28 1 -17 1 -5 1 -30 1 30.5 1 28 1 -33.5 1 29.5 1 -3.5 1 -23 1 -26.5 1 32 1 2.5 1 -26 1 -6 1 25.5 1 -4.5 1 1 1 10.5 1 8 1 9.5 1 -6.5 1 -14.5 1 4 1 -7.5 1 0 1 -20.5 1 5.5 1 12.5 1 22.5 1 3 1 2.5 1 -6 1 -5 1 -10.5 1 3 1 -20 1 5.5 1 -3 1 24.5 1 -14 1 -5 1 22 1 -10 1 0 1 3.5 1 -7.5 1 -38.5 1 7 1 1 1 26 1 2 1 7 1 -5 1 -10 1 13.5 1 -10.5 1 20 1 4.5 1 -2.5 1 -6 1 -7.5 1 7 1 1.5 1 -5 1 -7.5 1 5.5 1 2 1 -1.5 1 -25 1 -1.5 1 25 1 12 1 1 1 3 1 -22 1 12 1 -23.5 1 0 1 -18 1 7.5 1 -6 1 24.5 1 -3.5 1 5.5 1 -0.5 1 0.5 1 8.5 1 -18 1 -5 1 16 1 -1.5 1 16 1 4 1 -8.5 1 -35.5 1 -2 1 25.5 1 2.5 1 10.5 1 -2.5 1 -2.5 1 4 1 -14 1 33 1 -28 1 3.5 1 -9 1 5 1 -8.5 1 18.5 1 -8 1 17.5 1 -15 1 19 1 -18.5 1 0.5 1 9.5 1 -7 1 -10 1 7 1 19 1 -22 1 27.5 1 -27.5 1 7.5 1 -24.5 1 13 1 20 1 -19 1 -9 1 25 1 -9 1 5.5 1 -21 1 -2.5 1 19 1 -4.5 1 -1.5 1 1 1 17 1 7.5 1 -23.5 1 -23 1 19.5 1 19.5 1 5 1 -9 1 -2.5 1 -5 1 -7 1 21.5 1 5.5 1 -17.5 1 -21.5 1 15 1 13.5 1 -12 1 9.5 1 -26.5 1 3.5 1 2.5 1 -9.5 1 23.5 1 19 1 9.5 1 -16 1 -29 1 33 1 -10.5 1 -4 1 5 1 -5.5 1 13.5 1 -3 1 -14 1 -13 1 21 1 -1.5 1 -23 1 19 1 9 1 19 1 -7.5 1 11.5 1 -20 1 11 1 -4 1 0 1 -2 1 9.5 1 -19.5 1 -13.5 1 14.5 1 11 1 -7.5 1 -2.5 1 12 1 4.5 1 -6.5 1 10 1 -1 1 -10 1 3 1 -13.5 1 2.5 1 -7 1 9 1 4.5 1 -17.5 1 28.5 1 -9 1 17 1 -2.5 1 -4.5 1 0.5 1 -18.5 1 0 1 26 1 -8 1 -21.5 1 16 1 4.5 1 -6 1 16 1 -8.5 1 11 1 -17.5 1 12.5 1 -3.5 1 4 1 4.5 1 -23 1 -3 1 24.5 1 -14 1 9 1 0.5 1 4 1 -4 1 6.5 1 -0.5 1 -9.5 1 2.5 1 0 1 0.5 1 -1 1 0.5 1 -9.5 1 0.5 1 7 1 -11.5 1 10.5 1 -6.5 1 14.5 1 0.5 1 -11 1 6.5 1 10 1 -14 1 -4.5 1 -5.5 1 8.5 1 16 1 1 1 -14 1 0.5 1 -6.5 1 -2 1 12.5 1 -0.5 1 11 1 -10 1 -13 1 -8 1 13.5 1 13.5 1 -8.5 1 -13.5 1 -3 1 13.5 1 3 1 -16 1 8.5 1 0 1 -9 1 13.5 1 3 1 5.5 1 -12.5 1 -9.5 1 5.5 1 1.5 1 21.5 1 -3.5 1 -14.5 1 0.5 1 -8 1 16 1 -0.5 1 3.5 1 2.5 1 2 1 -0.5 1 -6 1 -7 1 -6 1 11 1 7 1 -21 1 3.5 1 -3.5 1 7.5 1 -1 1 -2.5 1 10.5 1 4.5 1 -3 1 5 1 -11.5 1 2 1 8 1 -11 1 -18.5 1 -2.5 1 22 1 6 1 5.5 1 -18 1 5.5 1 -1.5 1 -10 1 12.5 1 7 1 5 1 -12.5 1 -7.5 1 18.5 1 -1 1 -1 1 -16.5 1 7 1 5 1 -1 1 6.5 1 10 1 0.5 1 -2 1 -0.5 1 -11 1 -6 1 3.5 1 2 1 9 1 9 1 -15.5 1 -16.5 1 12.5 1 17 1 -8 1 -15 1 0 1 15 1 3.5 1 -8.5 1 -10.5 1 1.5 1 4 1 -11 1 12 1 12 1 4.5 1 -2 1 -8 1 -6 1 13.5 1 4.5 1 -7.5 1 -3.5 1 -15.5 1 1.5 1 9.5 1 10 1 1 1 -8 1 4.5 1 3.5 1 -12 1 -4 1 12.5 1 -1 1 -5.5 1 7.5 1 -11.5 1 6 1 11 1 1 1 -11.5 1 3.5 1 9.5 1 1 1 -2 1 -4 1 -4.5 1 -9 1 7 1 -5.5 1 -2.5 1 2 1 13.5 1 -2.5 1 -10.5 1 -0.5 1 0 1 -1 1 10 1 4.5 1 -3.5 1 -0.5 1 6 1 -0.5 1 6 1 -7.5 1 -8 1 -8.5 1 11 1 8.5 1 -1 1 -1.5 1 1.5 1 -5 1 5.5 1 5.5 1 -5.5 1 0.5 1 -2.5 1 1.5 1 0.5 1 -1 1 -2 1 -7.5 1 0 1 6.5 1 2.5 1 -1.5 1 -0.5 1 -8 1 3 1 -2.5 1 -3.5 1 -4.5 1 1 1 9 1 9 1 7.5 1 -1.5 1 -7 1 2.5 1 1 1 -3.5 1 1.5 1 -3 1 1 1 0.5 1 -7.5 1 -1 1 8 1 -12.5 1 -6 1 4 1 15 1 -7.5 1 5.5 1 0.5 1 -1 1 5 1 -5.5 1 -2.5 1 7.5 1 -4 1 0 1 4 1 2 1 -3.5 1 3.5 1 3.5 1 -7.5 1 1.5 1 4.5 1 -7 1 4 1 -10 1 -7.5 1 12.5 1 1.5 1 -5 1 4.5 1 -13.5 1 4 1 4 1 1.5 1 -8.5 1 -4 1 3 1 9.5 1 -8 1 -5 1 13.5 1 -1 1 -10 1 -2 1 10.5 1 6 1 -5.5 1 -1.5 1 6.5 1 -6 1 -13.5 1 12 1 14 1 -6.5 1 -1 1 8.5 1 -6.5 1 -0.5 1 -12.5 1 -6.5 1 12.5 1 8.5 1 -13.5 1 12.5 1 -3.5 1 2 1 4.5 1 -5.5 1 -2 1 4.5 1 -3 1 1 1 3 1 -7 1 5 1 -1 1 -11 1 6 1 -6.5 1 -2 1 -2 1 -4 1 2 1 1.5 1 -5.5 1 15 1 11.5 1 2 1 -6 1 -5.5 1 7.5 1 0.5 1 -7.5 1 -10 1 -5 1 5 1 9.5 1 -10.5 1 4 1 12 1 -6 1 4.5 1 1 1 -6.5 1 -2 1 7.5 1 -2 1 -8.5 1 -5.5 1 -4 1 4.5 1 10.5 1 -7 1 4 1 -5 1 -4 1 10 1 6.5 1 -8.5 1 2.5 1 8.5 1 -17.5 1 12.5 1 -17 1 12.5 1 2.5 1 3 1 -4 1 -12.5 1 5.5 1 12 1 -3.5 1 1.5 1 -7.5 1 3.5 1 0.5 1 -10.5 1 5.5 1 10.5 1 5.5 1 -0.5 1 4.5 1 -7 1 -4 1 -4 1 -6 1 -8 1 0 1 7 1 9.5 1 0 1 11 1 -4 1 -2.5 1 -4.5 1 6 1 -18 1 3 1 -5.5 1 -4.5 1 9 1 -2.5 1 9.5 1 2 1 -13 1 9.5 1 -5 1 -5.5 1 -0.5 1 12 1 12 1 -1 1 3 1 -2.5 1 -1 1 0 1 -8.5 1 -5 1 8.5 1 1 1 -8 1 0 1 -8.5 1 11 1 -12.5 1 0.5 1 0.5 1 13 1 12.5 1 -16.5 1 -8 1 18 1 -1 1 6 1 5.5 1 -12 1 -2.5 1 -6.5 1 5.5 1 6.5 1 -1 1 2 1 3.5 1 -4.5 1 -9 1 -9 1 -4 1 12 1 9 1 6.5 1 -6.5 1 -8 1 8 1 4.5 1 -7.5 1 6.5 1 -3.5 1 1 1 -1 1 3 1 1 1 -1.5 1 -6 1 -7 1 -6 1 15.5 1 -7 1 -10.5 1 2 1 2.5 1 9.5 1 -15.5 1 16 1 -10 1 -6 1 10 1 6 1 -4 1 -9 1 18 1 1 1 5.5 1 -3.5 1 -6.5 1 10.5 1 -1 1 -8 1 -1 1 -8.5 1 -2 1 -4.5 1 16.5 1 3.5 1 -8.5 1 -8.5 1 7.5 1 8.5 1 1.5 1 -7 1 -16 1 8 1 -3 1 -5 1 9 1 7 1 -4 1 9 1 3 1 -0.5 1 -2.5 1 -1.5 1 -7.5 1 -5.5 1 1.5 1 18.5 1 -5 1 2 1 -1.5 1 1.5 1 -7 1 -11.5 1 3.5 1 4 1 -5 1 9.5 1 0 1 -10.5 1 7 1 10.5 1 -4 1 -6 1 4.5 1 0.5 1 -9 1 10.5 1 -7 1 1.5 1 7 1 -4.5 1 -2 1 -7 1 -1 1 8 1 6.5 1 -3 1 2 1 5 1 -4 1 3 1 -0.5 1 -8.5 1 -8.5 1 -8 1 8.5 1 9 1 6 1 -7.5 1 -10.5 1 8 1 9.5 1 0 1 -2.5 1 -8 1 -8 1 8.5 1 4 1 -8.5 1 13 1 0 1 -7 1 4.5 1 1.5 1 2.5 1 -3 1 8.5 1 -2 1 1.5 1 -1 1 4 1 -4.5 1 0 1 -2 1 3.5 1 -5 1 -5.5 1 -3.5 1 -6.5 1 4.5 1 -8.5 1 4.5 1 1.5 1 7.5 1 7 1 -2.5 1 0 1 5 1 -4.5 1 -8.5 1 7 1 -3 1 1.5 1 2.5 1 -7.5 1 0 1 8.5 1 0 1 -1 1 -8.5 1 -9 1 6.5 1 8 1 -8 1 4 1 -4 1 11.5 1 -1.5 1 4 1 -1.5 1 -1 1 -8.5 1 -9 1 5.5 1 7.5 1 -3 1 -10.5 1 7 1 8 1 0.5 1 -5.5 1 7 1 7 1 -7 1 -13 1 5 1 14.5 1 -1 1 -4 1 -4.5 1 -9 1 -4.5 1 9 1 7.5 1 3 1 0.5 1 -11 1 1 1 7.5 1 -9.5 1 4 1 6 1 5.5 1 -2 1 -10.5 1 5.5 1 -7 1 3 1 1 1 1 1 -6.5 1 -3 1 0 1 7.5 1 8 1 -2.5 1 -0.5 1 4.5 1 -14 1 0.5 1 0 1 -3.5 1 8 1 8 1 -12.5 1 7.5 1 -10 1 5 1 7.5 1 2.5 1 -1 1 -6.5 1 -6.5 1 6 1 6.5 1 -11 1 2.5 1 11 1 5 1 -1.5 1 -5 1 7 1 -7 1 8 1 -2.5 1 1 1 -4 1 -4.5 1 -2.5 1 2 1 -5.5 1 9.5 1 4 1 -1.5" fill="none" stroke="#66f2f0" stroke-width="1.0"/>
<line x1="222.7" y1="1342.5" x2="222.7" y2="1428.5" stroke="#e0fcfc" stroke-width="1.2"/>
<polygon points="252.6,1428.5 252.6,1428.5 253.1,1424.5 253.6,1416.4 254.1,1404.2 254.6,1387.9 255.1,1379.3 255.6,1388.4 256.1,1398.2 256.6,1408.0 257.1,1414.5 257.6,1404.4 258.1,1420.2 258.6,1411.9 259.1,1400.6 259.6,1387.3 260.1,1373.9 260.6,1360.4 261.1,1371.1 261.6,1384.2 262.1,1397.5 262.6,1410.8 263.1,1405.3 263.6,1416.9 264.1,1412.7 264.6,1409.0 265.1,1405.1 265.6,1399.9 266.1,1398.4 266.6,1384.2 267.1,1392.7 267.6,1406.8 268.1,1407.2 268.6,1400.1 269.1,1381.9 269.6,1365.6 270.1,1378.1 270.6,1386.1 271.1,1394.2 271.6,1400.6 272.1,1410.5 272.6,1407.9 273.1,1413.4 273.6,1408.8 274.1,1409.0 274.6,1403.1 275.1,1397.2 275.6,1391.3 276.1,1385.4 276.6,1379.6 277.1,1384.5 277.6,1381.6 278.1,1387.8 278.6,1394.0 279.1,1400.2 279.6,1400.2 280.1,1392.3 280.6,1384.4 281.1,1376.5 281.6,1368.7 282.1,1376.4 282.6,1381.1 283.1,1386.1 283.6,1384.0 284.1,1397.9 284.6,1390.2 285.1,1380.6 285.6,1364.0 286.1,1368.0 286.6,1372.1 287.1,1388.7 287.6,1405.3 288.1,1416.2 288.6,1409.5 289.1,1417.1 289.6,1412.5 290.1,1409.9 290.6,1410.3 291.1,1413.0 291.6,1411.6 292.1,1407.6 292.6,1404.4 293.1,1400.7 293.6,1397.1 294.1,1399.3 294.6,1403.0 295.1,1406.7 295.6,1410.3 296.1,1408.9 296.6,1417.6 297.1,1407.8 297.6,1415.6 298.1,1410.6 298.6,1403.4 299.1,1393.8 299.6,1384.2 300.1,1374.6 300.6,1372.0 301.1,1381.6 301.6,1376.8 302.1,1367.0 302.6,1367.6 303.1,1377.5 303.6,1387.3 304.1,1397.2 304.6,1407.0 305.1,1405.1 305.6,1405.5 306.1,1404.9 306.6,1388.8 307.1,1372.8 307.6,1363.4 308.1,1379.5 308.6,1395.6 309.1,1411.7 309.6,1409.4 310.1,1407.0 310.6,1403.4 311.1,1402.7 311.6,1403.3 312.1,1411.5 312.6,1407.7 313.1,1402.9 313.6,1403.6 314.1,1405.6 314.6,1418.5 315.1,1418.0 315.6,1409.0 316.1,1409.5 316.6,1409.2 317.1,1404.0 317.6,1397.5 318.1,1387.4 318.6,1389.7 319.1,1400.1 319.6,1401.1 320.1,1394.5 320.6,1399.0 321.1,1405.8 321.6,1412.5 322.1,1418.2 322.6,1412.7 323.1,1412.2 323.6,1413.0 324.1,1414.0 324.6,1414.1 325.1,1417.7 325.6,1416.6 326.1,1413.0 326.6,1409.4 327.1,1405.9 327.6,1402.4 328.1,1402.7 328.6,1406.5 329.1,1410.2 329.6,1411.2 330.1,1409.1 330.6,1407.8 331.1,1410.9 331.6,1412.2 332.1,1413.2 332.6,1406.5 333.1,1399.8 333.6,1393.0 334.1,1386.1 334.6,1379.2 335.1,1384.6 335.6,1391.0 336.1,1397.6 336.6,1404.3 337.1,1411.0 337.6,1412.2 338.1,1421.5 338.6,1401.9 339.1,1412.2 339.6,1399.7 340.1,1387.1 340.6,1383.5 341.1,1395.8 341.6,1408.3 342.1,1404.8 342.6,1397.5 343.1,1389.6 343.6,1381.6 344.1,1373.4 344.6,1378.9 345.1,1386.6 345.6,1394.1 346.1,1385.7 346.6,1377.3 347.1,1368.7 347.6,1376.0 348.1,1384.0 348.6,1392.1 349.1,1400.4 349.6,1407.4 350.1,1409.7 350.6,1412.0 351.1,1397.1 351.6,1395.9 352.1,1373.0 352.6,1369.2 353.1,1391.8 353.6,1408.8 354.1,1402.9 354.6,1397.3 355.1,1391.7 355.6,1386.2 356.1,1380.9 356.6,1377.1 357.1,1364.0 357.6,1377.3 358.1,1391.1 358.6,1402.1 359.1,1398.8 359.6,1403.1 360.1,1407.3 360.6,1406.6 361.1,1405.7 361.6,1400.5 362.1,1395.3 362.6,1401.0 363.1,1406.5 363.6,1399.0 364.1,1391.5 364.6,1384.1 365.1,1391.9 365.6,1399.9 366.1,1407.7 366.6,1403.0 367.1,1405.9 367.6,1415.8 368.1,1411.2 368.6,1410.4 369.1,1418.3 369.6,1413.6 370.1,1409.0 370.6,1404.4 371.1,1399.8 371.6,1395.2 372.1,1396.2 372.6,1400.8 373.1,1405.4 373.6,1404.2 374.1,1414.6 374.6,1418.2 375.1,1412.6 375.6,1417.6 376.1,1417.9 376.6,1417.7 377.1,1415.8 377.6,1403.5 378.1,1385.0 378.6,1375.1 379.1,1393.6 379.6,1412.1 380.1,1412.3 380.6,1419.3 381.1,1415.8 381.6,1408.9 382.1,1402.0 382.6,1395.1 383.1,1388.2 383.6,1381.4 384.1,1374.5 384.6,1378.6 385.1,1385.4 385.6,1392.3 386.1,1399.2 386.6,1406.1 387.1,1412.1 387.6,1413.8 388.1,1410.3 388.6,1411.8 389.1,1413.1 389.6,1414.1 390.1,1422.6 390.6,1412.0 391.1,1416.6 391.6,1413.9 392.1,1410.6 392.6,1419.3 393.1,1419.0 393.6,1411.2 394.1,1411.3 394.6,1406.8 395.1,1402.3 395.6,1397.8 396.1,1393.3 396.6,1392.2 397.1,1396.7 397.6,1401.3 398.1,1405.8 398.6,1410.3 399.1,1414.7 399.6,1418.4 400.1,1412.3 400.6,1397.0 401.1,1381.8 401.6,1392.7 402.1,1408.0 402.6,1412.8 403.1,1413.0 403.6,1407.8 404.1,1402.6 404.6,1397.4 405.1,1392.2 405.6,1387.0 406.1,1384.9 406.6,1390.1 407.1,1392.4 407.6,1398.9 408.1,1399.0 408.6,1394.4 409.1,1389.8 409.6,1393.8 410.1,1398.4 410.6,1403.0 411.1,1407.6 411.6,1410.2 412.1,1399.1 412.6,1388.0 413.1,1377.0 413.6,1370.6 414.1,1381.6 414.6,1392.7 415.1,1400.6 415.6,1404.8 416.1,1408.2 416.6,1411.5 417.1,1406.0 417.6,1403.2 418.1,1397.7 418.6,1392.2 419.1,1386.7 419.6,1391.9 420.1,1397.4 420.6,1403.0 421.1,1408.5 421.6,1414.0 422.1,1412.1 422.6,1409.6 423.1,1405.6 423.6,1401.6 424.1,1401.1 424.6,1394.6 425.1,1399.4 425.6,1409.0 426.1,1417.7 426.6,1420.2 427.1,1417.0 427.6,1415.0 428.1,1416.8 428.6,1419.4 429.1,1408.3 429.6,1415.8 430.1,1412.5 430.6,1415.5 431.1,1411.8 431.6,1416.9 432.1,1417.7 432.6,1419.6 433.1,1411.5 433.6,1403.5 434.1,1395.5 434.6,1387.5 435.1,1379.5 435.6,1371.5 436.1,1374.8 436.6,1382.8 437.1,1390.9 437.6,1398.9 438.1,1406.9 438.6,1414.9 439.1,1422.8 439.6,1415.6 440.1,1410.2 440.6,1414.9 441.1,1412.4 441.6,1409.1 442.1,1400.7 442.6,1392.4 443.1,1384.1 443.6,1375.9 444.1,1372.4 444.6,1380.8 445.1,1389.1 445.6,1397.4 446.1,1405.7 446.6,1411.6 447.1,1411.7 447.6,1414.3 448.1,1424.9 448.6,1411.7 449.1,1414.3 449.6,1408.9 450.1,1425.6 450.6,1411.9 451.1,1425.6 451.6,1415.4 452.1,1417.1 452.6,1411.5 453.1,1425.3 453.6,1412.2 454.1,1423.4 454.6,1417.9 455.1,1418.8 455.6,1413.2 456.1,1417.9 456.6,1415.3 457.1,1419.2 457.6,1418.1 458.1,1419.5 458.6,1414.0 459.1,1415.0 459.6,1412.1 460.1,1412.8 460.6,1414.0 461.1,1408.5 461.6,1416.2 462.1,1412.3 462.6,1418.8 463.1,1411.1 463.6,1396.9 464.1,1382.7 464.6,1383.6 465.1,1397.8 465.6,1412.0 466.1,1411.1 466.6,1410.2 467.1,1414.2 467.6,1411.1 468.1,1409.5 468.6,1412.6 469.1,1415.8 469.6,1415.7 470.1,1411.9 470.6,1406.7 471.1,1407.9 471.6,1411.8 472.1,1408.9 472.6,1409.5 473.1,1416.9 473.6,1413.6 474.1,1409.9 474.6,1410.8 475.1,1409.6 475.6,1419.0 476.1,1415.9 476.6,1412.0 477.1,1406.7 477.6,1406.6 478.1,1405.8 478.6,1413.2 479.1,1409.5 479.6,1402.2 480.1,1391.9 480.6,1381.6 481.1,1380.0 481.6,1390.4 482.1,1394.0 482.6,1402.1 483.1,1402.1 483.6,1406.2 484.1,1410.3 484.6,1414.4 485.1,1416.7 485.6,1414.1 486.1,1410.9 486.6,1407.0 487.1,1404.7 487.6,1397.9 488.1,1395.2 488.6,1402.1 489.1,1408.8 489.6,1415.6 490.1,1415.2 490.6,1415.9 491.1,1408.5 491.6,1401.2 492.1,1405.9 492.6,1412.6 493.1,1410.0 493.6,1404.0 494.1,1397.9 494.6,1391.8 495.1,1396.8 495.6,1400.5 496.1,1393.7 496.6,1386.9 497.1,1380.1 497.6,1373.6 498.1,1380.5 498.6,1387.4 499.1,1394.2 499.6,1401.0 500.1,1407.9 500.6,1407.3 501.1,1396.2 501.6,1392.8 502.1,1404.0 502.6,1415.1 503.1,1420.1 503.6,1418.5 504.1,1417.9 504.6,1416.8 505.1,1418.2 505.6,1414.2 506.1,1419.0 506.6,1420.2 507.1,1412.7 507.6,1418.7 508.1,1417.4 508.6,1418.9 509.1,1418.9 509.6,1415.2 510.1,1411.3 510.6,1407.5 511.1,1406.6 511.6,1410.5 512.1,1412.2 512.6,1413.0 513.1,1409.7 513.6,1412.0 514.1,1415.3 514.6,1415.8 515.1,1413.6 515.6,1413.1 516.1,1407.9 516.6,1402.7 517.1,1397.5 517.6,1401.9 518.1,1407.1 518.6,1406.3 519.1,1407.4 519.6,1405.5 520.1,1406.8 520.6,1414.4 521.1,1411.9 521.6,1412.0 522.1,1412.3 522.6,1417.9 523.1,1419.4 523.6,1421.0 524.1,1416.6 524.6,1415.0 525.1,1412.9 525.6,1407.6 526.1,1402.4 526.6,1397.2 527.1,1392.0 527.6,1394.5 528.1,1399.7 528.6,1405.0 529.1,1410.2 529.6,1415.4 530.1,1415.1 530.6,1414.0 531.1,1419.5 531.6,1416.8 532.1,1411.1 532.6,1396.6 533.1,1382.2 533.6,1393.2 534.1,1407.8 534.6,1414.7 535.1,1410.7 535.6,1418.9 536.1,1413.6 536.6,1413.8 537.1,1411.4 537.6,1413.4 538.1,1415.9 538.6,1418.9 539.1,1416.2 539.6,1413.2 540.1,1410.3 540.6,1407.5 541.1,1404.8 541.6,1406.6 542.1,1407.2 542.6,1400.3 543.1,1394.7 543.6,1406.7 544.1,1414.2 544.6,1416.9 545.1,1418.3 545.6,1419.7 546.1,1418.3 546.6,1419.5 547.1,1420.2 547.6,1422.1 548.1,1423.4 548.6,1421.2 549.1,1420.2 549.6,1417.6 550.1,1415.2 550.6,1418.2 551.1,1418.6 551.6,1416.6 552.1,1414.5 552.6,1412.4 553.1,1412.0 553.6,1409.8 554.1,1408.3 554.6,1409.9 555.1,1404.4 555.6,1409.3 556.1,1412.5 556.6,1409.0 557.1,1407.0 557.6,1410.5 558.1,1413.2 558.6,1410.1 559.1,1407.0 559.6,1404.4 560.1,1407.5 560.6,1410.7 561.1,1407.8 561.6,1412.0 562.1,1417.4 562.6,1421.9 563.1,1422.6 563.6,1424.9 564.1,1422.9 564.6,1423.0 565.1,1420.2 565.6,1423.7 566.1,1427.3 566.6,1422.5 567.1,1420.1 567.6,1414.3 568.1,1412.3 568.6,1418.0 569.1,1422.8 569.6,1421.3 570.1,1419.3 570.6,1420.3 571.1,1422.3 571.6,1420.9 572.1,1422.8 572.6,1424.2 573.1,1421.9 573.6,1423.8 574.1,1424.9 574.6,1422.6 575.1,1419.7 575.6,1418.0 576.1,1415.8 576.6,1413.5 577.1,1411.2 577.6,1412.6 578.1,1414.9 578.6,1414.7 579.1,1411.0 579.6,1408.6 580.1,1412.4 580.6,1416.1 581.1,1419.9 581.6,1422.3 582.1,1422.5 582.6,1421.4 583.1,1420.4 583.6,1419.3 584.1,1420.1 584.6,1421.1 585.1,1422.1 585.6,1422.4 586.1,1419.4 586.6,1422.3 587.1,1422.5 587.6,1423.9 588.1,1421.7 588.6,1422.7 589.1,1423.1 589.6,1426.8 590.1,1423.8 590.6,1422.9 591.1,1420.1 591.6,1416.3 592.1,1412.4 592.6,1408.6 593.1,1409.3 593.6,1412.5 594.1,1414.5 594.6,1412.3 595.1,1411.6 595.6,1413.9 596.1,1416.2 596.6,1418.5 597.1,1420.8 597.6,1419.9 598.1,1420.5 598.6,1419.1 599.1,1419.1 599.6,1420.4 600.1,1421.8 600.6,1422.8 601.1,1424.2 601.6,1422.2 602.1,1423.6 602.6,1424.7 603.1,1420.8 603.6,1422.7 604.1,1423.7 604.6,1422.3 605.1,1417.7 605.6,1413.2 606.1,1408.6 606.6,1413.2 607.1,1417.8 607.6,1420.4 608.1,1421.7 608.6,1421.1 609.1,1420.5 609.6,1417.6 610.1,1421.2 610.6,1423.4 611.1,1420.1 611.6,1415.6 612.1,1411.1 612.6,1413.1 613.1,1417.6 613.6,1422.1 614.1,1424.3 614.6,1424.2 615.1,1425.5 615.6,1427.5 616.1,1424.9 616.6,1425.0 617.1,1423.7 617.6,1423.7 618.1,1424.7 618.6,1424.4 619.1,1421.3 619.6,1423.3 620.1,1422.1 620.6,1420.3 621.1,1418.5 621.6,1420.1 622.1,1422.0 622.6,1423.8 623.1,1424.7 623.6,1424.7 624.1,1423.9 624.6,1423.0 625.1,1421.8 625.6,1420.7 626.1,1419.6 626.6,1418.9 627.1,1420.3 627.6,1421.6 628.1,1422.9 628.6,1423.9 629.1,1422.6 629.6,1421.3 630.1,1419.2 630.6,1416.6 631.1,1415.7 631.6,1416.3 632.1,1417.5 632.6,1415.0 633.1,1417.6 633.6,1416.9 634.1,1414.9 634.6,1414.8 635.1,1416.3 635.6,1417.8 636.1,1419.5 636.6,1421.2 637.1,1422.5 637.6,1421.7 638.1,1420.5 638.6,1418.8 639.1,1417.0 639.6,1417.7 640.1,1419.1 640.6,1420.6 641.1,1420.5 641.6,1418.7 642.1,1416.9 642.6,1415.1 643.1,1415.2 643.6,1411.5 644.1,1407.6 644.6,1403.7 645.1,1405.8 645.6,1409.2 646.1,1412.7 646.6,1413.3 647.1,1414.3 647.6,1418.4 648.1,1422.7 648.6,1420.7 649.1,1422.1 649.6,1421.1 650.1,1416.6 650.6,1421.0 651.1,1420.3 651.6,1417.8 652.1,1418.5 652.6,1419.7 653.1,1423.3 653.6,1416.8 654.1,1421.8 654.6,1414.8 655.1,1414.8 655.6,1406.1 656.1,1397.3 656.6,1397.4 657.1,1403.4 657.6,1404.8 658.1,1409.0 658.6,1413.2 659.1,1410.4 659.6,1405.3 660.1,1401.4 660.6,1406.2 661.1,1411.1 661.6,1416.1 662.1,1421.1 662.6,1425.4 663.1,1411.2 663.6,1416.5 664.1,1411.5 664.6,1406.4 665.1,1407.7 665.6,1412.5 666.1,1410.9 666.6,1421.3 667.1,1422.0 667.6,1416.7 668.1,1415.9 668.6,1416.6 669.1,1413.3 669.6,1414.2 670.1,1414.5 670.6,1420.5 671.1,1411.2 671.6,1419.6 672.1,1415.5 672.6,1416.5 673.1,1418.6 673.6,1412.4 674.1,1405.6 674.6,1398.0 675.1,1394.2 675.6,1404.5 676.1,1414.9 676.6,1414.6 677.1,1419.7 677.6,1413.5 678.1,1414.5 678.6,1410.8 679.1,1407.0 679.6,1402.4 680.1,1397.8 680.6,1400.4 681.1,1399.1 681.6,1393.5 682.1,1387.9 682.6,1382.4 683.1,1380.4 683.6,1385.9 684.1,1391.5 684.6,1397.0 685.1,1402.6 685.6,1408.1 686.1,1411.3 686.6,1413.7 687.1,1410.2 687.6,1406.7 688.1,1403.2 688.6,1394.0 689.1,1382.7 689.6,1385.0 690.1,1393.1 690.6,1387.1 691.1,1386.3 691.6,1392.3 692.1,1398.3 692.6,1404.4 693.1,1410.4 693.6,1415.1 694.1,1418.6 694.6,1419.5 695.1,1424.3 695.6,1414.4 696.1,1410.0 696.6,1421.3 697.1,1419.4 697.6,1411.7 698.1,1417.1 698.6,1419.6 699.1,1415.0 699.6,1416.9 700.1,1410.8 700.6,1402.9 701.1,1395.0 701.6,1387.1 702.1,1387.7 702.6,1395.6 703.1,1403.5 703.6,1411.4 704.1,1417.9 704.6,1415.9 705.1,1404.8 705.6,1393.6 706.1,1382.5 706.6,1381.3 707.1,1392.4 707.6,1403.6 708.1,1411.7 708.6,1413.8 709.1,1414.8 709.6,1415.0 710.1,1416.7 710.6,1418.5 711.1,1417.7 711.6,1408.3 712.1,1399.6 712.6,1388.8 713.1,1391.3 713.6,1402.1 714.1,1407.2 714.6,1418.9 715.1,1410.7 715.6,1417.3 716.1,1418.9 716.6,1418.5 717.1,1418.7 717.6,1415.6 718.1,1415.0 718.6,1414.8 719.1,1412.2 719.6,1409.6 720.1,1408.5 720.6,1402.5 721.1,1396.5 721.6,1390.5 722.1,1391.9 722.6,1397.9 723.1,1403.9 723.6,1409.9 724.1,1415.9 724.6,1418.0 725.1,1415.5 725.6,1406.8 726.1,1413.0 726.6,1405.5 727.1,1405.3 727.6,1406.2 728.1,1402.3 728.6,1398.3 729.1,1394.3 729.6,1397.7 730.1,1401.7 730.6,1405.2 731.1,1403.7 731.6,1405.4 732.1,1400.5 732.6,1391.1 733.1,1381.8 733.6,1375.9 734.1,1385.2 734.6,1394.6 735.1,1403.9 735.6,1397.2 736.1,1388.6 736.6,1380.8 737.1,1389.4 737.6,1398.0 738.1,1406.6 738.6,1415.2 739.1,1403.7 739.6,1391.8 740.1,1382.8 740.6,1394.7 741.1,1406.6 741.6,1413.2 742.1,1406.4 742.6,1407.4 743.1,1418.1 743.6,1411.9 744.1,1412.9 744.6,1415.0 745.1,1406.8 745.6,1398.6 746.1,1390.3 746.6,1387.4 747.1,1376.7 747.6,1390.1 748.1,1400.7 748.6,1404.7 749.1,1408.6 749.6,1410.8 750.1,1408.2 750.6,1405.5 751.1,1407.7 751.6,1410.3 752.1,1412.9 752.6,1409.5 753.1,1407.2 753.6,1401.8 754.1,1396.3 754.6,1397.7 755.1,1398.2 755.6,1394.2 756.1,1396.4 756.6,1400.3 757.1,1404.2 757.6,1408.1 758.1,1404.9 758.6,1404.4 759.1,1407.6 759.6,1410.8 760.1,1405.6 760.6,1399.2 761.1,1403.3 761.6,1391.2 762.1,1382.5 762.6,1394.5 763.1,1406.5 763.6,1399.9 764.1,1393.1 764.6,1382.7 765.1,1381.5 765.6,1389.9 766.1,1396.6 766.6,1396.6 767.1,1392.1 767.6,1395.5 768.1,1399.9 768.6,1404.4 769.1,1408.0 769.6,1410.8 770.1,1403.6 770.6,1396.4 771.1,1389.2 771.6,1393.3 772.1,1393.6 772.6,1394.1 773.1,1385.4 773.6,1379.4 774.1,1397.5 774.6,1414.5 775.1,1418.0 775.6,1414.7 776.1,1408.8 776.6,1402.6 777.1,1396.4 777.6,1390.1 778.1,1384.2 778.6,1390.4 779.1,1396.6 779.6,1402.8 780.1,1402.7 780.6,1391.3 781.1,1379.8 781.6,1368.6 782.1,1380.0 782.6,1391.4 783.1,1402.9 783.6,1401.5 784.1,1394.2 784.6,1386.8 785.1,1379.4 785.6,1371.9 786.1,1382.5 786.6,1393.6 787.1,1386.8 787.6,1380.1 788.1,1386.4 788.6,1393.1 789.1,1399.8 789.6,1406.6 790.1,1413.3 790.6,1414.8 791.1,1413.3 791.6,1409.1 792.1,1404.9 792.6,1400.7 793.1,1396.5 793.6,1394.5 794.1,1398.5 794.6,1393.3 795.1,1388.1 795.6,1392.5 796.1,1397.6 796.6,1402.8 797.1,1405.2 797.6,1389.2 798.1,1373.2 798.6,1384.4 799.1,1394.5 799.6,1391.2 800.1,1396.2 800.6,1402.0 801.1,1407.8 801.6,1406.4 802.1,1399.9 802.6,1393.4 803.1,1386.9 803.6,1380.4 804.1,1375.9 804.6,1382.4 805.1,1388.8 805.6,1395.3 806.1,1401.8 806.6,1408.2 807.1,1414.8 807.6,1415.8 808.1,1413.1 808.6,1403.8 809.1,1394.5 809.6,1385.2 810.1,1390.7 810.6,1394.2 811.1,1387.6 811.6,1381.0 812.1,1376.0 812.6,1382.5 813.1,1381.2 813.6,1385.0 814.1,1392.4 814.6,1399.0 815.1,1405.1 815.6,1399.8 816.1,1390.3 816.6,1380.7 817.1,1371.2 817.6,1373.6 818.1,1383.0 818.6,1392.5 819.1,1399.2 819.6,1391.1 820.1,1383.1 820.6,1383.4 821.1,1391.3 821.6,1399.3 822.1,1407.3 822.6,1410.1 823.1,1402.8 823.6,1406.0 824.1,1398.6 824.6,1387.3 825.1,1391.5 825.6,1402.6 826.1,1395.0 826.6,1384.3 827.1,1373.6 827.6,1369.8 828.1,1378.4 828.6,1371.1 829.1,1377.6 829.6,1384.7 830.1,1391.8 830.6,1384.5 831.1,1373.0 831.6,1380.0 832.1,1391.3 832.6,1402.5 833.1,1414.2 833.6,1421.5 834.1,1409.7 834.6,1409.2 835.1,1420.4 835.6,1417.3 836.1,1414.4 836.6,1404.7 837.1,1417.6 837.6,1406.1 838.1,1392.5 838.6,1378.9 839.1,1365.2 839.6,1372.8 840.1,1386.3 840.6,1395.2 841.1,1388.9 841.6,1382.9 842.1,1366.1 842.6,1379.0 843.1,1372.9 843.6,1375.0 844.1,1373.6 844.6,1372.7 845.1,1383.6 845.6,1394.6 846.1,1405.6 846.6,1405.4 847.1,1405.0 847.6,1396.5 848.1,1387.4 848.6,1391.1 849.1,1378.9 849.6,1363.9 850.1,1373.0 850.6,1387.9 851.1,1379.1 851.6,1385.7 852.1,1394.8 852.6,1377.6 853.1,1368.3 853.6,1385.4 854.1,1402.6 854.6,1410.6 855.1,1420.7 855.6,1417.5 856.1,1407.8 856.6,1398.0 857.1,1388.2 857.6,1378.3 858.1,1370.5 858.6,1380.2 859.1,1389.9 859.6,1384.0 860.1,1372.2 860.6,1360.4 861.1,1363.2 861.6,1374.9 862.1,1386.6 862.6,1398.4 863.1,1408.4 863.6,1411.5 864.1,1409.6 864.6,1408.6 865.1,1411.6 865.6,1411.3 866.1,1405.9 866.6,1399.5 867.1,1391.5 867.6,1390.1 868.1,1396.4 868.6,1402.7 869.1,1409.0 869.6,1415.4 870.1,1412.3 870.6,1413.2 871.1,1407.7 871.6,1403.4 872.1,1399.1 872.6,1393.7 873.1,1391.5 873.6,1385.5 874.1,1379.4 874.6,1375.9 875.1,1382.2 875.6,1379.4 876.1,1371.8 876.6,1364.4 877.1,1370.0 877.6,1378.1 878.1,1386.2 878.6,1394.1 879.1,1386.3 879.6,1376.0 880.1,1380.2 880.6,1385.5 881.1,1388.9 881.6,1380.0 882.1,1374.7 882.6,1384.1 883.1,1393.5 883.6,1402.7 884.1,1406.8 884.6,1398.4 885.1,1390.2 885.6,1382.0 886.1,1374.0 886.6,1366.1 887.1,1369.1 887.6,1377.7 888.1,1386.1 888.6,1394.5 889.1,1402.7 889.6,1406.4 890.1,1401.6 890.6,1396.8 891.1,1392.1 891.6,1387.4 892.1,1392.3 892.6,1397.5 893.1,1402.5 893.6,1399.0 894.1,1389.8 894.6,1380.8 895.1,1373.5 895.6,1383.1 896.1,1390.1 896.6,1380.5 897.1,1376.4 897.6,1386.6 898.1,1396.7 898.6,1406.6 899.1,1412.5 899.6,1413.2 900.1,1411.8 900.6,1414.3 901.1,1414.5 901.6,1414.6 902.1,1412.1 902.6,1417.3 903.1,1414.2 903.6,1414.8 904.1,1408.7 904.6,1402.8 905.1,1397.2 905.6,1391.9 906.1,1395.5 906.6,1402.0 907.1,1408.3 907.6,1414.2 908.1,1415.8 908.6,1411.8 909.1,1407.9 909.6,1404.3 910.1,1401.1 910.6,1400.2 911.1,1399.0 911.6,1403.5 912.1,1407.7 912.6,1408.1 913.1,1403.1 913.6,1411.5 914.1,1417.4 914.6,1422.4 915.1,1420.7 915.6,1423.2 916.1,1421.6 916.6,1424.4 917.1,1421.7 917.6,1419.4 918.1,1420.2 918.6,1423.2 919.1,1425.0 919.6,1423.3 920.1,1425.5 920.6,1426.4 921.1,1424.9 921.6,1426.0 922.1,1425.4 922.6,1426.2 923.1,1426.5 923.6,1427.2 924.1,1427.7 924.6,1428.0 925.1,1428.4 925.1,1428.5" fill="#1ef01e"/>
<path d="M252.5 1428.5l1 -12 1 -28.5 1 0.5 1 19.5 1 -3.5 1 7.5 1 -24.5 1 -27 1 23.5 1 27 1 6 1 -8 1 -9 1 -16 1 23 1 -7 1 -34.5 1 20.5 1 14.5 1 7.5 1 1 1 -6 1 -11.5 1 -12 1 2 1 12.5 1 6 1 -15.5 1 -16 1 12.5 1 3 1 6 1 -26 1 8 1 33.5 1 4 1 3 1 -2 1 1 1 -7 1 -7.5 1 6 1 7.5 1 7 1 -2 1 -12 1 -19.5 1 -12 1 5 1 -9.5 1 20 1 19.5 1 -1.5 1 -16.5 1 -25.5 1 32 1 14 1 -6 1 0 1 4 1 -4 1 15 1 -9.5 1 0 1 -11.5 1 -8 1 11.5 1 -2 1 13.5 1 0 1 0.5 1 1 1 2.5 1 -7 1 -7 1 4 1 4.5 1 -3 1 4 1 -5.5 1 -13.5 1 -14 1 12 1 13.5 1 7.5 1 -10 1 -2.5 1 -16 1 25 1 -11 1 -16 1 -2.5 1 15 1 -16.5 1 -1.5 1 16 1 15.5 1 4.5 1 -16 1 -27 1 40 1 -11.5 1 -11.5 1 -9 1 0.5 1 24.5 1 1 1 3.5 1 -6 1 0.5 1 -2 1 -15 1 16 1 3 1 13 1 -5.5 1 3 1 -9 1 -9.5 1 6 1 3 1 14 1 -0.5 1 0 1 -14 1 -28.5 1 37 1 7.5 1 -10.5 1 -14 1 -13.5 1 -3 1 14 1 13.5 1 8 1 -2 1 2 1 -2 1 2 1 5.5 1 -8.5 1 -4 1 -9 1 -6 1 9.5 1 9 1 8 1 -21.5 1 -4.5 1 20.5 1 -5 1 -10.5 1 -10.5 1 3 1 9 1 -4.5 1 -0.5 1 9 1 7 1 -22 1 -17.5 1 22 1 12.5 1 6.5 1 -8.5 1 -11 1 0 1 11 1 11 1 -4.5 1 -8 1 -7 1 14.5 1 11 1 -5 1 4.5 1 -3.5 1 -0.5 1 1.5 1 2.5 1 -16 1 -16 1 -16 1 11.5 1 16 1 16 1 0.5 1 -0.5 1 -6 1 -16.5 1 -16.5 1 5 1 16.5 1 14 1 3 1 -3 1 -2.5 1 3 1 3.5 1 -4 1 0.5 1 6 1 -5 1 2.5 1 2.5 1 -4 1 -2 1 2 1 2 1 3 1 -22 1 -13.5 1 28.5 1 -2 1 1 1 1.5 1 3 1 -9 1 5.5 1 -2.5 1 4 1 -2.5 1 8 1 -7 1 -5.5 1 6.5 1 -11 1 -20.5 1 9 1 11.5 1 4 1 8.5 1 -0.5 1 -7 1 -9 1 4 1 13.5 1 0.5 1 -15 1 11.5 1 -8.5 1 -12 1 8.5 1 -13.5 1 -13.5 1 14 1 13.5 1 6.5 1 -14.5 1 22 1 3.5 1 -1.5 1 -3 1 6 1 -1.5 1 0.5 1 -4 1 -7.5 1 3 1 2.5 1 -1 1 4 1 -3 1 -10.5 1 -0.5 1 4.5 1 -1 1 9 1 -2.5 1 6 1 3 1 -6 1 -7.5 1 -10.5 1 -2.5 1 10.5 1 10.5 1 -1.5 1 3 1 -20.5 1 -3.5 1 21.5 1 4.5 1 -5 1 -0.5 1 5.5 1 -6 1 -5.5 1 -1 1 -6 1 6 1 10.5 1 2.5 1 0 1 2.5 1 -1 1 -3.5 1 0.5 1 -1.5 1 -4 1 -2.5 1 0 1 -0.5 1 -0.5 1 1.5 1 -0.5 1 -5.5 1 6 1 1.5 1 10 1 3 1 -2 1 0.5 1 -1 1 -8 1 3.5 1 3.5 1 -1 1 0.5 1 3 1 0 1 -1.5 1 -4.5 1 -4.5 1 -1 1 2 1 -6 1 7.5 1 6.5 1 -1 1 -2 1 1.5 1 1.5 1 0 1 1.5 1 -1.5 1 4.5 1 -4 1 -6.5 1 -8 1 4 1 0 1 1.5 1 4.5 1 1.5 1 -1 1 1.5 1 2.5 1 -1 1 2.5 1 -2 1 0 1 -9.5 1 0 1 7.5 1 0.5 1 -3.5 1 6 1 -8 1 -2.5 1 9 1 2 1 3.5 1 -2.5 1 -1.5 1 1 1 -1 1 -3 1 -0.5 1 4 1 0.5 1 -1.5 1 -2.5 1 -1.5 1 2.5 1 2.5 1 -2.5 1 -5 1 0 1 -1.5 1 2 1 -2 1 3 1 3 1 0.5 1 -2.5 1 -1.5 1 3 1 -2 1 -3.5 1 -3.5 1 -8 1 5.5 1 4.5 1 5 1 2 1 0.5 1 0 1 -3 1 1.5 1 -2.5 1 -2 1 -9 1 -8.5 1 7.5 1 8 1 -7.5 1 0.5 1 10 1 9.5 1 -9 1 -10 1 6 1 9 1 -5 1 0 1 -2.5 1 6.5 1 -1 1 -3 1 -4 1 -14.5 1 6.5 1 10 1 -1 1 -2.5 1 -8.5 1 -2 1 -7 1 -11 1 3.5 1 11 1 11 1 5.5 1 -7 1 -12.5 1 -9 1 2 1 5.5 1 12 1 10.5 1 4.5 1 -5 1 7 1 -10 1 8 1 -2.5 1 -14 1 -16 1 8.5 1 16 1 4.5 1 -22.5 1 -12 1 22 1 10.5 1 1 1 3.5 1 -10 1 -19.5 1 13 1 17 1 -1.5 1 1 1 -3 1 -0.5 1 -5.5 1 -7 1 -12 1 7.5 1 12 1 8 1 -11 1 -1.5 1 0.5 1 -7.5 1 -1 1 7.5 1 0.5 1 -14.5 1 -15 1 18.5 1 2.5 1 -16 1 17 1 17 1 -23 1 2.5 1 18.5 1 -5.5 1 4.5 1 3 1 -16.5 1 -11 1 2.5 1 14.5 1 6.5 1 -5.5 1 5 1 -1 1 -7.5 1 -4.5 1 -3.5 1 6.5 1 7.5 1 -3.5 1 6.5 1 -12 1 -8 1 3.5 1 5.5 1 -17.5 1 7.5 1 6.5 1 -1 1 9 1 6.5 1 -14.5 1 -3 1 0.5 1 -14.5 1 35 1 0 1 -12 1 -12.5 1 0.5 1 12.5 1 -11.5 1 -23 1 23 1 10 1 -14.5 1 -15 1 21.5 1 -13.5 1 13 1 13.5 1 8.5 1 -6 1 -8.5 1 -6 1 -1 1 -1 1 10.5 1 -14 1 -4.5 1 6.5 1 11 1 4.5 1 -13 1 -13 1 2 1 13 1 12.5 1 8 1 -12 1 -19 1 9 1 -13 1 1.5 1 2.5 1 14 1 1 1 -19.5 1 -7 1 19 1 -1.5 1 -7.5 1 16 1 10.5 1 -4 1 -18.5 1 15 1 -18 1 -14.5 1 1 1 13.5 1 0 1 -4.5 1 22.5 1 19 1 -12.5 1 8.5 1 -13 1 1.5 1 -27 1 -6 1 22 1 -12 1 -4 1 -4 1 -2.5 1 22 1 11 1 -9 1 -5.5 1 -27 1 24 1 -2.5 1 -8 1 8 1 25 1 7 1 -19.5 1 -19.5 1 1.5 1 4 1 -23.5 1 14.5 1 23.5 1 13 1 -3 1 3 1 -12 1 -9.5 1 12.5 1 13 1 -2.5 1 -9.5 1 -10 1 -8 1 -9.5 1 3.5 1 -15 1 13.5 1 16 1 -18 1 9.5 1 -5.5 1 4 1 18.5 1 -4 1 -16.5 1 -16 1 11.5 1 17 1 12 1 -9.5 1 -9.5 1 10 1 1.5 1 -18 1 2 1 -2.5 1 6 1 20 1 6.5 1 1.5 1 0 1 3 1 -2.5 1 -12 1 -11 1 10 1 12 1 -2 1 -7.5 1 -4.5 1 3.5 1 4.5 1 3.5 1 11 1 0.5 1 1.5 1 -5 1 3.5 1 0.5 1 3 1 -0.5 1 0 1 1 1 1" fill="none" stroke="#3ee83e" stroke-width="1.0"/>
<path d="M116 1396l1 0 0.5 -10 1 4 1 -20 0.5 2 1 2.5 0.5 6 1 4.5 1 -14.5 0.5 0 1 -2.5 1 -6.5 0.5 -16.5 1 -5 0.5 21.5 1 37 1 12 0.5 -34 1 -32 1 -13.5 0.5 3.5 1 -1.5 0.5 -11.5 1 19.5 1 -19 0.5 -6.5 1 -7.5 1 14 0.5 10.5 1 -22.5 0.5 7.5 0.5 4.5 2 -235 1.5 234 0.5 -5 0.5 13.5 1 -19 0.5 -2 0.5 2 1.5 -329.5 2 384 0.5 18.5 0.5 26 1 -46 0.5 -59.5 1 -24.5 1 10 0.5 -30 1 -27 1 16 0.5 -8.5 1 -13 0.5 12.5 1 17.5 1 -0.5 0.5 17 1 25 1 -4 0.5 -4 1 29.5 0.5 -0.5 1 6 0 -0.5 2 -240.5 1.5 235 0.5 9 1 34 1 42.5 0.5 -2.5 0 -6 2 -375 1.5 274 0.5 -4.5 1 9.5 0 0 1.5 -251.5 2 226 0.5 11 1 -3 1.5 -325 2 353.5 0.5 52 0.5 36 1 -24.5 1 -48.5 0.5 47 1 19.5 1 -46.5 0.5 -54 1 -36 0.5 21.5 1 -1.5 1 9.5 0.5 -9.5 1 -7.5 1 23.5 0.5 11.5 1 0 0.5 -7.5 1 15 0 0 2 -232 2 242.5 0 -6 1 25 0.5 -2.5 1 9.5 1 15 0.5 13 1 25.5 1 16 0.5 -17 1 -25 0.5 -21 1 -13.5 1 -2 0.5 5.5 1 -6.5 1 17 0.5 11 1 3.5 0.5 -7.5 1 -4.5 1 11.5 0.5 -13 1 -1 1 -2.5 0.5 -26 1 8.5 1 -13.5 0.5 3 1 -2.5 0.5 32 1 53.5 1 15.5 0.5 -11 1 -50.5 1 -12.5 0.5 -11.5 1 5 0.5 -4 1 -22.5 1 18.5 0.5 8.5 1 19 1 16 0.5 -5.5 1 8.5 0.5 1.5 1 3 1.5 -225 2 221.5 0.5 3.5 1 5 0.5 -8.5 1 0 1 3.5 0.5 -3 1 -3.5 1 3 0.5 12.5 1 0.5 0.5 -1 1 0 1 10.5 0.5 14 1 -20.5 1 -31.5 0.5 -2 1 -16.5 0.5 5 1 -10 1 12 0.5 0.5 1 4.5 1 0.5 0.5 5.5 1 -4.5 0.5 -7 1 3 1 -15 0.5 -6 1 7 1 -9.5 0.5 -9.5 1 2 0.5 0 1 5 1 4.5 0.5 -12 1 3.5 1 -2.5 0.5 5 1 -12.5 0.5 6 1.5 -360.5 2 355 0 -0.5 1 -15.5 0.5 16.5 1 6.5 1 22 0.5 -2.5 1 14 0.5 -4 1 7 1 1 0 -4 2 -431 1.5 406.5 0.5 0.5 0.5 9 1 0 1 12 0.5 -6 1 16.5 1 2 0.5 -0.5 1 5.5 0.5 0.5 1 -8.5 1.5 -384 2 384.5 0.5 3 1 -2.5 0.5 -6 1 10 1 -17 0.5 -7 1 11.5 1 -11 0.5 14 1 -5.5 0.5 -9.5 1 20 1 0 0.5 9.5 1 13 1 2.5 0.5 7 1 19 0.5 0 1 -11 1 -3.5 0.5 0 1 4 1 -2 0.5 -14 1 -15.5 0.5 -18 1 -8.5 1 18 0.5 44.5 1 12 1 3.5 0.5 -1 1 -6.5 1 -5 0.5 -1 1 5 0.5 3.5 1 -34.5 1 -25 0.5 3 1 14 1 -12.5 0.5 19.5 1 18 0.5 -4 1 9 1 2 0.5 4.5 1 -3 1 -1.5 0.5 1.5 1 -17 0.5 -21.5 1 0.5 1 25.5 0.5 -1.5 1 2 1 -4 0.5 4 1 10 0.5 5 1 0 1 -14 0.5 -24 1 -3.5 1 9 0.5 32.5 1 -2 0.5 -4 1 -35 1 -16.5 0.5 33.5 1 32.5 1 -1 0.5 -10.5 1 -1 0.5 0 1 0.5 1 -5 0.5 -8.5 1 -10 1 -8 0.5 -23 1 -6 0.5 22.5 1 28 1 5 0.5 4 1 -29 1 -13.5 0.5 -3 1 19 0.5 18.5 1 8.5 1 0 0.5 4 1 -0.5 1 -2.5 0.5 -18.5 1 -7 1 14 0.5 -9.5 1 -50.5 0.5 -7.5 1 35.5 1 26 0.5 18.5 1 -1 1 -13.5 0.5 -26 1 -16 0.5 15 1 20.5 1 -11 0.5 -2 1 3.5 1 17.5 0.5 12.5 1 2.5 0.5 -3 1 3 1 -0.5 0.5 -3.5 1 0 1 0 0.5 -12 1 -33 0.5 0.5 1 32 1 14 0.5 2 1 -3.5 1 1.5 0.5 2 1 -10 0.5 -20.5 1 -8.5 1 22.5 0.5 16.5 1 -7 1 -14.5 0.5 -3 1 -19.5 0.5 -10.5 1 25.5 1 16 0.5 10 1 7 1 0 0.5 1 1 -4.5 0.5 -0.5 1 0 1 -2.5 0.5 3 1 -2.5 1 2.5 0.5 -1 1 -2.5 0.5 1.5 1 1.5 1 -11 0.5 -38.5 1 26.5 1 21 0.5 -1 1 3.5 1 0 0.5 0 1 -3.5 0.5 3.5 1 -9 1 -21 0.5 1.5 1 -2.5 1 9 0.5 -17 1 -14 0.5 -1.5 1 25.5 1 8 0.5 -4 1 -33 1 28 0.5 12.5 1 9.5 0.5 5.5 1 -1.5 1 2.5 0.5 -1.5 1 -54 1 -9 0.5 24.5 1 21.5 0.5 18.5 1 1.5 1 -42 0.5 -25.5 1 21 1 44.5 0.5 -1.5 1 0 0.5 -0.5 1 0.5 1 0.5 0.5 2.5 1 -3 1 1 0.5 0 1 -0.5 0.5 1 1 0.5 1 -0.5 0.5 2 1 -1.5 1 -0.5 0.5 0.5 1 -9 0.5 -30 1 -14 1 3.5 0.5 18 1 19.5 1 10 0.5 2.5 1 -23 0.5 -27 1 -0.5 1 7.5 0.5 23.5 1 -23.5 1 0 0.5 33.5 1 7 1 -19 0.5 -19 1 -4 0.5 1.5 1 -6 1 9.5 0.5 24.5 1 12.5 1 4 0.5 -2 1 1.5 0.5 0 1 -3 1 3 0.5 -2 1 -1 1 2 0.5 -11 1 -12.5 0.5 13.5 1 8 1 1 0.5 1 1 0 1 -28 0.5 -27 1 40.5 0.5 15 1 -1 1 -6.5 0.5 -12.5 1 -15.5 1 -23 0.5 22 1 33.5 0.5 -2 1 -12.5 1 -13 0.5 -2 1 14 1 1.5 0.5 -25 1 1.5 0.5 23 1 17.5 1 -3.5 0.5 2 1 -0.5 1 -1 0.5 2 1 2 0.5 -15 1 -13.5 1 -11.5 0.5 0 1 32 1 5.5 0.5 -15.5 1 -2.5 0.5 -6 1 -4 1 -6.5 0.5 3.5 1 22.5 1 8.5 0.5 -2 1 -3 1 2.5 0.5 -1.5 1 -1 0.5 -6.5 1 -8 1 -10 0.5 -12 1 -13.5 1 -16 0.5 -17.5 1 -18.5 0.5 -20 1 -20.5 1 -20.5 0.5 -19.5 1 -18 1 -15.5 0.5 -12 1 -9 0.5 -5 1 0 1 3.5 0.5 8 1 12 1 15 0.5 17.5 1 19 0.5 20.5 1 20.5 1 20 0.5 19 1 18 1 16 0.5 14 1 12 0.5 10.5 1 8.5 1 0.5 0.5 -24.5 1 -45 1 24.5 0.5 35.5 1 7 0.5 -40 1 -33 1 23 0.5 28 1 16 1 8 0.5 -22 1 -24.5 0.5 21 1 19.5 1 4 0.5 0.5 1 -2 1 -14.5 0.5 -17.5 1 15 0.5 18.5 1 4 1 1.5 0.5 -4 1 0 1 1.5 0.5 3 1 -0.5 1 -1 0.5 3 1 -4.5 0.5 1 1 -6 0 -2.5 2.5 -283.5 2 293 0.5 2.5 0.5 1 1 1 1 2 0.5 -1.5 1 -6.5 1 -13.5 0.5 4.5 1 -29 0.5 -26 1 17 1 16 0.5 11.5 1 20 1 7.5 0.5 -6 1 -3.5 0.5 -2.5 1 2.5 1 2.5 0.5 -8 1 -21.5 1 9 0.5 13 1 10 0.5 -3 1 -6 1 12.5 0.5 14.5 1 2 1 -2.5 0.5 1.5 1 -5 0.5 -2.5 1 -5.5 1 2.5 0.5 0.5 1 -2 1 -0.5 0.5 -2.5 1 -14.5 0.5 -14.5 1 3.5 1 13 0.5 10 1 8 1 -1.5 0.5 -0.5 1 -5 0.5 -6.5 1 -10 1 -11.5 0.5 29.5 1 5.5 1 -2.5 0.5 2 1 0 1 -1 0.5 2 1 -2.5 0.5 0.5 1 2.5 1 -19.5 0.5 -17 1 29 1 -2.5 0.5 -21.5 1 0.5 0.5 -8 1 9.5 1 28 0.5 -2 1 3 1 -1 0.5 -2 1 -5.5 0.5 -15 1 7 1 16 0.5 -1 1 -1 1 -3 0.5 -14 1 9.5 0.5 8 1 -1 1 0.5 0.5 -0.5 1 2 1 0 0.5 0 1 -2 0.5 1 1 0 1 1.5 0.5 -5 1 -10 1 -11.5 0.5 3.5 1 14 0.5 9 1 -0.5 1 -15 0.5 -10.5 1 -28 1 1 0.5 26 1 3 0.5 -3.5 1 2 1 13 0.5 10.5 1 0.5 1 -1 0.5 1.5 1 0 1 2 0.5 -1.5 1 -1.5 0.5 2 1 0 1 -1.5 0.5 -1.5 1 3.5 1 11 0.5 -6 1 -6.5 0.5 -0.5 1 -0.5 1 0 0.5 -0.5 1 1.5 1 -1 0.5 1.5 1 -2 0.5 -18 1 -15 1 24.5 0.5 18.5 1 2.5 1 -1 0.5 -3.5 1 -37.5 0.5 -40.5 1 28 1 25.5 0.5 7.5 1 1 1 7.5 0.5 -8 1 -38 0.5 -6 1 38 1 15.5 0.5 -1 1 2.5 1 -3 0.5 0.5 1 0.5 0.5 -22.5 1 10 1 14 0.5 -1.5 1 -5 1 -4 0.5 -0.5 1 4.5 0.5 7 1 -1.5 1 4 0.5 5.5 1 2.5 1 -7 0.5 -31.5 1 -17 0.5 -0.5 1 11 1 1 0.5 9.5 1 6 1 1.5 0.5 1.5 1 6 1 4 0.5 2 1 -19.5 0.5 -15 1 34.5 1 1.5 0.5 -0.5 1 -1 1 -7 0.5 -15 1 -24.5 0.5 4 1 19 1 23 0.5 -1.5 1 2.5 1 -2.5 0.5 4 1 -3.5 0.5 -14 1 -17.5 1 18 0.5 14.5 1 0.5 1 -2 0.5 2.5 1 -4 0.5 3.5 1 -1 1 0 0.5 -9 1 -5.5 1 19 0.5 3.5 1 -0.5 0.5 -0.5 1 2.5 1 2 0.5 -4 1 -15 1 -19 0.5 -14.5 1 -9 0.5 -2.5 1 3 1 14.5 0.5 26.5 1 5 1 -6 0.5 -3 1 5 0.5 0.5 1 4 1 -1 0.5 4.5 1 -1.5 1 0.5 0.5 -4.5 1 3 0.5 -2.5 1 3 1 -0.5 0.5 -2.5 1 1 1 3 0.5 0 1 -4.5 1 -20.5 0.5 -14 1 16 0.5 16 1 3 1 3.5 0.5 -18 1 -11 1 8 0.5 1.5 1 -11.5 0.5 -21.5 1 12 1 26.5 0.5 13.5 1 0 1 -3.5 0.5 -30 1 -4 0.5 9.5 1 24.5 1 -3.5 0.5 6 1 -6.5 1 1 0.5 -23.5 1 2 0.5 20.5 1 0.5 1 -18 0.5 -42.5 1 -3 1 10.5 0.5 -7.5 1 -4 0.5 22 1 38 1 -18 0.5 -20 1 -2 1 18 0.5 22 1 -0.5 0.5 3 1 -8 1 -2.5 0.5 9 1 19.5 1 -5 0.5 -27.5 1 -19 0.5 1 1 0.5 1 -1.5 0.5 -1 1 4.5 1 -0.5 0.5 6.5 1 0.5 0.5 3.5 1 -15.5 1 -8.5 0.5 -4 1 7.5 1 4 0.5 12 1 -15.5 1 12.5 0.5 5.5 1 26 0.5 5.5 1 -39 1 -31.5 0.5 -13.5 1 -8.5 1 18 0.5 10.5 1 22.5 0.5 -3.5 1 2.5 1 3 0.5 -17.5 0.5 0 2.5 -35.5 2 29 1 -0.5 0.5 -11.5 1 -2.5 1 -12 0.5 6.5 1 -21 0.5 -3 1 -3.5 1 -13 0.5 17.5 0 1 2.5 -32.5 2.5 97.5 0 -1 1 -9.5 0.5 6 1 2.5 1 -3.5 0.5 -3 1 1.5 0.5 -20 1 -11.5 1 7.5 0.5 -20 1 -4.5 1 26 0.5 -13 1 25 0.5 -11 1 15.5 2 -317 2.5 361 0.5 -19 0.5 -22.5 1 -6 1 -11 0.5 18.5 1 1.5 1 -17 0.5 17 1 -10 1 -3 0.5 -3.5 1 3 0.5 14 1 5.5 1 -4.5 0.5 2.5 0.5 6.5 2.5 -409 2 411.5 1 -5 0.5 4.5 1 -2.5 1 -11.5 0.5 -16.5 0.5 -5 2 -400.5 2.5 417.5 1 3.5 0.5 -11.5 1 3.5 0.5 2.5 1 -23 0.5 1 2 -80 2.5 107.5 0 1 0.5 3 1 4.5 1 6.5 0.5 1 2 -159 2.5 173 0.5 19.5 1 9 0.5 -32.5 1 4 1 -9.5 0.5 9.5 1 -6 0.5 0 1 9 1 -3.5 0 -2 2.5 -180.5 2 184 0 -0.5 1 -3 1 4.5 0.5 -4 1 -8.5 1 0 0.5 -2.5 0.5 5.5 2.5 -226 2 219.5 1 -9 0.5 -3.5 1 -22 0.5 -9 2.5 -292.5 2.5 333 0 -4 1 -6.5 1 -3.5 0.5 11 1 1.5 0.5 -9 1 6 1 6.5 0.5 -0.5 1 -12.5 0.5 -6 2 -118.5 2.5 50 0.5 -2.5 1 17 1 16.5 0.5 0 1 17 0.5 -15.5 1 6.5 1 10.5 0.5 4 1 10.5 1 5.5 0.5 -2.5 2 -208.5 2.5 188.5 0.5 3 1 -30.5 0.5 -2 1 -26.5 0.5 -48 1 -19.5 1 -51.5 0.5 36 0.5 -6 2.5 27.5 2 9.5 1 18 0.5 19 1 21.5 1 39 0.5 5.5 0.5 -0.5 2.5 -256 2 252 1 -10.5 0.5 -24 1 -27.5 1 -34 0.5 3 0.5 7 2 -12 2.5 27 0 -0.5 1 7 0.5 -16 1 5.5 0.5 59 1 9 1 24.5 0.5 14.5 2.5 -347.5 2 358 0.5 8 1 -3 0.5 5.5 1 6.5 1 21.5 0.5 12.5 1 -10 0.5 -25.5 1 -36 1 -16.5 0.5 -8.5 1 -14 2 -60.5 2.5 27.5 0.5 3 0.5 -7 1 -5 1 28.5 0.5 19 1 44 2 -155.5 2.5 128 0.5 7.5 0.5 3.5 1 5.5 0.5 -13.5 1 -6 1 -29 0.5 -19 1 -7 0.5 -5 2.5 -146 2 142 0.5 -1.5 1 6.5 1 26.5 0.5 6.5 1 5.5 1 11.5 0.5 24 1 14.5 2 -397.5 2.5 412.5 0.5 -2 0.5 -12.5 1 -9 0.5 -2 1 0.5 1 -1 0.5 21 1 2 1 7 0.5 5 1 -3 0.5 8.5 1 -4 1 3 0.5 4 1 -8.5 1 0.5 0.5 9 1 -3.5 0.5 4.5 1 2 2 -216.5 2.5 224 0.5 -7 0.5 -4.5 1 -8 1 -2 2 -233 2.5 192 0 2 1 -4 1 4.5 0.5 16 1 21 1 36.5 0.5 -13.5 1 -55.5 0.5 -30 1 -18 1 22.5 0.5 -12 1 15 0.5 5.5 2.5 -101 2 128 0.5 -5.5 2.5 -147.5 2 102.5 0.5 -2.5 1 6.5 0.5 20.5 1 2 0 -5 2.5 -205 2 177.5 0.5 -13.5 0.5 30.5 1 7 1 19.5 0.5 -3 1 -0.5 1 11.5 0.5 8 2 -237 2.5 218 0.5 3 1 7.5 0.5 -29.5 1 14 0.5 -6.5 1 -7 1 6.5 0.5 -2 1 -14.5 1 -16 0.5 15.5 1 -14.5 0.5 25 0.5 1 2 -13.5 2.5 -54.5 0 -3 1 -13 0.5 -29 1 23 1 5.5 0.5 6 1 6 0.5 14 2.5 -61 2 59.5 0.5 1.5 1 29.5 1 33 0.5 24.5 1 58.5 0.5 -8 2 -254.5 2.5 182 0.5 -33.5 1 -28.5 1 10.5 0.5 50 1 14.5 0.5 2 2 -404 2.5 431.5 0.5 6 1 -1 0.5 -1 1 -0.5 2 -207.5 2.5 215 0.5 -3 0.5 -8 1 4 1 -5.5 0.5 4.5 1 1 1 6 0.5 -12 1 4 0.5 1.5 0.5 1.5 2.5 -259.5 2 233.5 0 -0.5 1 3 0.5 -3 1 -7.5 1 3 0.5 12 1 22.5 0.5 27.5 2.5 -432.5 2 373.5 0.5 -14 1 47 1 28 0.5 -33 1 -15.5 0.5 15.5 2 -269.5 2.5 291.5" fill="none" stroke="#26ec26" stroke-width="2.3" stroke-linejoin="round"/>
<path d="M153.9 1428.5 L161.5 1423.4 L174.2 1420.9 L181.8 1420.4 L191.9 1415.9 L204.5 1415.3 L217.2 1412.3 L232.3 1411.3 L267.7 1411.8 L368.9 1414.8 L470.0 1415.9 L528.2 1414.8 L535.8 1416.4 L545.9 1422.4 L553.5 1428.5M586.4 1428.5 L589.2 1416.7 L592.0 1412.3 L594.8 1409.7 L597.6 1408.4 L600.4 1408.4 L603.2 1409.7 L606.0 1412.3 L608.9 1416.7 L611.7 1428.5M622.8 1428.5 L629.4 1386.5 L634.4 1335.4 L639.5 1284.3 L643.0 1234.3 L645.5 1190.3 L648.1 1234.3 L650.6 1302.0 L654.7 1344.5 L658.4 1362.7 L658.4 1367.5 L662.2 1370.0 L665.9 1372.9 L669.7 1376.2 L673.4 1379.7 L677.2 1382.9 L680.9 1385.9 L684.7 1388.7 L688.4 1391.4 L692.2 1393.8 L695.9 1396.1 L699.7 1398.2 L703.4 1400.1 L707.2 1401.8 L710.9 1403.3 L714.6 1404.5 L718.4 1405.6 L722.1 1406.6 L725.9 1407.5 L729.6 1408.3 L733.4 1409.0 L737.1 1409.7 L740.9 1410.3 L744.6 1411.0 L748.4 1411.6 L752.1 1412.3 L755.9 1412.8 L759.6 1413.3 L763.4 1413.8 L767.1 1414.2 L770.8 1414.6 L774.6 1414.9 L778.3 1415.2 L782.1 1415.5 L785.8 1415.8 L789.6 1416.1 L793.3 1416.4 L797.1 1416.6 L800.8 1416.9 L804.6 1417.1 L808.3 1417.3 L812.1 1417.5 L815.8 1417.7 L819.5 1417.9 L823.3 1418.1 L827.0 1418.3 L830.8 1418.5 L834.5 1418.6 L838.3 1418.8 L842.0 1418.9 L845.8 1419.0 L849.5 1419.2 L853.3 1419.3 L857.0 1419.4 L860.8 1419.5 L864.5 1419.5 L868.3 1419.6 L872.0 1419.7 L875.7 1419.8 L879.5 1419.9 L883.2 1420.0 L887.0 1420.1 L890.7 1420.2 L894.5 1420.3 L898.2 1420.3 L902.0 1420.4 L905.7 1420.4 L909.5 1420.4 L913.2 1420.4 L917.0 1420.4 L920.7 1420.4 L924.5 1420.4 L928.2 1420.4 L931.9 1420.4 L935.7 1420.4 L939.4 1420.4 L943.2 1420.4 L946.9 1420.4 L950.7 1420.4 L954.4 1420.4 L958.2 1420.4 L961.9 1420.4 L965.7 1420.4 L969.4 1420.4 L973.2 1420.4 L976.9 1420.4 L980.7 1420.4 L984.4 1420.4 L988.1 1420.4 L991.9 1420.4 L995.6 1420.4 L999.4 1420.4 L1003.1 1420.4 L1006.9 1420.4 L1010.6 1420.4 L1014.4 1420.4 L1018.1 1420.4 L1021.9 1420.4 L1025.6 1420.4 L1029.4 1420.4 L1033.1 1420.4 L1036.9 1420.4 L1040.6 1420.4 L1044.3 1420.4 L1048.1 1420.4 L1051.8 1420.4 L1055.6 1420.4 L1059.3 1420.4 L1063.1 1420.4 L1066.8 1420.4 L1070.6 1420.4 L1074.3 1420.4 L1078.1 1420.4 L1081.8 1420.4 L1085.6 1420.4 L1089.3 1420.4 L1093.1 1420.4 L1096.8 1420.4 L1100.5 1420.4 L1104.3 1420.4 L1104.3 1420.4 L1104.3 1351.1 L1107.3 1327.3 L1111.9 1276.8 L1114.2 1213.0 L1116.2 1089.6 L1119.2 922.7 L1121.2 1125.0 L1123.0 1216.0 L1124.8 1276.8 L1130.1 1351.1 L1134.1 1370.3 L1137.2 1377.9 L1137.2 1420.4 L1203.4 1420.4 L1228.7 1422.4 L1254.0 1428.5" fill="none" stroke="#d41414" stroke-width="3.6" stroke-linejoin="round"/>
<rect x="116.0" y="821.5" width="1138.0" height="607.0" fill="none" stroke="#a8a8a8" stroke-width="2"/>
<path d="M116.0 1428.5v-7M116.0 821.5v7M242.4 1428.5v-7M242.4 821.5v7M368.9 1428.5v-7M368.9 821.5v7M495.3 1428.5v-7M495.3 821.5v7M621.8 1428.5v-7M621.8 821.5v7M748.2 1428.5v-7M748.2 821.5v7M874.7 1428.5v-7M874.7 821.5v7M1001.1 1428.5v-7M1001.1 821.5v7M1127.6 1428.5v-7M1127.6 821.5v7M1254.0 1428.5v-7M1254.0 821.5v7M116.0 1428.5h7M1254.0 1428.5h-7M116.0 1327.3h7M1254.0 1327.3h-7M116.0 1226.2h7M1254.0 1226.2h-7M116.0 1125.0h7M1254.0 1125.0h-7M116.0 1023.8h7M1254.0 1023.8h-7M116.0 922.7h7M1254.0 922.7h-7M116.0 821.5h7M1254.0 821.5h-7" stroke="#8c8c8c" stroke-width="1.5" fill="none"/>
<text x="116.0" y="1463" text-anchor="middle" class="tk">0</text>
<text x="242.4" y="1463" text-anchor="middle" class="tk">5</text>
<text x="368.9" y="1463" text-anchor="middle" class="tk">10</text>
<text x="495.3" y="1463" text-anchor="middle" class="tk">15</text>
<text x="621.8" y="1463" text-anchor="middle" class="tk">20</text>
<text x="748.2" y="1463" text-anchor="middle" class="tk">25</text>
<text x="874.7" y="1463" text-anchor="middle" class="tk">30</text>
<text x="1001.1" y="1463" text-anchor="middle" class="tk">35</text>
<text x="1127.6" y="1463" text-anchor="middle" class="tk">40</text>
<text x="1254.0" y="1463" text-anchor="middle" class="tk">45</text>
<text x="109" y="1439.1" text-anchor="end" class="tk">0</text>
<text x="109" y="1337.9" text-anchor="end" class="tk">0.2</text>
<text x="109" y="1236.8" text-anchor="end" class="tk">0.4</text>
<text x="109" y="1135.6" text-anchor="end" class="tk">0.6</text>
<text x="109" y="1034.4" text-anchor="end" class="tk">0.8</text>
<text x="109" y="933.3" text-anchor="end" class="tk">1</text>
<text x="109" y="832.1" text-anchor="end" class="tk">1.2</text>
<text x="685.5" y="808" text-anchor="middle" class="ttl">Instantaneous Frequency Estimation</text>
<text x="684.5" y="1501" text-anchor="middle" class="xl">Distance (m)</text>
<text transform="translate(62,1126.0) rotate(-90)" text-anchor="middle" class="xl">Amplitude(mV)</text>
<rect x="945.5" y="827.5" width="304.0" height="91.5" fill="#fff" stroke="#9a9a9a" stroke-width="1.5"/>
<line x1="948" y1="846.5" x2="978" y2="846.5" stroke="#48e0e6" stroke-width="3.5"/>
<text x="981" y="855.0" class="lg">IMF 1 (Kurtosis / Ikaz)</text>
<line x1="948" y1="876.5" x2="978" y2="876.5" stroke="#3ed83e" stroke-width="3.5"/>
<text x="981" y="885.0" class="lg">IMF 3 (Variance)</text>
<line x1="948" y1="906.5" x2="978" y2="906.5" stroke="#d41818" stroke-width="3.5"/>
<text x="981" y="915.0" class="lg">IMF 4 (Normalized Ikaz)</text>
<rect x="124.5" y="832.5" width="278" height="103.5" fill="#fff" stroke="#1a1a1a" stroke-width="1.6"/>
<text x="264" y="894.25" text-anchor="middle" class="pl">(b)</text>
<text x="876" y="1017.5" class="ann">Outlet</text>
<line x1="989" y1="1010.5" x2="1084.5" y2="1010.5" stroke="#b81412" stroke-width="4.5"/><polygon points="1081.5,1002.5 1098.5,1010.5 1081.5,1018.5" fill="#b81412"/>
<text x="381" y="1215.5" class="ann">Leak</text>
<line x1="491" y1="1203.5" x2="621" y2="1203.5" stroke="#b81412" stroke-width="4.5"/><polygon points="618,1195.5 635,1203.5 618,1211.5" fill="#b81412"/>
<line x1="113" y1="1524.4" x2="1274" y2="1524.4" stroke="#000" stroke-width="4.8" stroke-linecap="round"/>
<circle cx="113" cy="1524.8" r="16.6" fill="#050b14"/>
<g fill="#8399b2"><polygon points="108.6,1514.4 118.6,1514.4 113.5,1520.6"/><polygon points="108.4,1535.6 119,1535.6 113.6,1529"/><polygon points="102.5,1518.4 102.5,1531 108.2,1524.7"/><polygon points="124.8,1518.8 124.8,1531.2 118,1524.9"/></g>
<circle cx="657" cy="1524" r="14.5" fill="#e21414" stroke="#000" stroke-width="3"/>
<polygon points="1116.3,1492.3 1146.9,1492.3 1131.6,1517.6" fill="#000" stroke="#000" stroke-width="1" stroke-linejoin="round"/>
<polygon points="1116.3,1542.2 1146.9,1542.2 1131.6,1517.4" fill="#000" stroke="#000" stroke-width="1" stroke-linejoin="round"/>
<polygon points="1125.6,1498.6 1137.6,1498.6 1131.6,1510.2" fill="#7d9bc0"/>
<polygon points="1125.6,1536 1137.6,1536 1131.6,1525" fill="#6e93c4"/>
<line x1="110.5" y1="1557" x2="110.5" y2="1638" stroke="#000" stroke-width="5" stroke-dasharray="5 7"/>
<line x1="657.5" y1="1542" x2="657.5" y2="1634" stroke="#000" stroke-width="5" stroke-dasharray="5 7"/>
<line x1="1132" y1="1544" x2="1132" y2="1634" stroke="#000" stroke-width="5" stroke-dasharray="5 7"/>
<rect x="139" y="1551.5" width="256" height="73.5" fill="#fff" stroke="#111" stroke-width="2"/>
<rect x="693" y="1559" width="145" height="59" fill="#fff" stroke="#111" stroke-width="2"/>
<rect x="1159" y="1563" width="116.5" height="61.5" fill="#fff" stroke="#111" stroke-width="2"/>
<text x="168" y="1591" class="sr">Fire hydrant</text>
<text x="725" y="1597" class="sr">Leak</text>
<text x="1168.5" y="1601.5" class="sr">Outlet</text>
<line x1="133" y1="1637.5" x2="635" y2="1637.5" stroke="#000" stroke-width="5.5"/><polygon points="119,1637.5 136,1630.0 133,1637.5 136,1645.0" fill="#000" stroke="#000" stroke-width="1.5" stroke-linejoin="round"/><polygon points="649,1637.5 632,1630.0 635,1637.5 632,1645.0" fill="#000" stroke="#000" stroke-width="1.5" stroke-linejoin="round"/>
<line x1="686" y1="1636.5" x2="1114" y2="1636.5" stroke="#000" stroke-width="5.5"/><polygon points="672,1636.5 689,1629.0 686,1636.5 689,1644.0" fill="#000" stroke="#000" stroke-width="1.5" stroke-linejoin="round"/><polygon points="1128,1636.5 1111,1629.0 1114,1636.5 1111,1644.0" fill="#000" stroke="#000" stroke-width="1.5" stroke-linejoin="round"/>
<text transform="translate(397.5,1676) scale(0.87,1)" text-anchor="middle" class="dm">19.7 m</text>
<text transform="translate(924,1669.5) scale(0.87,1)" text-anchor="middle" class="dm">20.1 m</text>
<rect x="22.2" y="19.6" width="1256.3" height="1677.4" fill="none" stroke="#000" stroke-width="3.4"/>
</svg></body></html>
